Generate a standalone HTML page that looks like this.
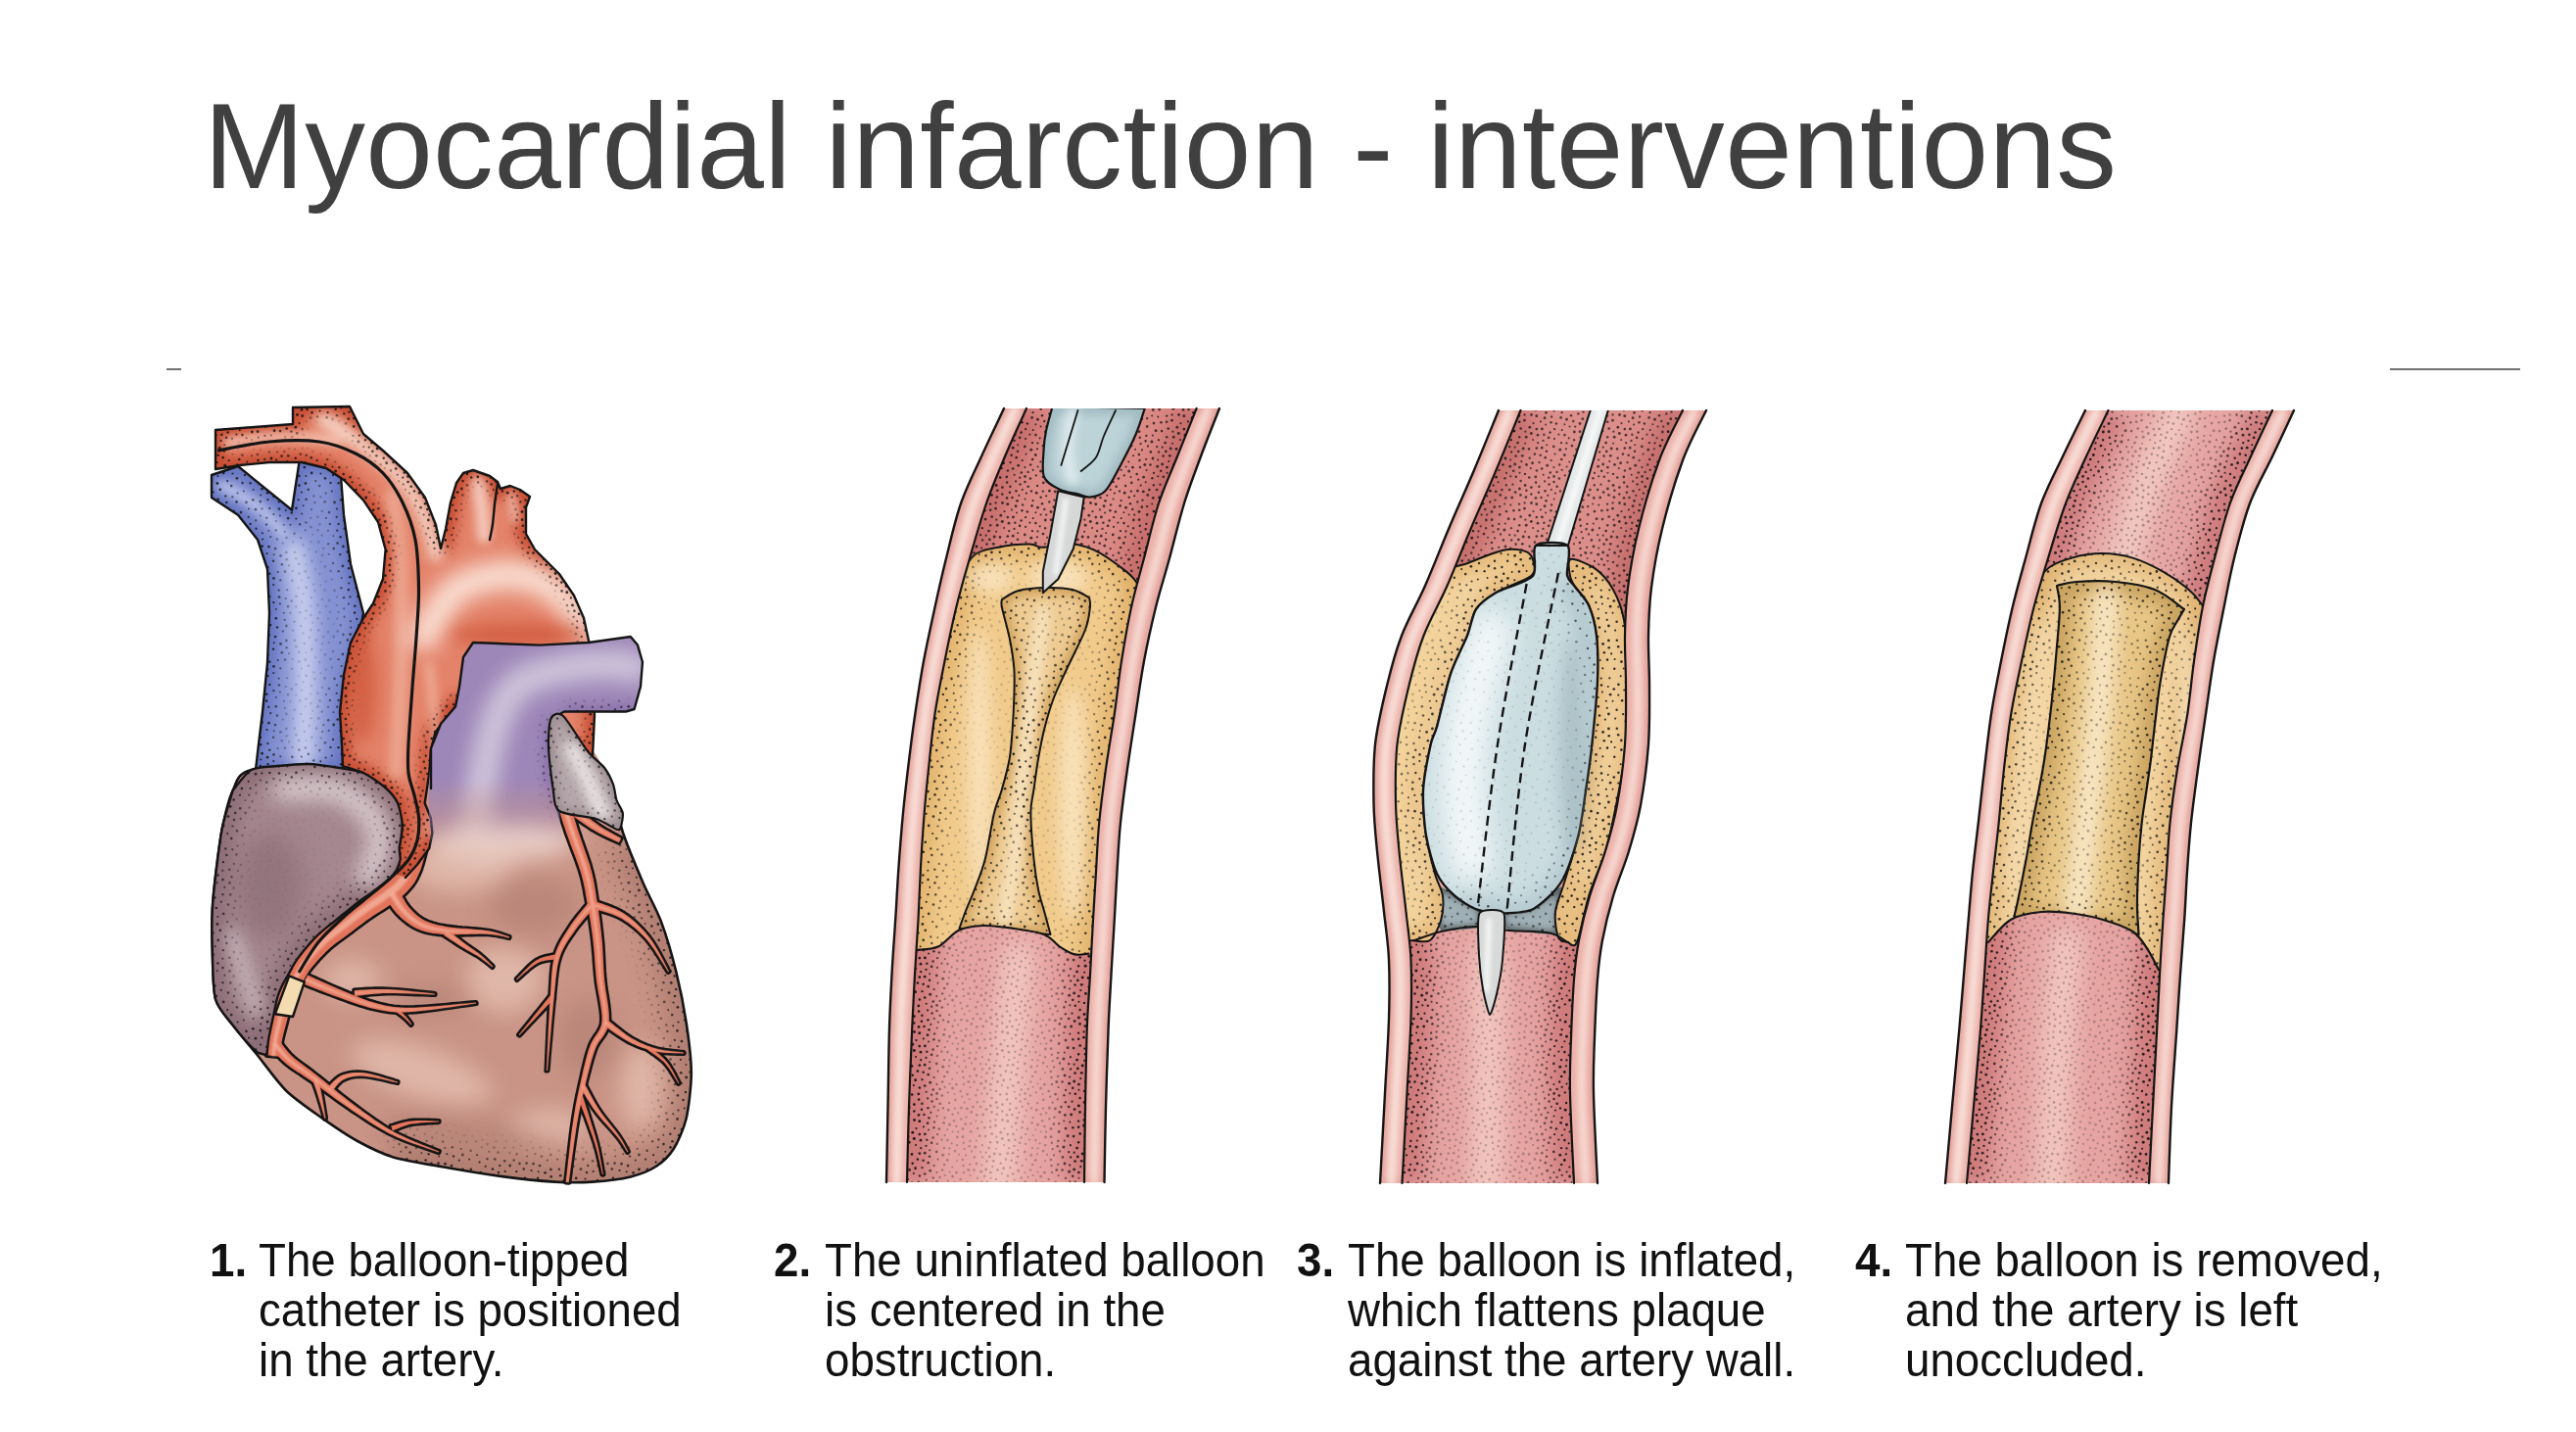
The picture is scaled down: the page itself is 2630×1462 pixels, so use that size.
<!DOCTYPE html>
<html><head><meta charset="utf-8">
<style>
html,body{margin:0;padding:0;background:#fff;}
body{width:2630px;height:1462px;position:relative;overflow:hidden;font-family:"Liberation Sans",sans-serif;}
#title{position:absolute;left:208px;top:88px;font-size:123.4px;letter-spacing:0.34px;color:#404040;white-space:nowrap;line-height:1;transform-origin:0 0;}
.ln{position:absolute;height:2px;background:#727272;}
.cap{position:absolute;font-size:45.7px;line-height:51px;color:#111;white-space:nowrap;}
.cap span{display:block;transform:scaleY(1.06);transform-origin:0 41px;}
svg{position:absolute;left:0;top:0;}
</style></head><body>
<svg width="2630" height="1462" viewBox="0 0 2630 1462"><defs><pattern id="st1" width="90" height="90" patternUnits="userSpaceOnUse"><g fill="#111" fill-opacity="0.9"><circle cx="21.4" cy="49.0" r="1.49"/><circle cx="33.3" cy="54.4" r="1.23"/><circle cx="56.3" cy="5.9" r="1.36"/><circle cx="1.2" cy="75.4" r="1.37"/><circle cx="91.2" cy="75.4" r="1.37"/><circle cx="23.3" cy="21.1" r="1.11"/><circle cx="-0.4" cy="42.3" r="1.04"/><circle cx="89.6" cy="42.3" r="1.04"/><circle cx="75.3" cy="42.9" r="1.30"/><circle cx="57.5" cy="13.6" r="1.06"/><circle cx="57.1" cy="78.1" r="1.19"/><circle cx="47.1" cy="66.7" r="1.44"/><circle cx="68.2" cy="53.2" r="1.44"/><circle cx="27.1" cy="2.8" r="1.06"/><circle cx="64.7" cy="79.1" r="1.04"/><circle cx="35.5" cy="72.1" r="1.11"/><circle cx="40.0" cy="84.2" r="1.41"/><circle cx="79.1" cy="8.8" r="1.01"/><circle cx="12.2" cy="19.5" r="1.11"/><circle cx="56.4" cy="27.1" r="1.05"/><circle cx="45.7" cy="34.7" r="1.06"/><circle cx="52.6" cy="81.4" r="1.26"/><circle cx="61.4" cy="83.6" r="1.09"/><circle cx="77.1" cy="-0.8" r="1.20"/><circle cx="77.1" cy="89.2" r="1.20"/><circle cx="81.4" cy="51.2" r="1.37"/><circle cx="64.2" cy="19.0" r="1.36"/><circle cx="74.8" cy="51.6" r="1.21"/><circle cx="8.0" cy="72.1" r="1.39"/><circle cx="36.9" cy="13.6" r="1.29"/><circle cx="26.5" cy="69.2" r="1.41"/><circle cx="64.7" cy="29.8" r="1.12"/><circle cx="45.5" cy="-0.1" r="1.18"/><circle cx="45.5" cy="89.9" r="1.18"/><circle cx="17.8" cy="36.7" r="1.29"/><circle cx="28.2" cy="86.3" r="1.47"/><circle cx="80.7" cy="34.0" r="1.31"/><circle cx="41.4" cy="46.8" r="1.24"/><circle cx="57.9" cy="53.6" r="1.13"/><circle cx="50.3" cy="55.8" r="1.14"/><circle cx="84.7" cy="45.6" r="1.11"/><circle cx="38.8" cy="64.8" r="1.49"/><circle cx="21.4" cy="27.1" r="1.44"/><circle cx="1.8" cy="55.4" r="1.45"/><circle cx="56.5" cy="42.0" r="1.26"/><circle cx="63.6" cy="66.4" r="1.35"/><circle cx="2.0" cy="5.5" r="1.15"/><circle cx="22.6" cy="41.1" r="1.24"/><circle cx="32.8" cy="28.1" r="1.07"/><circle cx="27.0" cy="33.9" r="1.21"/><circle cx="69.5" cy="2.4" r="1.13"/><circle cx="72.3" cy="21.5" r="1.05"/><circle cx="62.8" cy="9.2" r="1.46"/><circle cx="77.0" cy="15.2" r="1.05"/><circle cx="20.3" cy="10.9" r="1.41"/><circle cx="47.7" cy="17.2" r="1.35"/><circle cx="72.6" cy="75.5" r="1.05"/><circle cx="72.7" cy="57.8" r="1.24"/><circle cx="72.6" cy="31.1" r="1.50"/><circle cx="11.7" cy="26.3" r="1.49"/><circle cx="31.2" cy="37.5" r="1.28"/><circle cx="37.8" cy="36.9" r="1.39"/><circle cx="82.9" cy="14.0" r="1.35"/><circle cx="0.4" cy="84.9" r="1.15"/><circle cx="90.4" cy="84.9" r="1.15"/><circle cx="83.5" cy="20.0" r="1.27"/><circle cx="59.7" cy="46.7" r="1.30"/><circle cx="81.3" cy="62.4" r="1.20"/><circle cx="83.1" cy="80.7" r="1.41"/><circle cx="1.2" cy="67.1" r="1.22"/><circle cx="91.2" cy="67.1" r="1.22"/><circle cx="22.7" cy="77.5" r="1.37"/><circle cx="42.9" cy="70.4" r="1.03"/><circle cx="31.7" cy="17.8" r="1.22"/><circle cx="48.1" cy="73.5" r="1.02"/><circle cx="15.4" cy="71.3" r="1.32"/><circle cx="83.0" cy="72.5" r="1.44"/><circle cx="4.5" cy="24.4" r="1.27"/><circle cx="38.1" cy="42.6" r="1.28"/><circle cx="4.9" cy="11.4" r="1.31"/><circle cx="11.2" cy="6.2" r="1.11"/><circle cx="7.8" cy="45.2" r="1.19"/><circle cx="52.8" cy="32.5" r="1.29"/><circle cx="11.1" cy="50.0" r="1.32"/><circle cx="41.5" cy="22.1" r="1.19"/><circle cx="6.4" cy="38.2" r="1.24"/><circle cx="69.1" cy="46.0" r="1.17"/><circle cx="67.4" cy="84.1" r="1.28"/><circle cx="22.5" cy="55.4" r="1.34"/><circle cx="67.8" cy="35.4" r="1.16"/><circle cx="87.6" cy="37.2" r="1.34"/><circle cx="67.3" cy="14.5" r="1.42"/><circle cx="43.5" cy="57.9" r="1.27"/><circle cx="16.7" cy="24.1" r="1.49"/><circle cx="26.6" cy="63.5" r="1.15"/><circle cx="19.6" cy="2.1" r="1.46"/><circle cx="12.9" cy="-0.8" r="1.09"/><circle cx="12.9" cy="89.2" r="1.09"/><circle cx="21.1" cy="64.6" r="1.18"/><circle cx="77.3" cy="81.0" r="1.41"/><circle cx="0.6" cy="30.1" r="1.02"/><circle cx="90.6" cy="30.1" r="1.02"/><circle cx="49.0" cy="10.7" r="1.31"/><circle cx="10.1" cy="79.8" r="1.44"/><circle cx="69.5" cy="68.2" r="1.47"/><circle cx="58.9" cy="72.5" r="1.34"/><circle cx="86.5" cy="60.6" r="1.17"/><circle cx="64.6" cy="61.1" r="1.17"/><circle cx="16.1" cy="80.1" r="1.32"/><circle cx="53.8" cy="49.9" r="1.03"/><circle cx="6.2" cy="64.4" r="1.01"/><circle cx="31.8" cy="76.2" r="1.44"/><circle cx="47.5" cy="51.2" r="1.31"/><circle cx="57.0" cy="87.9" r="1.08"/><circle cx="54.1" cy="65.4" r="1.21"/><circle cx="47.1" cy="41.4" r="1.14"/><circle cx="7.0" cy="18.0" r="1.43"/><circle cx="14.5" cy="44.7" r="1.14"/><circle cx="38.0" cy="58.4" r="1.36"/><circle cx="33.4" cy="47.6" r="1.37"/><circle cx="53.7" cy="20.1" r="1.16"/><circle cx="0.2" cy="18.8" r="1.13"/><circle cx="90.2" cy="18.8" r="1.13"/><circle cx="42.7" cy="14.8" r="1.26"/><circle cx="84.0" cy="27.0" r="1.20"/><circle cx="31.0" cy="8.4" r="1.30"/><circle cx="84.6" cy="3.1" r="1.16"/><circle cx="24.3" cy="15.3" r="1.40"/><circle cx="64.0" cy="2.1" r="1.21"/><circle cx="86.0" cy="9.4" r="1.07"/><circle cx="7.3" cy="58.4" r="1.39"/><circle cx="13.7" cy="58.0" r="1.45"/><circle cx="38.8" cy="7.6" r="1.34"/><circle cx="38.9" cy="30.4" r="1.27"/><circle cx="49.7" cy="25.2" r="1.44"/><circle cx="28.5" cy="24.4" r="1.47"/><circle cx="49.2" cy="4.2" r="1.00"/><circle cx="21.2" cy="86.2" r="1.24"/><circle cx="35.1" cy="88.9" r="1.01"/><circle cx="13.1" cy="11.4" r="1.17"/><circle cx="68.9" cy="8.3" r="1.12"/><circle cx="76.3" cy="70.0" r="1.23"/><circle cx="38.8" cy="78.1" r="1.34"/><circle cx="27.1" cy="45.5" r="1.43"/><circle cx="82.2" cy="39.7" r="1.13"/><circle cx="56.6" cy="59.4" r="1.01"/><circle cx="5.9" cy="0.9" r="1.50"/><circle cx="5.9" cy="90.9" r="1.50"/><circle cx="75.0" cy="5.1" r="1.39"/><circle cx="61.9" cy="38.5" r="1.28"/><circle cx="12.3" cy="65.6" r="1.06"/><circle cx="67.4" cy="73.3" r="1.03"/><circle cx="87.3" cy="51.9" r="1.47"/><circle cx="74.0" cy="64.3" r="1.26"/><circle cx="34.6" cy="22.7" r="1.43"/><circle cx="33.5" cy="63.5" r="1.39"/><circle cx="27.9" cy="57.6" r="1.38"/><circle cx="76.4" cy="27.2" r="1.40"/><circle cx="12.3" cy="36.3" r="1.13"/><circle cx="27.4" cy="80.7" r="1.12"/><circle cx="83.8" cy="86.7" r="1.22"/><circle cx="56.6" cy="36.4" r="1.38"/><circle cx="17.1" cy="52.6" r="1.40"/><circle cx="85.8" cy="67.7" r="1.38"/><circle cx="40.9" cy="52.8" r="1.29"/><circle cx="62.2" cy="24.4" r="1.24"/><circle cx="71.7" cy="87.3" r="1.10"/><circle cx="3.4" cy="50.1" r="1.33"/><circle cx="15.2" cy="30.8" r="1.33"/><circle cx="28.4" cy="50.8" r="1.26"/><circle cx="44.2" cy="28.5" r="1.36"/><circle cx="33.3" cy="82.5" r="1.49"/><circle cx="44.4" cy="77.9" r="1.47"/><circle cx="6.8" cy="84.6" r="1.05"/><circle cx="78.2" cy="56.3" r="1.14"/><circle cx="17.6" cy="15.6" r="1.31"/><circle cx="51.1" cy="86.8" r="1.34"/><circle cx="8.0" cy="32.9" r="1.14"/><circle cx="-1.2" cy="24.5" r="1.47"/><circle cx="88.8" cy="24.5" r="1.47"/><circle cx="46.4" cy="83.7" r="1.23"/><circle cx="44.2" cy="7.2" r="1.38"/><circle cx="69.6" cy="26.5" r="1.03"/><circle cx="40.2" cy="2.2" r="1.14"/><circle cx="74.5" cy="37.0" r="1.01"/><circle cx="48.5" cy="61.3" r="1.40"/><circle cx="-0.4" cy="0.3" r="1.26"/><circle cx="-0.4" cy="90.3" r="1.26"/><circle cx="89.6" cy="0.3" r="1.26"/><circle cx="89.6" cy="90.3" r="1.26"/><circle cx="25.2" cy="8.0" r="1.48"/><circle cx="53.4" cy="71.3" r="1.30"/><circle cx="51.2" cy="37.7" r="1.16"/><circle cx="63.0" cy="51.4" r="1.18"/><circle cx="59.6" cy="31.9" r="1.19"/><circle cx="16.7" cy="6.7" r="1.10"/><circle cx="21.5" cy="32.8" r="1.05"/><circle cx="21.2" cy="70.8" r="1.32"/><circle cx="78.2" cy="75.6" r="1.16"/><circle cx="51.6" cy="44.5" r="1.23"/></g></pattern>
<pattern id="st2" width="90" height="90" patternUnits="userSpaceOnUse"><g fill="#111" fill-opacity="0.85"><circle cx="29.1" cy="13.6" r="1.06"/><circle cx="58.6" cy="6.5" r="1.21"/><circle cx="48.2" cy="32.9" r="1.39"/><circle cx="5.2" cy="45.7" r="1.25"/><circle cx="3.4" cy="39.0" r="1.17"/><circle cx="6.3" cy="8.2" r="1.09"/><circle cx="38.2" cy="74.4" r="1.01"/><circle cx="11.1" cy="20.1" r="1.40"/><circle cx="56.5" cy="85.3" r="1.29"/><circle cx="87.9" cy="4.2" r="1.06"/><circle cx="77.3" cy="26.1" r="1.22"/><circle cx="13.0" cy="10.6" r="1.27"/><circle cx="27.8" cy="73.5" r="1.36"/><circle cx="16.3" cy="52.3" r="1.08"/><circle cx="57.5" cy="33.5" r="1.09"/><circle cx="49.3" cy="5.7" r="1.03"/><circle cx="28.3" cy="52.7" r="1.22"/><circle cx="40.8" cy="27.0" r="1.36"/><circle cx="71.5" cy="62.9" r="1.28"/><circle cx="47.3" cy="78.8" r="1.01"/><circle cx="65.7" cy="25.9" r="1.12"/><circle cx="88.2" cy="10.6" r="0.98"/><circle cx="13.7" cy="44.0" r="1.02"/><circle cx="3.5" cy="60.1" r="1.17"/><circle cx="68.8" cy="51.6" r="1.02"/><circle cx="62.6" cy="53.5" r="1.07"/><circle cx="52.2" cy="41.1" r="1.06"/><circle cx="75.6" cy="85.0" r="1.14"/><circle cx="42.7" cy="59.8" r="1.34"/><circle cx="34.7" cy="60.2" r="1.06"/><circle cx="5.3" cy="69.1" r="1.23"/><circle cx="73.7" cy="77.8" r="1.13"/><circle cx="25.1" cy="37.4" r="1.08"/><circle cx="32.3" cy="79.6" r="1.08"/><circle cx="21.0" cy="43.6" r="1.30"/><circle cx="53.0" cy="23.6" r="1.33"/><circle cx="85.8" cy="62.1" r="1.28"/><circle cx="81.0" cy="70.2" r="1.35"/><circle cx="35.3" cy="35.9" r="1.28"/><circle cx="9.3" cy="57.1" r="1.08"/><circle cx="18.8" cy="14.6" r="1.06"/><circle cx="30.6" cy="4.7" r="1.21"/><circle cx="9.1" cy="32.7" r="1.22"/><circle cx="2.3" cy="78.7" r="1.30"/><circle cx="55.3" cy="13.4" r="1.36"/><circle cx="22.7" cy="31.3" r="1.31"/><circle cx="41.9" cy="43.5" r="1.39"/><circle cx="30.8" cy="23.8" r="1.25"/><circle cx="74.6" cy="14.5" r="1.26"/><circle cx="2.1" cy="85.6" r="1.31"/><circle cx="47.5" cy="13.2" r="1.17"/><circle cx="47.5" cy="88.1" r="1.31"/><circle cx="15.0" cy="69.5" r="1.34"/><circle cx="47.9" cy="70.1" r="1.18"/><circle cx="2.5" cy="25.1" r="1.10"/><circle cx="23.3" cy="62.3" r="1.12"/><circle cx="86.1" cy="40.3" r="1.23"/><circle cx="86.0" cy="32.8" r="1.20"/><circle cx="75.6" cy="43.2" r="1.17"/><circle cx="58.8" cy="72.0" r="1.13"/><circle cx="67.5" cy="43.0" r="1.28"/><circle cx="36.1" cy="85.2" r="1.26"/><circle cx="65.2" cy="15.3" r="1.37"/><circle cx="11.8" cy="1.3" r="1.38"/><circle cx="11.8" cy="91.3" r="1.38"/><circle cx="11.8" cy="81.9" r="0.96"/><circle cx="39.6" cy="16.5" r="1.13"/><circle cx="9.5" cy="50.4" r="1.28"/><circle cx="62.9" cy="78.9" r="1.19"/><circle cx="84.8" cy="23.4" r="1.23"/><circle cx="19.8" cy="85.7" r="1.07"/><circle cx="65.0" cy="1.8" r="1.12"/><circle cx="56.2" cy="46.1" r="1.34"/><circle cx="51.4" cy="63.0" r="1.25"/><circle cx="61.9" cy="38.3" r="1.35"/><circle cx="4.5" cy="18.2" r="1.36"/><circle cx="35.4" cy="45.6" r="1.36"/><circle cx="78.3" cy="60.3" r="1.34"/><circle cx="87.5" cy="49.2" r="1.36"/><circle cx="66.0" cy="73.1" r="1.35"/><circle cx="61.5" cy="62.4" r="1.37"/><circle cx="20.7" cy="2.8" r="1.14"/><circle cx="9.4" cy="75.2" r="1.13"/><circle cx="50.3" cy="56.5" r="1.15"/><circle cx="80.4" cy="17.9" r="1.30"/><circle cx="22.4" cy="23.9" r="1.39"/><circle cx="59.0" cy="27.1" r="1.25"/><circle cx="81.6" cy="-0.3" r="1.14"/><circle cx="81.6" cy="89.7" r="1.14"/><circle cx="85.9" cy="76.4" r="0.99"/><circle cx="26.5" cy="85.7" r="1.01"/><circle cx="86.2" cy="55.5" r="0.98"/><circle cx="74.0" cy="69.6" r="1.02"/><circle cx="70.4" cy="7.1" r="0.95"/><circle cx="45.7" cy="20.8" r="1.13"/><circle cx="14.7" cy="62.6" r="1.09"/><circle cx="70.7" cy="20.0" r="1.38"/><circle cx="37.8" cy="52.4" r="1.02"/><circle cx="78.6" cy="50.0" r="0.99"/><circle cx="32.4" cy="68.8" r="1.35"/><circle cx="66.9" cy="85.0" r="1.36"/><circle cx="77.6" cy="8.2" r="1.18"/><circle cx="70.0" cy="35.0" r="1.19"/><circle cx="57.3" cy="57.3" r="1.10"/><circle cx="37.1" cy="9.2" r="1.13"/><circle cx="81.2" cy="81.4" r="1.08"/><circle cx="39.6" cy="66.2" r="1.00"/><circle cx="16.6" cy="27.4" r="1.39"/><circle cx="79.9" cy="37.9" r="1.34"/><circle cx="44.8" cy="49.8" r="1.34"/><circle cx="15.9" cy="76.6" r="1.02"/><circle cx="54.3" cy="77.8" r="1.24"/><circle cx="41.7" cy="1.2" r="0.98"/><circle cx="17.8" cy="36.3" r="1.27"/><circle cx="42.4" cy="36.0" r="0.98"/><circle cx="60.2" cy="20.0" r="1.22"/><circle cx="28.6" cy="42.9" r="1.02"/><circle cx="22.4" cy="9.0" r="1.39"/><circle cx="3.1" cy="53.2" r="1.36"/><circle cx="87.4" cy="69.4" r="1.14"/><circle cx="24.1" cy="79.2" r="1.36"/><circle cx="32.2" cy="30.2" r="1.30"/><circle cx="21.8" cy="71.0" r="1.03"/><circle cx="54.5" cy="1.4" r="1.34"/><circle cx="87.6" cy="17.6" r="1.35"/><circle cx="4.3" cy="1.9" r="1.06"/><circle cx="42.4" cy="83.6" r="1.25"/><circle cx="74.2" cy="1.7" r="1.09"/><circle cx="9.7" cy="26.3" r="0.96"/></g></pattern>
<pattern id="st3" width="90" height="90" patternUnits="userSpaceOnUse"><g fill="#111" fill-opacity="0.8"><circle cx="40.7" cy="50.4" r="1.23"/><circle cx="83.2" cy="41.9" r="0.99"/><circle cx="16.6" cy="46.1" r="1.28"/><circle cx="56.7" cy="71.4" r="1.10"/><circle cx="8.5" cy="27.3" r="1.06"/><circle cx="8.2" cy="72.9" r="1.15"/><circle cx="62.4" cy="3.8" r="0.97"/><circle cx="88.4" cy="86.8" r="0.98"/><circle cx="58.9" cy="55.4" r="1.07"/><circle cx="14.2" cy="1.4" r="0.99"/><circle cx="47.6" cy="5.4" r="1.17"/><circle cx="17.1" cy="21.8" r="1.07"/><circle cx="2.7" cy="41.8" r="1.05"/><circle cx="39.6" cy="75.8" r="1.01"/><circle cx="46.7" cy="57.6" r="0.99"/><circle cx="41.2" cy="25.0" r="1.19"/><circle cx="75.6" cy="63.7" r="1.26"/><circle cx="28.4" cy="20.7" r="1.04"/><circle cx="26.0" cy="6.3" r="1.22"/><circle cx="69.0" cy="36.0" r="1.03"/><circle cx="86.2" cy="76.3" r="1.20"/><circle cx="0.0" cy="18.9" r="1.00"/><circle cx="90.0" cy="18.9" r="1.00"/><circle cx="6.6" cy="56.7" r="1.13"/><circle cx="70.1" cy="24.3" r="1.06"/><circle cx="71.7" cy="16.0" r="1.25"/><circle cx="50.3" cy="40.3" r="1.20"/><circle cx="17.2" cy="65.9" r="0.94"/><circle cx="10.5" cy="37.9" r="0.94"/><circle cx="27.4" cy="79.6" r="1.08"/><circle cx="19.0" cy="35.5" r="0.99"/><circle cx="21.9" cy="54.1" r="1.00"/><circle cx="33.5" cy="40.8" r="1.28"/><circle cx="51.7" cy="78.0" r="1.28"/><circle cx="66.5" cy="84.6" r="0.91"/><circle cx="79.4" cy="54.3" r="0.91"/><circle cx="37.9" cy="9.3" r="1.15"/><circle cx="53.7" cy="26.4" r="1.28"/><circle cx="88.2" cy="59.1" r="1.26"/><circle cx="43.4" cy="65.7" r="1.18"/><circle cx="66.3" cy="63.3" r="1.20"/><circle cx="31.7" cy="61.7" r="1.09"/><circle cx="56.2" cy="34.4" r="1.10"/><circle cx="62.9" cy="44.8" r="1.24"/><circle cx="79.2" cy="34.6" r="0.94"/><circle cx="75.3" cy="76.4" r="1.17"/><circle cx="78.6" cy="3.7" r="1.19"/><circle cx="27.8" cy="71.2" r="0.96"/><circle cx="61.6" cy="17.9" r="1.21"/><circle cx="42.8" cy="16.1" r="0.97"/><circle cx="65.0" cy="73.7" r="1.29"/><circle cx="19.2" cy="81.0" r="1.21"/><circle cx="12.6" cy="13.4" r="1.08"/><circle cx="28.1" cy="34.3" r="1.13"/><circle cx="51.6" cy="18.1" r="1.29"/><circle cx="24.2" cy="42.6" r="1.05"/><circle cx="83.3" cy="11.7" r="0.98"/><circle cx="1.0" cy="32.0" r="1.18"/><circle cx="91.0" cy="32.0" r="1.18"/><circle cx="6.6" cy="81.5" r="1.26"/><circle cx="54.3" cy="10.4" r="0.96"/><circle cx="70.6" cy="56.2" r="1.21"/><circle cx="3.6" cy="5.5" r="1.06"/><circle cx="29.3" cy="49.4" r="1.17"/><circle cx="38.5" cy="33.2" r="1.09"/><circle cx="79.3" cy="25.3" r="1.28"/><circle cx="73.5" cy="43.2" r="1.13"/><circle cx="49.3" cy="86.1" r="1.29"/><circle cx="34.6" cy="83.6" r="1.29"/><circle cx="51.2" cy="48.9" r="0.95"/><circle cx="54.3" cy="62.5" r="1.28"/><circle cx="84.1" cy="67.7" r="1.20"/><circle cx="80.9" cy="83.2" r="0.96"/><circle cx="47.4" cy="31.9" r="1.13"/><circle cx="87.5" cy="50.5" r="1.01"/><circle cx="57.7" cy="84.5" r="0.92"/><circle cx="71.2" cy="7.5" r="0.92"/><circle cx="27.0" cy="88.1" r="1.05"/><circle cx="38.6" cy="1.1" r="1.25"/><circle cx="38.6" cy="91.1" r="1.25"/><circle cx="4.3" cy="65.3" r="0.93"/><circle cx="62.0" cy="28.3" r="1.13"/><circle cx="7.7" cy="48.5" r="1.25"/><circle cx="23.0" cy="14.2" r="1.05"/></g></pattern>
<filter id="b10" filterUnits="userSpaceOnUse" x="0" y="0" width="2630" height="1462"><feGaussianBlur stdDeviation="10"/></filter>
<filter id="b1_5" filterUnits="userSpaceOnUse" x="0" y="0" width="2630" height="1462"><feGaussianBlur stdDeviation="1.5"/></filter>
<mask id="m2" maskUnits="userSpaceOnUse" x="0" y="0" width="2630" height="1462"><rect width="2630" height="1462" fill="#d0d0d0"/><path d="M1048 417C1044.3 425.2 1032.8 449.8 1026 466C1019.2 482.2 1013 496.7 1007 514C1001 531.3 995.1 552.3 990 570C984.9 587.7 980.5 602.5 976.3 620C972 637.5 968.1 656.8 964.5 675C960.9 693.2 957.2 710.7 954.5 729C951.8 747.3 949.8 768.2 948 785C946.2 801.8 945 813.3 943.7 830C942.4 846.7 941 866.8 940 885C939 903.2 938.5 920.7 937.5 939C936.5 957.3 935 976.5 934 995C933 1013.5 932.2 1027.5 931.2 1050C930.2 1072.5 928.9 1103.8 928 1130C927.1 1156.2 926.3 1194.2 926 1207" fill="none" stroke="#fff" stroke-width="10" filter="url(#b1_5)"/><path d="M1221.6 417C1218.3 425.2 1208.4 449.8 1202 466C1195.6 482.2 1188.7 496.7 1183 514C1177.3 531.3 1172.7 552.3 1168 570C1163.3 587.7 1158.8 602.5 1155 620C1151.2 637.5 1147.9 656.8 1145 675C1142.1 693.2 1140.5 710.7 1137.8 729C1135.1 747.3 1131.6 766.5 1129 785C1126.4 803.5 1123.9 822.5 1122.2 840C1120.5 857.5 1120 873.5 1119 890C1118 906.5 1117 921.5 1116 939C1115 956.5 1114 976.5 1113 995C1112 1013.5 1110.6 1027.5 1109.8 1050C1109 1072.5 1108.5 1103.8 1108 1130C1107.5 1156.2 1107.2 1194.2 1107 1207" fill="none" stroke="#fff" stroke-width="10" filter="url(#b1_5)"/></mask>
<filter id="b8" filterUnits="userSpaceOnUse" x="0" y="0" width="2630" height="1462"><feGaussianBlur stdDeviation="8"/></filter>
<mask id="m4" maskUnits="userSpaceOnUse" x="0" y="0" width="2630" height="1462"><rect width="2630" height="1462" fill="#333"/><path d="M1048 417C1044.3 425.2 1032.8 449.8 1026 466C1019.2 482.2 1013 496.7 1007 514C1001 531.3 995.1 552.3 990 570C984.9 587.7 980.5 602.5 976.3 620C972 637.5 968.1 656.8 964.5 675C960.9 693.2 957.2 710.7 954.5 729C951.8 747.3 949.8 768.2 948 785C946.2 801.8 945 813.3 943.7 830C942.4 846.7 941 866.8 940 885C939 903.2 938.5 920.7 937.5 939C936.5 957.3 935 976.5 934 995C933 1013.5 932.2 1027.5 931.2 1050C930.2 1072.5 928.9 1103.8 928 1130C927.1 1156.2 926.3 1194.2 926 1207" fill="none" stroke="#fff" stroke-width="40" filter="url(#b10)"/><path d="M1221.6 417C1218.3 425.2 1208.4 449.8 1202 466C1195.6 482.2 1188.7 496.7 1183 514C1177.3 531.3 1172.7 552.3 1168 570C1163.3 587.7 1158.8 602.5 1155 620C1151.2 637.5 1147.9 656.8 1145 675C1142.1 693.2 1140.5 710.7 1137.8 729C1135.1 747.3 1131.6 766.5 1129 785C1126.4 803.5 1123.9 822.5 1122.2 840C1120.5 857.5 1120 873.5 1119 890C1118 906.5 1117 921.5 1116 939C1115 956.5 1114 976.5 1113 995C1112 1013.5 1110.6 1027.5 1109.8 1050C1109 1072.5 1108.5 1103.8 1108 1130C1107.5 1156.2 1107.2 1194.2 1107 1207" fill="none" stroke="#fff" stroke-width="40" filter="url(#b10)"/><path d="M975 600C978.1 594.7 985.9 574.9 993.4 568C1000.9 561.1 1010.2 560.8 1019.8 558.7C1029.4 556.6 1043.6 555.6 1050.8 555.6C1058 555.6 1058.1 558.5 1063 558.7C1067.9 558.9 1074.3 557.5 1080 557C1085.7 556.5 1090.6 554.5 1097.4 555.6C1104.2 556.7 1112.9 559.5 1120.7 563.4C1128.5 567.3 1137.8 574.4 1144 579C1150.2 583.6 1153.7 586.1 1158 591.3C1162.3 596.5 1168 606.9 1170 610" fill="none" stroke="#fff" stroke-width="40" filter="url(#b10)"/></mask>
<filter id="b5" filterUnits="userSpaceOnUse" x="0" y="0" width="2630" height="1462"><feGaussianBlur stdDeviation="5"/></filter>
<filter id="b6" filterUnits="userSpaceOnUse" x="0" y="0" width="2630" height="1462"><feGaussianBlur stdDeviation="6"/></filter>
<mask id="m6" maskUnits="userSpaceOnUse" x="0" y="0" width="2630" height="1462"><rect width="2630" height="1462" fill="#555"/><path d="M1023 612C1023 613.3 1021.6 613.5 1022.9 620C1024.2 626.5 1028.5 640.7 1030.6 651C1032.7 661.3 1034.5 671.7 1035.3 682C1036.1 692.3 1035.6 702.7 1035.3 713C1035 723.3 1034.5 733.7 1033.7 744C1032.9 754.3 1032.4 764.7 1030.6 775C1028.8 785.3 1025.5 796.8 1022.9 806C1020.3 815.2 1017.9 818.2 1015 830C1012.1 841.8 1009.1 864 1005.8 877C1002.5 890 998.4 899 995 908C991.6 917 988.2 924.3 985.6 931C983 937.7 980.4 945.2 979.4 948L1072.5 954C1071.5 950.2 1068.4 938.7 1066.3 931C1064.2 923.3 1061.8 917 1060 908C1058.2 899 1056.8 890 1055.5 877C1054.2 864 1052.4 841.8 1052.4 830C1052.4 818.2 1054.2 815.2 1055.5 806C1056.8 796.8 1058.2 785.3 1060 775C1061.8 764.7 1063.7 754.3 1066.3 744C1068.9 733.7 1071.8 723.3 1075.7 713C1079.6 702.7 1084.2 693.7 1089.6 682C1095 670.3 1104.1 653.3 1108 643C1111.9 632.7 1112.2 625.5 1112.9 620C1113.6 614.5 1112.2 611.7 1112 610C1109.2 608.7 1102.3 603.7 1095 602C1087.7 600.3 1077.2 599.8 1068 600C1058.8 600.2 1047.5 601 1040 603C1032.5 605 1025.8 610.5 1023 612Z" fill="none" stroke="#fff" stroke-width="30" filter="url(#b6)"/></mask>
<filter id="b12" filterUnits="userSpaceOnUse" x="0" y="0" width="2630" height="1462"><feGaussianBlur stdDeviation="12"/></filter>
<mask id="m8" maskUnits="userSpaceOnUse" x="0" y="0" width="2630" height="1462"><rect width="2630" height="1462" fill="#444"/><path d="M1048 417C1044.3 425.2 1032.8 449.8 1026 466C1019.2 482.2 1013 496.7 1007 514C1001 531.3 995.1 552.3 990 570C984.9 587.7 980.5 602.5 976.3 620C972 637.5 968.1 656.8 964.5 675C960.9 693.2 957.2 710.7 954.5 729C951.8 747.3 949.8 768.2 948 785C946.2 801.8 945 813.3 943.7 830C942.4 846.7 941 866.8 940 885C939 903.2 938.5 920.7 937.5 939C936.5 957.3 935 976.5 934 995C933 1013.5 932.2 1027.5 931.2 1050C930.2 1072.5 928.9 1103.8 928 1130C927.1 1156.2 926.3 1194.2 926 1207" fill="none" stroke="#fff" stroke-width="50" filter="url(#b10)"/><path d="M1221.6 417C1218.3 425.2 1208.4 449.8 1202 466C1195.6 482.2 1188.7 496.7 1183 514C1177.3 531.3 1172.7 552.3 1168 570C1163.3 587.7 1158.8 602.5 1155 620C1151.2 637.5 1147.9 656.8 1145 675C1142.1 693.2 1140.5 710.7 1137.8 729C1135.1 747.3 1131.6 766.5 1129 785C1126.4 803.5 1123.9 822.5 1122.2 840C1120.5 857.5 1120 873.5 1119 890C1118 906.5 1117 921.5 1116 939C1115 956.5 1114 976.5 1113 995C1112 1013.5 1110.6 1027.5 1109.8 1050C1109 1072.5 1108.5 1103.8 1108 1130C1107.5 1156.2 1107.2 1194.2 1107 1207" fill="none" stroke="#fff" stroke-width="50" filter="url(#b10)"/></mask>
<filter id="b2" filterUnits="userSpaceOnUse" x="0" y="0" width="2630" height="1462"><feGaussianBlur stdDeviation="2"/></filter>
<filter id="b3" filterUnits="userSpaceOnUse" x="0" y="0" width="2630" height="1462"><feGaussianBlur stdDeviation="3"/></filter>
<mask id="m14" maskUnits="userSpaceOnUse" x="0" y="0" width="2630" height="1462"><rect width="2630" height="1462" fill="#c0c0c0"/><path d="M1552.5 419C1548.3 429.2 1536 459.8 1527.5 480C1519 500.2 1509.8 520.3 1501.5 540C1493.2 559.7 1485.5 579.8 1477.5 598C1469.5 616.2 1460 632 1453.5 649C1447 666 1443 681.5 1438.5 700C1434 718.5 1428.8 740 1426.5 760C1424.2 780 1424.7 801.8 1425 820C1425.3 838.2 1426.8 850.5 1428.5 869C1430.2 887.5 1433.5 912.5 1435.5 931C1437.5 949.5 1439.7 961.8 1440.5 980C1441.3 998.2 1441.2 1017.3 1440.5 1040C1439.8 1062.7 1438 1088 1436.5 1116C1435 1144 1432.3 1192.7 1431.5 1208" fill="none" stroke="#fff" stroke-width="10" filter="url(#b1_5)"/><path d="M1718 419C1714 427.5 1701.5 449.8 1694 470C1686.5 490.2 1678.3 518.3 1673 540C1667.7 561.7 1664.3 581.8 1662 600C1659.7 618.2 1659.3 632.3 1659 649C1658.7 665.7 1660 681.5 1660 700C1660 718.5 1660.5 739.7 1659 760C1657.5 780.3 1654.3 803.8 1651 822C1647.7 840.2 1643.7 853.5 1639 869C1634.3 884.5 1627.5 899.8 1623 915C1618.5 930.2 1614.7 945.8 1612 960C1609.3 974.2 1608.3 983.3 1607 1000C1605.7 1016.7 1604.7 1040.7 1604 1060C1603.3 1079.3 1602.5 1091.3 1603 1116C1603.5 1140.7 1606.3 1192.7 1607 1208" fill="none" stroke="#fff" stroke-width="10" filter="url(#b1_5)"/></mask>
<mask id="m16" maskUnits="userSpaceOnUse" x="0" y="0" width="2630" height="1462"><rect width="2630" height="1462" fill="#444"/><path d="M1552.5 419C1548.3 429.2 1536 459.8 1527.5 480C1519 500.2 1509.8 520.3 1501.5 540C1493.2 559.7 1485.5 579.8 1477.5 598C1469.5 616.2 1460 632 1453.5 649C1447 666 1443 681.5 1438.5 700C1434 718.5 1428.8 740 1426.5 760C1424.2 780 1424.7 801.8 1425 820C1425.3 838.2 1426.8 850.5 1428.5 869C1430.2 887.5 1433.5 912.5 1435.5 931C1437.5 949.5 1439.7 961.8 1440.5 980C1441.3 998.2 1441.2 1017.3 1440.5 1040C1439.8 1062.7 1438 1088 1436.5 1116C1435 1144 1432.3 1192.7 1431.5 1208" fill="none" stroke="#fff" stroke-width="50" filter="url(#b10)"/><path d="M1718 419C1714 427.5 1701.5 449.8 1694 470C1686.5 490.2 1678.3 518.3 1673 540C1667.7 561.7 1664.3 581.8 1662 600C1659.7 618.2 1659.3 632.3 1659 649C1658.7 665.7 1660 681.5 1660 700C1660 718.5 1660.5 739.7 1659 760C1657.5 780.3 1654.3 803.8 1651 822C1647.7 840.2 1643.7 853.5 1639 869C1634.3 884.5 1627.5 899.8 1623 915C1618.5 930.2 1614.7 945.8 1612 960C1609.3 974.2 1608.3 983.3 1607 1000C1605.7 1016.7 1604.7 1040.7 1604 1060C1603.3 1079.3 1602.5 1091.3 1603 1116C1603.5 1140.7 1606.3 1192.7 1607 1208" fill="none" stroke="#fff" stroke-width="50" filter="url(#b10)"/></mask>
<mask id="m18" maskUnits="userSpaceOnUse" x="0" y="0" width="2630" height="1462"><rect width="2630" height="1462" fill="#888"/><path d="M1470 905 L1512 926 L1514 947 L1471.6 951 L1462 930Z" fill="none" stroke="#fff" stroke-width="10" filter="url(#b2)"/></mask>
<mask id="m20" maskUnits="userSpaceOnUse" x="0" y="0" width="2630" height="1462"><rect width="2630" height="1462" fill="#888"/><path d="M1545 928 L1560 926 L1594 905 L1592 955 L1541.5 950 L1533 945 L1533 930Z" fill="none" stroke="#fff" stroke-width="10" filter="url(#b2)"/></mask>
<filter id="b9" filterUnits="userSpaceOnUse" x="0" y="0" width="2630" height="1462"><feGaussianBlur stdDeviation="9"/></filter>
<mask id="m22" maskUnits="userSpaceOnUse" x="0" y="0" width="2630" height="1462"><rect width="2630" height="1462" fill="#333"/><path d="M1496.5 575.7C1502.3 573.6 1525.7 563.6 1535 561.7C1544.3 559.8 1553.9 561.3 1558.6 563.3C1563.2 565.3 1565.3 571.3 1566 575C1566.7 578.7 1568.8 583.5 1563 588C1557.2 592.5 1535.9 599.9 1527.5 605C1519.1 610.1 1511.4 615.4 1507 622C1502.6 628.6 1501.9 639.1 1498 649C1494.1 658.9 1485.7 674 1481 688C1476.3 702 1470 731.2 1467 742C1464 752.8 1462.8 750.2 1460.7 760C1458.6 769.8 1453.7 793 1453 807C1452.3 821 1454.2 840.2 1456 853C1457.8 865.8 1462.5 882.7 1465 892C1467.5 901.3 1472.1 907.8 1473 915C1473.9 922.2 1473 933.2 1471 940C1469 946.8 1464.1 957 1460 960C1455.9 963 1446.1 960.3 1443.7 960.3L1400 960 L1400 600Z" fill="none" stroke="#fff" stroke-width="40" filter="url(#b10)"/></mask>
<mask id="m24" maskUnits="userSpaceOnUse" x="0" y="0" width="2630" height="1462"><rect width="2630" height="1462" fill="#333"/><path d="M1603.6 571C1607.4 569.9 1621.9 575.8 1628.4 580.4C1634.9 585 1642.6 594.1 1647 602C1651.4 609.9 1655.9 621.3 1658 633C1660.1 644.7 1660.7 661 1661 680C1661.3 699 1661.7 738.7 1660 760C1658.3 781.3 1653.2 805.6 1650 822C1646.8 838.4 1643.2 855 1639 869C1634.8 883 1626.3 901 1622 915C1617.7 929 1613.2 955 1610 962C1606.8 969 1603.3 962.8 1600.5 962C1597.7 961.2 1592.9 961.6 1591 957C1589.1 952.4 1587 939.5 1588 931C1589 922.5 1593.9 911.7 1597.4 900C1600.9 888.3 1608.2 867 1611.4 853C1614.6 839 1616.9 821 1619 807C1621.1 793 1623.6 776.8 1625.3 760C1627 743.2 1629.3 711.6 1630 695C1630.7 678.4 1631.2 660.5 1630 649C1628.8 637.5 1625.3 625.5 1622 618C1618.7 610.5 1610.8 603.5 1608 599C1605.2 594.5 1603.7 592.2 1603 588C1602.3 583.8 1599.8 572.1 1603.6 571Z" fill="none" stroke="#fff" stroke-width="40" filter="url(#b10)"/></mask>
<filter id="b14" filterUnits="userSpaceOnUse" x="0" y="0" width="2630" height="1462"><feGaussianBlur stdDeviation="14"/></filter>
<mask id="m27" maskUnits="userSpaceOnUse" x="0" y="0" width="2630" height="1462"><rect width="2630" height="1462" fill="#222"/><path d="M1600 590C1605.3 608.3 1630 655 1632 700C1634 745 1624 821.7 1612 860C1600 898.3 1580.3 920 1560 930C1539.7 940 1501.7 921.7 1490 920" fill="none" stroke="#fff" stroke-width="30" filter="url(#b10)"/></mask>
<mask id="m32" maskUnits="userSpaceOnUse" x="0" y="0" width="2630" height="1462"><rect width="2630" height="1462" fill="#555"/><path d="M2152.5 419C2148.8 426.8 2137.2 450.2 2130 466C2122.8 481.8 2115.5 496.7 2109 514C2102.5 531.3 2096.4 552.3 2091 570C2085.6 587.7 2081 602.5 2076.5 620C2072 637.5 2067.9 656.8 2064 675C2060.1 693.2 2056.2 710.7 2053.2 729C2050.2 747.3 2048.1 766.5 2046 785C2043.9 803.5 2042.5 822.5 2040.7 840C2038.9 857.5 2036.8 873.5 2035 890C2033.2 906.5 2031.4 921.5 2029.9 939C2028.4 956.5 2027.3 976.5 2026 995C2024.7 1013.5 2023.9 1027.5 2022.1 1050C2020.3 1072.5 2017.3 1103.7 2015 1130C2012.7 1156.3 2009.2 1195 2008 1208" fill="none" stroke="#fff" stroke-width="50" filter="url(#b10)"/><path d="M2320 419C2316.3 426.8 2305.2 450.2 2298 466C2290.8 481.8 2283 496.7 2276.8 514C2270.6 531.3 2265.7 552.3 2261 570C2256.3 587.7 2252.3 602.5 2248.8 620C2245.3 637.5 2242.6 656.8 2240 675C2237.4 693.2 2236.1 710.7 2233.3 729C2230.5 747.3 2226 766.5 2223 785C2220 803.5 2217.3 822.5 2215.5 840C2213.7 857.5 2213.2 873.5 2212 890C2210.8 906.5 2209.6 921.5 2208.4 939C2207.2 956.5 2206 976.5 2205 995C2204 1013.5 2203.4 1027.5 2202.2 1050C2201 1072.5 2199.4 1103.7 2198 1130C2196.6 1156.3 2194.7 1195 2194 1208" fill="none" stroke="#fff" stroke-width="50" filter="url(#b10)"/></mask>
<mask id="m34" maskUnits="userSpaceOnUse" x="0" y="0" width="2630" height="1462"><rect width="2630" height="1462" fill="#333"/><path d="M2152.5 419C2148.8 426.8 2137.2 450.2 2130 466C2122.8 481.8 2115.5 496.7 2109 514C2102.5 531.3 2096.4 552.3 2091 570C2085.6 587.7 2081 602.5 2076.5 620C2072 637.5 2067.9 656.8 2064 675C2060.1 693.2 2056.2 710.7 2053.2 729C2050.2 747.3 2048.1 766.5 2046 785C2043.9 803.5 2042.5 822.5 2040.7 840C2038.9 857.5 2036.8 873.5 2035 890C2033.2 906.5 2031.4 921.5 2029.9 939C2028.4 956.5 2027.3 976.5 2026 995C2024.7 1013.5 2023.9 1027.5 2022.1 1050C2020.3 1072.5 2017.3 1103.7 2015 1130C2012.7 1156.3 2009.2 1195 2008 1208" fill="none" stroke="#fff" stroke-width="40" filter="url(#b10)"/><path d="M2320 419C2316.3 426.8 2305.2 450.2 2298 466C2290.8 481.8 2283 496.7 2276.8 514C2270.6 531.3 2265.7 552.3 2261 570C2256.3 587.7 2252.3 602.5 2248.8 620C2245.3 637.5 2242.6 656.8 2240 675C2237.4 693.2 2236.1 710.7 2233.3 729C2230.5 747.3 2226 766.5 2223 785C2220 803.5 2217.3 822.5 2215.5 840C2213.7 857.5 2213.2 873.5 2212 890C2210.8 906.5 2209.6 921.5 2208.4 939C2207.2 956.5 2206 976.5 2205 995C2204 1013.5 2203.4 1027.5 2202.2 1050C2201 1072.5 2199.4 1103.7 2198 1130C2196.6 1156.3 2194.7 1195 2194 1208" fill="none" stroke="#fff" stroke-width="40" filter="url(#b10)"/><path d="M2070 620C2072.9 613.9 2079.8 592 2087.3 583.6C2094.9 575.2 2105.5 572.7 2115.3 569.6C2125.1 566.5 2136 565 2146.3 565C2156.7 565 2167.1 566.5 2177.4 569.6C2187.8 572.7 2199.1 578.4 2208.4 583.6C2217.7 588.8 2226.8 595.3 2233.3 600.7C2239.8 606.1 2242.9 609.7 2247.3 616.2C2251.8 622.8 2257.9 636 2260 640" fill="none" stroke="#fff" stroke-width="40" filter="url(#b10)"/></mask>
<mask id="m36" maskUnits="userSpaceOnUse" x="0" y="0" width="2630" height="1462"><rect width="2630" height="1462" fill="#666"/><path d="M2100 598C2100.5 601.7 2102.9 609.7 2102.9 620C2102.9 630.3 2101.1 647 2100 660C2098.9 673 2097.9 684.7 2096.6 698C2095.3 711.3 2093.6 727.2 2092 740C2090.4 752.8 2089.1 763.3 2087.3 775C2085.5 786.7 2083.1 799.2 2081 810C2078.9 820.8 2077.1 828.8 2075 840C2072.9 851.2 2071.3 863.2 2068.7 877C2066.1 890.8 2061.5 913.2 2059.4 923C2057.3 932.8 2056.8 933.5 2056.3 935.6L2183.6 954.2C2183.3 949 2182 935.9 2182 923C2182 910.1 2182.8 890.8 2183.6 877C2184.4 863.2 2185.5 851.2 2186.7 840C2187.9 828.8 2189.4 820.8 2191 810C2192.6 799.2 2194.5 786.7 2196 775C2197.5 763.3 2198.4 752.8 2200 740C2201.6 727.2 2202.9 712.8 2205.3 698C2207.8 683.2 2211.8 661.7 2214.7 651C2217.6 640.3 2220.4 638.8 2223 634C2225.6 629.2 2228.8 624 2230 622C2225 618.7 2211.7 606.7 2200 602C2188.3 597.3 2173.3 595.3 2160 594C2146.7 592.7 2130 593.3 2120 594C2110 594.7 2103.3 597.3 2100 598Z" fill="none" stroke="#fff" stroke-width="40" filter="url(#b8)"/></mask>
<mask id="m38" maskUnits="userSpaceOnUse" x="0" y="0" width="2630" height="1462"><rect width="2630" height="1462" fill="#444"/><path d="M2152.5 419C2148.8 426.8 2137.2 450.2 2130 466C2122.8 481.8 2115.5 496.7 2109 514C2102.5 531.3 2096.4 552.3 2091 570C2085.6 587.7 2081 602.5 2076.5 620C2072 637.5 2067.9 656.8 2064 675C2060.1 693.2 2056.2 710.7 2053.2 729C2050.2 747.3 2048.1 766.5 2046 785C2043.9 803.5 2042.5 822.5 2040.7 840C2038.9 857.5 2036.8 873.5 2035 890C2033.2 906.5 2031.4 921.5 2029.9 939C2028.4 956.5 2027.3 976.5 2026 995C2024.7 1013.5 2023.9 1027.5 2022.1 1050C2020.3 1072.5 2017.3 1103.7 2015 1130C2012.7 1156.3 2009.2 1195 2008 1208" fill="none" stroke="#fff" stroke-width="50" filter="url(#b10)"/><path d="M2320 419C2316.3 426.8 2305.2 450.2 2298 466C2290.8 481.8 2283 496.7 2276.8 514C2270.6 531.3 2265.7 552.3 2261 570C2256.3 587.7 2252.3 602.5 2248.8 620C2245.3 637.5 2242.6 656.8 2240 675C2237.4 693.2 2236.1 710.7 2233.3 729C2230.5 747.3 2226 766.5 2223 785C2220 803.5 2217.3 822.5 2215.5 840C2213.7 857.5 2213.2 873.5 2212 890C2210.8 906.5 2209.6 921.5 2208.4 939C2207.2 956.5 2206 976.5 2205 995C2204 1013.5 2203.4 1027.5 2202.2 1050C2201 1072.5 2199.4 1103.7 2198 1130C2196.6 1156.3 2194.7 1195 2194 1208" fill="none" stroke="#fff" stroke-width="50" filter="url(#b10)"/></mask>
<mask id="m42" maskUnits="userSpaceOnUse" x="0" y="0" width="2630" height="1462"><rect width="2630" height="1462" fill="#000"/><path d="M640 860C646.7 876.7 669.3 923.3 680 960C690.7 996.7 702.3 1045 704 1080C705.7 1115 704 1149.2 690 1170C676 1190.8 651.7 1200 620 1205C588.3 1210 536.7 1204.2 500 1200C463.3 1195.8 416.7 1183.3 400 1180" fill="none" stroke="#fff" stroke-width="46" filter="url(#b12)"/></mask>
<filter id="b1_2" filterUnits="userSpaceOnUse" x="0" y="0" width="2630" height="1462"><feGaussianBlur stdDeviation="1.2"/></filter>
<mask id="m44" maskUnits="userSpaceOnUse" x="0" y="0" width="2630" height="1462"><rect width="2630" height="1462" fill="#333"/><path d="M216 485 L243 476 L298 520.7 L305.6 471 L330 474 L348 486 L351 525.7 L358 576 L371 626 L365 660 L355 700 L350 740 L350 786 L261 786 L264 760 L268 727 L273 676.5 L275 626 L273 581 L263 551 L243 525.7 L216 508Z" fill="none" stroke="#fff" stroke-width="30" filter="url(#b8)"/></mask>
<filter id="b4" filterUnits="userSpaceOnUse" x="0" y="0" width="2630" height="1462"><feGaussianBlur stdDeviation="4"/></filter>
<filter id="b11" filterUnits="userSpaceOnUse" x="0" y="0" width="2630" height="1462"><feGaussianBlur stdDeviation="11"/></filter>
<mask id="m46" maskUnits="userSpaceOnUse" x="0" y="0" width="2630" height="1462"><rect width="2630" height="1462" fill="#000"/><path d="M400 890 L398.4 881 L407.6 866 L410.7 843 L406 820 L393.8 804.5 L370.7 789 L350 782 L349 760 L347 727 L351 689 L358 656 L371 631 L381 616 L391 591 L393.6 561 L386 533 L371 510.6 L351 490 L333 478 L308 472 L275 472 L245 475 L220 479 L220 439 L260 436 L299 433 L299 416 L357 415 L371 443 L391 460 L416 483 L434 508 L445 536 L450 560 L455 540 L460 513 L466 493 L473 483 L483 480 L500 486 L508 492 L511 499 L521 496 L531 500 L541 507 L537 518 L537 545 L546 561 L571 586 L586 608 L596 631 L601 654 L605 690 L607 730 L605 772 L575 772 L500 740 L466 720 L444.5 747.6 L439.8 766 L438.3 789 L433.7 820 L439.8 835 L441.4 850.6 L438.3 866 L426 882.8 L414 896Z" fill="none" stroke="#fff" stroke-width="20" filter="url(#b4)"/></mask>
<mask id="m48" maskUnits="userSpaceOnUse" x="0" y="0" width="2630" height="1462"><rect width="2630" height="1462" fill="#0c0c0c"/><path d="M237.7 807C240.2 804.2 250.5 789.3 256.6 786C262.7 782.7 276 782.8 283.8 782C291.6 781.2 306.6 779.7 315 780C323.4 780.3 339.3 782.8 346.7 784C354.1 785.2 364.4 786.3 370.7 789C377 791.7 389.1 800.4 393.8 804.5C398.5 808.6 403.7 814.9 406 820C408.3 825.1 410.5 836.9 410.7 843C410.9 849.1 408 862.9 407.6 866L408.8 877.0L408.1 879.8L407.3 882.0L406.7 883.9L406.0 885.6L405.3 887.0L404.7 888.3L404.0 889.4L403.3 890.5L402.6 891.6L401.7 892.7L400.8 893.9L399.7 895.2L398.7 896.3L397.6 897.4L396.3 898.6L395.0 899.7L393.5 900.9L391.9 902.2L390.2 903.4L388.4 904.7L386.6 906.1L384.8 907.5L383.1 908.7L381.5 909.9L379.7 911.1L378.0 912.4L376.1 913.6L374.2 915.0L372.3 916.3L370.2 917.7L368.2 919.2L366.0 920.8L363.9 922.5L361.7 924.2L359.5 925.9L357.3 927.7L355.0 929.6L352.8 931.4L350.5 933.2L348.3 935.0L346.2 936.8L344.1 938.5L342.1 940.1L340.1 941.7L338.1 943.2L336.1 944.8L334.1 946.4L332.0 948.1L330.0 949.8L327.9 951.6L325.8 953.5L323.8 955.4L321.8 957.5L319.7 959.6L317.7 961.7L315.8 963.9L313.8 966.2L311.9 968.4L310.1 970.6L308.4 972.7L306.8 974.8L305.3 976.8L303.8 978.7L302.6 980.6L301.4 982.4L300.3 984.1L299.3 985.8L298.4 987.5L297.6 989.1L296.7 990.7L295.8 992.3L294.9 993.9L294.0 995.6L293.0 997.3L292.0 999.1L290.9 1001.0L289.8 1002.9L288.8 1004.9L287.7 1007.0L286.7 1009.2L285.7 1011.5L284.8 1013.8L283.9 1016.3L283.2 1018.8L282.5 1021.3L281.9 1023.9L281.4 1026.4L280.9 1028.9L280.4 1031.3L279.9 1033.7L279.4 1036.1L278.9 1038.3L278.4 1040.6L277.9 1042.9L277.4 1045.2L276.9 1047.6L276.4 1049.9L275.9 1052.2L275.5 1054.4L275.0 1056.6L274.6 1058.7L274.3 1060.8L274.0 1062.8L273.7 1064.9L273.5 1066.9L273.3 1068.8L273.1 1070.7L272.9 1072.4L272.8 1073.9L272.7 1075.3L272.6 1076.4L272.5 1077.3L264 1075C258.6 1072.1 243.6 1054.5 238 1047C232.4 1039.5 222.8 1030.2 220 1020C217.2 1009.8 217.2 982.7 216.8 970.5C216.4 958.3 216.2 939.8 216.8 928.6C217.4 917.4 219.6 897.9 221 886.7C222.4 875.5 224.8 855.4 227 844.8C229.2 834.2 236.3 812 237.7 807Z" fill="none" stroke="#fff" stroke-width="34" filter="url(#b10)"/></mask>
<linearGradient id="gPTf" gradientUnits="userSpaceOnUse" x1="0" y1="795" x2="0" y2="872"><stop offset="0" stop-color="#fff"/><stop offset="1" stop-color="#000"/></linearGradient><mask id="mPTf" maskUnits="userSpaceOnUse" x="0" y="0" width="2630" height="1462"><rect width="2630" height="1462" fill="url(#gPTf)"/></mask>
<mask id="m50" maskUnits="userSpaceOnUse" x="0" y="0" width="2630" height="1462"><rect width="2630" height="1462" fill="#000"/><path d="M576 726.5C581.7 726.6 598.1 727.4 610 727C621.9 726.6 641.3 724.5 647.6 724" fill="none" stroke="#fff" stroke-width="16" filter="url(#b4)"/><path d="M563 734C562.7 737 561.5 746.9 561 751.7C560.5 756.5 559.4 754.1 560 763C560.6 771.9 562.8 794 564.6 804.8C566.4 815.6 569.9 824.1 571 828" fill="none" stroke="#fff" stroke-width="16" filter="url(#b4)"/></mask>
<mask id="m52" maskUnits="userSpaceOnUse" x="0" y="0" width="2630" height="1462"><rect width="2630" height="1462" fill="#1a1a1a"/><path d="M562.5 733.5C564.5 729.2 570 726.5 575 731C580 735.5 594.4 760 600 767C605.6 774 613.5 779.3 617 783.8C620.5 788.3 624.3 796.2 626 800.6C627.7 805 628.2 813.1 629.5 817C630.8 820.9 635.2 826.3 635.8 830C636.4 833.7 634.5 842.4 633.7 844.6C632.9 846.8 632.8 847.8 629.5 846.7C626.2 845.6 616.4 838.5 608.6 836C600.8 833.5 576.9 832.2 571 828C565.1 823.8 566.1 813.5 564.6 804.8C563.1 796.1 560.3 772.5 560 763C559.7 753.5 560.5 737.8 562.5 733.5Z" fill="none" stroke="#fff" stroke-width="14" filter="url(#b4)"/></mask></defs>
<clipPath id="c11"><path d="M1025 417C1021.2 425.2 1009.3 449.8 1002 466C994.7 482.2 987 496.7 981 514C975 531.3 970.4 552.3 966 570C961.6 587.7 958.3 602.5 954.5 620C950.7 637.5 946.4 656.8 943 675C939.6 693.2 937 710.7 934.3 729C931.6 747.3 929 768.2 927 785C925 801.8 923.6 813.3 922 830C920.4 846.7 918.8 866.8 917.5 885C916.2 903.2 915.4 920.7 914.2 939C913 957.3 911.5 976.5 910.5 995C909.5 1013.5 908.7 1027.5 908 1050C907.3 1072.5 907 1103.8 906.5 1130C906 1156.2 905.2 1194.2 905 1207L1127.5 1207C1127.8 1194.2 1128.3 1156.2 1129 1130C1129.7 1103.8 1130.7 1072.5 1131.6 1050C1132.5 1027.5 1133.5 1013.5 1134.5 995C1135.5 976.5 1136.8 956.5 1137.8 939C1138.8 921.5 1139.5 906.5 1140.5 890C1141.5 873.5 1142.2 857.5 1144 840C1145.8 822.5 1148.4 803.5 1151 785C1153.6 766.5 1156.7 747.3 1159.5 729C1162.3 710.7 1164.6 693.2 1168 675C1171.4 656.8 1175.7 637.5 1180 620C1184.3 602.5 1189.2 587.7 1194 570C1198.8 552.3 1203.7 531.3 1209 514C1214.3 496.7 1220 482.2 1226 466C1232 449.8 1241.8 425.2 1245 417Z"/></clipPath><path d="M1025 417C1021.2 425.2 1009.3 449.8 1002 466C994.7 482.2 987 496.7 981 514C975 531.3 970.4 552.3 966 570C961.6 587.7 958.3 602.5 954.5 620C950.7 637.5 946.4 656.8 943 675C939.6 693.2 937 710.7 934.3 729C931.6 747.3 929 768.2 927 785C925 801.8 923.6 813.3 922 830C920.4 846.7 918.8 866.8 917.5 885C916.2 903.2 915.4 920.7 914.2 939C913 957.3 911.5 976.5 910.5 995C909.5 1013.5 908.7 1027.5 908 1050C907.3 1072.5 907 1103.8 906.5 1130C906 1156.2 905.2 1194.2 905 1207L1127.5 1207C1127.8 1194.2 1128.3 1156.2 1129 1130C1129.7 1103.8 1130.7 1072.5 1131.6 1050C1132.5 1027.5 1133.5 1013.5 1134.5 995C1135.5 976.5 1136.8 956.5 1137.8 939C1138.8 921.5 1139.5 906.5 1140.5 890C1141.5 873.5 1142.2 857.5 1144 840C1145.8 822.5 1148.4 803.5 1151 785C1153.6 766.5 1156.7 747.3 1159.5 729C1162.3 710.7 1164.6 693.2 1168 675C1171.4 656.8 1175.7 637.5 1180 620C1184.3 602.5 1189.2 587.7 1194 570C1198.8 552.3 1203.7 531.3 1209 514C1214.3 496.7 1220 482.2 1226 466C1232 449.8 1241.8 425.2 1245 417Z" fill="#ebb0a8"/><g clip-path="url(#c11)"><path d="M1025 417C1021.2 425.2 1009.3 449.8 1002 466C994.7 482.2 987 496.7 981 514C975 531.3 970.4 552.3 966 570C961.6 587.7 958.3 602.5 954.5 620C950.7 637.5 946.4 656.8 943 675C939.6 693.2 937 710.7 934.3 729C931.6 747.3 929 768.2 927 785C925 801.8 923.6 813.3 922 830C920.4 846.7 918.8 866.8 917.5 885C916.2 903.2 915.4 920.7 914.2 939C913 957.3 911.5 976.5 910.5 995C909.5 1013.5 908.7 1027.5 908 1050C907.3 1072.5 907 1103.8 906.5 1130C906 1156.2 905.2 1194.2 905 1207L1127.5 1207C1127.8 1194.2 1128.3 1156.2 1129 1130C1129.7 1103.8 1130.7 1072.5 1131.6 1050C1132.5 1027.5 1133.5 1013.5 1134.5 995C1135.5 976.5 1136.8 956.5 1137.8 939C1138.8 921.5 1139.5 906.5 1140.5 890C1141.5 873.5 1142.2 857.5 1144 840C1145.8 822.5 1148.4 803.5 1151 785C1153.6 766.5 1156.7 747.3 1159.5 729C1162.3 710.7 1164.6 693.2 1168 675C1171.4 656.8 1175.7 637.5 1180 620C1184.3 602.5 1189.2 587.7 1194 570C1198.8 552.3 1203.7 531.3 1209 514C1214.3 496.7 1220 482.2 1226 466C1232 449.8 1241.8 425.2 1245 417Z" fill="none" stroke="#d88e88" stroke-width="6" filter="url(#b3)" opacity="0.6"/><path d="M1036.5 417C1032.8 425.2 1021.1 449.8 1014 466C1006.9 482.2 1000 496.7 994 514C988 531.3 982.8 552.3 978 570C973.2 587.7 969.4 602.5 965.4 620C961.4 637.5 957.2 656.8 953.8 675C950.2 693.2 947.1 710.7 944.4 729C941.7 747.3 939.4 768.2 937.5 785C935.6 801.8 934.3 813.3 932.9 830C931.4 846.7 929.9 866.8 928.8 885C927.6 903.2 926.9 920.7 925.9 939C924.8 957.3 923.3 976.5 922.2 995C921.2 1013.5 920.4 1027.5 919.6 1050C918.8 1072.5 917.9 1103.8 917.2 1130C916.6 1156.2 915.8 1194.2 915.5 1207" fill="none" stroke="#fae4de" stroke-width="9" stroke-linecap="round" filter="url(#b3)" opacity="0.95"/><path d="M1233.3 417C1230.1 425.2 1220.2 449.8 1214 466C1207.8 482.2 1201.5 496.7 1196 514C1190.5 531.3 1185.8 552.3 1181 570C1176.2 587.7 1171.6 602.5 1167.5 620C1163.4 637.5 1159.6 656.8 1156.5 675C1153.4 693.2 1151.4 710.7 1148.7 729C1145.9 747.3 1142.6 766.5 1140 785C1137.4 803.5 1134.8 822.5 1133.1 840C1131.4 857.5 1130.8 873.5 1129.8 890C1128.7 906.5 1127.9 921.5 1126.9 939C1125.9 956.5 1124.8 976.5 1123.8 995C1122.7 1013.5 1121.6 1027.5 1120.7 1050C1119.8 1072.5 1119.1 1103.8 1118.5 1130C1117.9 1156.2 1117.5 1194.2 1117.2 1207" fill="none" stroke="#fae4de" stroke-width="8" stroke-linecap="round" filter="url(#b3)" opacity="0.85"/></g><clipPath id="lc12"><path d="M1048 417C1044.3 425.2 1032.8 449.8 1026 466C1019.2 482.2 1013 496.7 1007 514C1001 531.3 995.1 552.3 990 570C984.9 587.7 980.5 602.5 976.3 620C972 637.5 968.1 656.8 964.5 675C960.9 693.2 957.2 710.7 954.5 729C951.8 747.3 949.8 768.2 948 785C946.2 801.8 945 813.3 943.7 830C942.4 846.7 941 866.8 940 885C939 903.2 938.5 920.7 937.5 939C936.5 957.3 935 976.5 934 995C933 1013.5 932.2 1027.5 931.2 1050C930.2 1072.5 928.9 1103.8 928 1130C927.1 1156.2 926.3 1194.2 926 1207L1107 1207C1107.2 1194.2 1107.5 1156.2 1108 1130C1108.5 1103.8 1109 1072.5 1109.8 1050C1110.6 1027.5 1112 1013.5 1113 995C1114 976.5 1115 956.5 1116 939C1117 921.5 1118 906.5 1119 890C1120 873.5 1120.5 857.5 1122.2 840C1123.9 822.5 1126.4 803.5 1129 785C1131.6 766.5 1135.1 747.3 1137.8 729C1140.5 710.7 1142.1 693.2 1145 675C1147.9 656.8 1151.2 637.5 1155 620C1158.8 602.5 1163.3 587.7 1168 570C1172.7 552.3 1177.3 531.3 1183 514C1188.7 496.7 1195.6 482.2 1202 466C1208.4 449.8 1218.3 425.2 1221.6 417Z"/></clipPath><g clip-path="url(#lc12)"><clipPath id="c1"><path d="M880 400 L1260 400 L1260 700 L880 700Z"/></clipPath><path d="M880 400 L1260 400 L1260 700 L880 700Z" fill="#dc8a86"/><g clip-path="url(#c1)"><path d="M1048 417C1044.3 425.2 1032.8 449.8 1026 466C1019.2 482.2 1013 496.7 1007 514C1001 531.3 995.1 552.3 990 570C984.9 587.7 980.5 602.5 976.3 620C972 637.5 968.1 656.8 964.5 675C960.9 693.2 957.2 710.7 954.5 729C951.8 747.3 949.8 768.2 948 785C946.2 801.8 945 813.3 943.7 830C942.4 846.7 941 866.8 940 885C939 903.2 938.5 920.7 937.5 939C936.5 957.3 935 976.5 934 995C933 1013.5 932.2 1027.5 931.2 1050C930.2 1072.5 928.9 1103.8 928 1130C927.1 1156.2 926.3 1194.2 926 1207" fill="none" stroke="#b85c5c" stroke-width="40" filter="url(#b10)" opacity="0.6"/><path d="M1221.6 417C1218.3 425.2 1208.4 449.8 1202 466C1195.6 482.2 1188.7 496.7 1183 514C1177.3 531.3 1172.7 552.3 1168 570C1163.3 587.7 1158.8 602.5 1155 620C1151.2 637.5 1147.9 656.8 1145 675C1142.1 693.2 1140.5 710.7 1137.8 729C1135.1 747.3 1131.6 766.5 1129 785C1126.4 803.5 1123.9 822.5 1122.2 840C1120.5 857.5 1120 873.5 1119 890C1118 906.5 1117 921.5 1116 939C1115 956.5 1114 976.5 1113 995C1112 1013.5 1110.6 1027.5 1109.8 1050C1109 1072.5 1108.5 1103.8 1108 1130C1107.5 1156.2 1107.2 1194.2 1107 1207" fill="none" stroke="#b85c5c" stroke-width="40" filter="url(#b10)" opacity="0.6"/><path d="M880 400 L1260 400 L1260 700 L880 700Z" fill="url(#st1)" mask="url(#m2)"/></g><clipPath id="c3"><path d="M975 600C978.1 594.7 985.9 574.9 993.4 568C1000.9 561.1 1010.2 560.8 1019.8 558.7C1029.4 556.6 1043.6 555.6 1050.8 555.6C1058 555.6 1058.1 558.5 1063 558.7C1067.9 558.9 1074.3 557.5 1080 557C1085.7 556.5 1090.6 554.5 1097.4 555.6C1104.2 556.7 1112.9 559.5 1120.7 563.4C1128.5 567.3 1137.8 574.4 1144 579C1150.2 583.6 1153.7 586.1 1158 591.3C1162.3 596.5 1168 606.9 1170 610L1180 1000 L880 1000 L960 610Z"/></clipPath><path d="M975 600C978.1 594.7 985.9 574.9 993.4 568C1000.9 561.1 1010.2 560.8 1019.8 558.7C1029.4 556.6 1043.6 555.6 1050.8 555.6C1058 555.6 1058.1 558.5 1063 558.7C1067.9 558.9 1074.3 557.5 1080 557C1085.7 556.5 1090.6 554.5 1097.4 555.6C1104.2 556.7 1112.9 559.5 1120.7 563.4C1128.5 567.3 1137.8 574.4 1144 579C1150.2 583.6 1153.7 586.1 1158 591.3C1162.3 596.5 1168 606.9 1170 610L1180 1000 L880 1000 L960 610Z" fill="#f1cb8c"/><g clip-path="url(#c3)"><path d="M1048 417C1044.3 425.2 1032.8 449.8 1026 466C1019.2 482.2 1013 496.7 1007 514C1001 531.3 995.1 552.3 990 570C984.9 587.7 980.5 602.5 976.3 620C972 637.5 968.1 656.8 964.5 675C960.9 693.2 957.2 710.7 954.5 729C951.8 747.3 949.8 768.2 948 785C946.2 801.8 945 813.3 943.7 830C942.4 846.7 941 866.8 940 885C939 903.2 938.5 920.7 937.5 939C936.5 957.3 935 976.5 934 995C933 1013.5 932.2 1027.5 931.2 1050C930.2 1072.5 928.9 1103.8 928 1130C927.1 1156.2 926.3 1194.2 926 1207" fill="none" stroke="#dcaa62" stroke-width="24" filter="url(#b8)" opacity="0.7"/><path d="M1221.6 417C1218.3 425.2 1208.4 449.8 1202 466C1195.6 482.2 1188.7 496.7 1183 514C1177.3 531.3 1172.7 552.3 1168 570C1163.3 587.7 1158.8 602.5 1155 620C1151.2 637.5 1147.9 656.8 1145 675C1142.1 693.2 1140.5 710.7 1137.8 729C1135.1 747.3 1131.6 766.5 1129 785C1126.4 803.5 1123.9 822.5 1122.2 840C1120.5 857.5 1120 873.5 1119 890C1118 906.5 1117 921.5 1116 939C1115 956.5 1114 976.5 1113 995C1112 1013.5 1110.6 1027.5 1109.8 1050C1109 1072.5 1108.5 1103.8 1108 1130C1107.5 1156.2 1107.2 1194.2 1107 1207" fill="none" stroke="#dcaa62" stroke-width="24" filter="url(#b8)" opacity="0.7"/><path d="M975 600C978.1 594.7 985.9 574.9 993.4 568C1000.9 561.1 1010.2 560.8 1019.8 558.7C1029.4 556.6 1043.6 555.6 1050.8 555.6C1058 555.6 1058.1 558.5 1063 558.7C1067.9 558.9 1074.3 557.5 1080 557C1085.7 556.5 1090.6 554.5 1097.4 555.6C1104.2 556.7 1112.9 559.5 1120.7 563.4C1128.5 567.3 1137.8 574.4 1144 579C1150.2 583.6 1153.7 586.1 1158 591.3C1162.3 596.5 1168 606.9 1170 610" fill="none" stroke="#dcaa62" stroke-width="24" filter="url(#b8)" opacity="0.7"/><path d="M975 600C978.1 594.7 985.9 574.9 993.4 568C1000.9 561.1 1010.2 560.8 1019.8 558.7C1029.4 556.6 1043.6 555.6 1050.8 555.6C1058 555.6 1058.1 558.5 1063 558.7C1067.9 558.9 1074.3 557.5 1080 557C1085.7 556.5 1090.6 554.5 1097.4 555.6C1104.2 556.7 1112.9 559.5 1120.7 563.4C1128.5 567.3 1137.8 574.4 1144 579C1150.2 583.6 1153.7 586.1 1158 591.3C1162.3 596.5 1168 606.9 1170 610L1180 1000 L880 1000 L960 610Z" fill="url(#st2)" mask="url(#m4)"/></g><path d="M975 600C978.1 594.7 985.9 574.9 993.4 568C1000.9 561.1 1010.2 560.8 1019.8 558.7C1029.4 556.6 1043.6 555.6 1050.8 555.6C1058 555.6 1058.1 558.5 1063 558.7C1067.9 558.9 1074.3 557.5 1080 557C1085.7 556.5 1090.6 554.5 1097.4 555.6C1104.2 556.7 1112.9 559.5 1120.7 563.4C1128.5 567.3 1137.8 574.4 1144 579C1150.2 583.6 1153.7 586.1 1158 591.3C1162.3 596.5 1168 606.9 1170 610L1180 1000 L880 1000 L960 610Z" fill="none" stroke="#151515" stroke-width="2.0" stroke-linejoin="round"/><g filter="url(#b8)" opacity="0.8" fill="#fae6c4"><ellipse cx="1000" cy="780" rx="12" ry="140"/><ellipse cx="1095" cy="820" rx="14" ry="120"/><ellipse cx="1080" cy="590" rx="30" ry="18"/><ellipse cx="1010" cy="590" rx="25" ry="15"/></g><clipPath id="c5"><path d="M1023 612C1023 613.3 1021.6 613.5 1022.9 620C1024.2 626.5 1028.5 640.7 1030.6 651C1032.7 661.3 1034.5 671.7 1035.3 682C1036.1 692.3 1035.6 702.7 1035.3 713C1035 723.3 1034.5 733.7 1033.7 744C1032.9 754.3 1032.4 764.7 1030.6 775C1028.8 785.3 1025.5 796.8 1022.9 806C1020.3 815.2 1017.9 818.2 1015 830C1012.1 841.8 1009.1 864 1005.8 877C1002.5 890 998.4 899 995 908C991.6 917 988.2 924.3 985.6 931C983 937.7 980.4 945.2 979.4 948L1072.5 954C1071.5 950.2 1068.4 938.7 1066.3 931C1064.2 923.3 1061.8 917 1060 908C1058.2 899 1056.8 890 1055.5 877C1054.2 864 1052.4 841.8 1052.4 830C1052.4 818.2 1054.2 815.2 1055.5 806C1056.8 796.8 1058.2 785.3 1060 775C1061.8 764.7 1063.7 754.3 1066.3 744C1068.9 733.7 1071.8 723.3 1075.7 713C1079.6 702.7 1084.2 693.7 1089.6 682C1095 670.3 1104.1 653.3 1108 643C1111.9 632.7 1112.2 625.5 1112.9 620C1113.6 614.5 1112.2 611.7 1112 610C1109.2 608.7 1102.3 603.7 1095 602C1087.7 600.3 1077.2 599.8 1068 600C1058.8 600.2 1047.5 601 1040 603C1032.5 605 1025.8 610.5 1023 612Z"/></clipPath><path d="M1023 612C1023 613.3 1021.6 613.5 1022.9 620C1024.2 626.5 1028.5 640.7 1030.6 651C1032.7 661.3 1034.5 671.7 1035.3 682C1036.1 692.3 1035.6 702.7 1035.3 713C1035 723.3 1034.5 733.7 1033.7 744C1032.9 754.3 1032.4 764.7 1030.6 775C1028.8 785.3 1025.5 796.8 1022.9 806C1020.3 815.2 1017.9 818.2 1015 830C1012.1 841.8 1009.1 864 1005.8 877C1002.5 890 998.4 899 995 908C991.6 917 988.2 924.3 985.6 931C983 937.7 980.4 945.2 979.4 948L1072.5 954C1071.5 950.2 1068.4 938.7 1066.3 931C1064.2 923.3 1061.8 917 1060 908C1058.2 899 1056.8 890 1055.5 877C1054.2 864 1052.4 841.8 1052.4 830C1052.4 818.2 1054.2 815.2 1055.5 806C1056.8 796.8 1058.2 785.3 1060 775C1061.8 764.7 1063.7 754.3 1066.3 744C1068.9 733.7 1071.8 723.3 1075.7 713C1079.6 702.7 1084.2 693.7 1089.6 682C1095 670.3 1104.1 653.3 1108 643C1111.9 632.7 1112.2 625.5 1112.9 620C1113.6 614.5 1112.2 611.7 1112 610C1109.2 608.7 1102.3 603.7 1095 602C1087.7 600.3 1077.2 599.8 1068 600C1058.8 600.2 1047.5 601 1040 603C1032.5 605 1025.8 610.5 1023 612Z" fill="#eecb92"/><g clip-path="url(#c5)"><path d="M1023 612C1023 613.3 1021.6 613.5 1022.9 620C1024.2 626.5 1028.5 640.7 1030.6 651C1032.7 661.3 1034.5 671.7 1035.3 682C1036.1 692.3 1035.6 702.7 1035.3 713C1035 723.3 1034.5 733.7 1033.7 744C1032.9 754.3 1032.4 764.7 1030.6 775C1028.8 785.3 1025.5 796.8 1022.9 806C1020.3 815.2 1017.9 818.2 1015 830C1012.1 841.8 1009.1 864 1005.8 877C1002.5 890 998.4 899 995 908C991.6 917 988.2 924.3 985.6 931C983 937.7 980.4 945.2 979.4 948L1072.5 954C1071.5 950.2 1068.4 938.7 1066.3 931C1064.2 923.3 1061.8 917 1060 908C1058.2 899 1056.8 890 1055.5 877C1054.2 864 1052.4 841.8 1052.4 830C1052.4 818.2 1054.2 815.2 1055.5 806C1056.8 796.8 1058.2 785.3 1060 775C1061.8 764.7 1063.7 754.3 1066.3 744C1068.9 733.7 1071.8 723.3 1075.7 713C1079.6 702.7 1084.2 693.7 1089.6 682C1095 670.3 1104.1 653.3 1108 643C1111.9 632.7 1112.2 625.5 1112.9 620C1113.6 614.5 1112.2 611.7 1112 610C1109.2 608.7 1102.3 603.7 1095 602C1087.7 600.3 1077.2 599.8 1068 600C1058.8 600.2 1047.5 601 1040 603C1032.5 605 1025.8 610.5 1023 612Z" fill="none" stroke="#c89850" stroke-width="14" filter="url(#b5)" opacity="0.75"/><path d="M1065 625C1062.8 640.8 1055.5 690.8 1052 720C1048.5 749.2 1046.8 773.3 1044 800C1041.2 826.7 1038.2 856.7 1035 880C1031.8 903.3 1026.7 930 1025 940" fill="none" stroke="#f8e6c6" stroke-width="14" stroke-linecap="round" filter="url(#b6)" opacity="0.9"/><path d="M1023 612C1023 613.3 1021.6 613.5 1022.9 620C1024.2 626.5 1028.5 640.7 1030.6 651C1032.7 661.3 1034.5 671.7 1035.3 682C1036.1 692.3 1035.6 702.7 1035.3 713C1035 723.3 1034.5 733.7 1033.7 744C1032.9 754.3 1032.4 764.7 1030.6 775C1028.8 785.3 1025.5 796.8 1022.9 806C1020.3 815.2 1017.9 818.2 1015 830C1012.1 841.8 1009.1 864 1005.8 877C1002.5 890 998.4 899 995 908C991.6 917 988.2 924.3 985.6 931C983 937.7 980.4 945.2 979.4 948L1072.5 954C1071.5 950.2 1068.4 938.7 1066.3 931C1064.2 923.3 1061.8 917 1060 908C1058.2 899 1056.8 890 1055.5 877C1054.2 864 1052.4 841.8 1052.4 830C1052.4 818.2 1054.2 815.2 1055.5 806C1056.8 796.8 1058.2 785.3 1060 775C1061.8 764.7 1063.7 754.3 1066.3 744C1068.9 733.7 1071.8 723.3 1075.7 713C1079.6 702.7 1084.2 693.7 1089.6 682C1095 670.3 1104.1 653.3 1108 643C1111.9 632.7 1112.2 625.5 1112.9 620C1113.6 614.5 1112.2 611.7 1112 610C1109.2 608.7 1102.3 603.7 1095 602C1087.7 600.3 1077.2 599.8 1068 600C1058.8 600.2 1047.5 601 1040 603C1032.5 605 1025.8 610.5 1023 612Z" fill="url(#st2)" mask="url(#m6)"/></g><path d="M1023 612C1023 613.3 1021.6 613.5 1022.9 620C1024.2 626.5 1028.5 640.7 1030.6 651C1032.7 661.3 1034.5 671.7 1035.3 682C1036.1 692.3 1035.6 702.7 1035.3 713C1035 723.3 1034.5 733.7 1033.7 744C1032.9 754.3 1032.4 764.7 1030.6 775C1028.8 785.3 1025.5 796.8 1022.9 806C1020.3 815.2 1017.9 818.2 1015 830C1012.1 841.8 1009.1 864 1005.8 877C1002.5 890 998.4 899 995 908C991.6 917 988.2 924.3 985.6 931C983 937.7 980.4 945.2 979.4 948L1072.5 954C1071.5 950.2 1068.4 938.7 1066.3 931C1064.2 923.3 1061.8 917 1060 908C1058.2 899 1056.8 890 1055.5 877C1054.2 864 1052.4 841.8 1052.4 830C1052.4 818.2 1054.2 815.2 1055.5 806C1056.8 796.8 1058.2 785.3 1060 775C1061.8 764.7 1063.7 754.3 1066.3 744C1068.9 733.7 1071.8 723.3 1075.7 713C1079.6 702.7 1084.2 693.7 1089.6 682C1095 670.3 1104.1 653.3 1108 643C1111.9 632.7 1112.2 625.5 1112.9 620C1113.6 614.5 1112.2 611.7 1112 610C1109.2 608.7 1102.3 603.7 1095 602C1087.7 600.3 1077.2 599.8 1068 600C1058.8 600.2 1047.5 601 1040 603C1032.5 605 1025.8 610.5 1023 612Z" fill="none" stroke="#151515" stroke-width="2.0" stroke-linejoin="round"/><clipPath id="c7"><path d="M920 972C922.7 971.6 929.7 970.7 936 969.8C942.3 968.9 950.4 970 957.6 966.6C964.8 963.2 971.6 953.2 979.4 949.6C987.2 946 994.9 945.3 1004.2 945C1013.5 944.7 1025 946.5 1035.3 948C1045.6 949.5 1058.5 951.1 1066.3 954.2C1074.1 957.3 1076.8 963.2 1082 966.6C1087.2 970 1092.5 973.2 1097.4 974.4C1102.3 975.6 1106.8 973.5 1111.4 973.6C1116 973.7 1122.7 974.8 1125 975L1140 1215 L900 1215Z"/></clipPath><path d="M920 972C922.7 971.6 929.7 970.7 936 969.8C942.3 968.9 950.4 970 957.6 966.6C964.8 963.2 971.6 953.2 979.4 949.6C987.2 946 994.9 945.3 1004.2 945C1013.5 944.7 1025 946.5 1035.3 948C1045.6 949.5 1058.5 951.1 1066.3 954.2C1074.1 957.3 1076.8 963.2 1082 966.6C1087.2 970 1092.5 973.2 1097.4 974.4C1102.3 975.6 1106.8 973.5 1111.4 973.6C1116 973.7 1122.7 974.8 1125 975L1140 1215 L900 1215Z" fill="#e6a4a2"/><g clip-path="url(#c7)"><path d="M1048 417C1044.3 425.2 1032.8 449.8 1026 466C1019.2 482.2 1013 496.7 1007 514C1001 531.3 995.1 552.3 990 570C984.9 587.7 980.5 602.5 976.3 620C972 637.5 968.1 656.8 964.5 675C960.9 693.2 957.2 710.7 954.5 729C951.8 747.3 949.8 768.2 948 785C946.2 801.8 945 813.3 943.7 830C942.4 846.7 941 866.8 940 885C939 903.2 938.5 920.7 937.5 939C936.5 957.3 935 976.5 934 995C933 1013.5 932.2 1027.5 931.2 1050C930.2 1072.5 928.9 1103.8 928 1130C927.1 1156.2 926.3 1194.2 926 1207" fill="none" stroke="#c86e70" stroke-width="44" filter="url(#b10)" opacity="0.8"/><path d="M1221.6 417C1218.3 425.2 1208.4 449.8 1202 466C1195.6 482.2 1188.7 496.7 1183 514C1177.3 531.3 1172.7 552.3 1168 570C1163.3 587.7 1158.8 602.5 1155 620C1151.2 637.5 1147.9 656.8 1145 675C1142.1 693.2 1140.5 710.7 1137.8 729C1135.1 747.3 1131.6 766.5 1129 785C1126.4 803.5 1123.9 822.5 1122.2 840C1120.5 857.5 1120 873.5 1119 890C1118 906.5 1117 921.5 1116 939C1115 956.5 1114 976.5 1113 995C1112 1013.5 1110.6 1027.5 1109.8 1050C1109 1072.5 1108.5 1103.8 1108 1130C1107.5 1156.2 1107.2 1194.2 1107 1207" fill="none" stroke="#c86e70" stroke-width="44" filter="url(#b10)" opacity="0.8"/><path d="M1040 975C1038.3 992.5 1033.3 1040 1030 1080C1026.7 1120 1021.7 1192.5 1020 1215" fill="none" stroke="#f6d2ca" stroke-width="30" stroke-linecap="round" filter="url(#b12)" opacity="0.85"/><path d="M920 972C922.7 971.6 929.7 970.7 936 969.8C942.3 968.9 950.4 970 957.6 966.6C964.8 963.2 971.6 953.2 979.4 949.6C987.2 946 994.9 945.3 1004.2 945C1013.5 944.7 1025 946.5 1035.3 948C1045.6 949.5 1058.5 951.1 1066.3 954.2C1074.1 957.3 1076.8 963.2 1082 966.6C1087.2 970 1092.5 973.2 1097.4 974.4C1102.3 975.6 1106.8 973.5 1111.4 973.6C1116 973.7 1122.7 974.8 1125 975L1140 1215 L900 1215Z" fill="url(#st1)" mask="url(#m8)"/></g><path d="M936 969.8C939.6 969.3 950.4 970 957.6 966.6C964.8 963.2 971.6 953.2 979.4 949.6C987.2 946 994.9 945.3 1004.2 945C1013.5 944.7 1025 946.5 1035.3 948C1045.6 949.5 1058.5 951.1 1066.3 954.2C1074.1 957.3 1076.8 963.2 1082 966.6C1087.2 970 1092.5 973.2 1097.4 974.4C1102.3 975.6 1109.1 973.7 1111.4 973.6" fill="none" stroke="#151515" stroke-width="2.2" stroke-linejoin="round" stroke-linecap="round" /><clipPath id="c9"><path d="M1074 417C1073 420.8 1069.4 433 1068 440C1066.6 447 1065.9 451.2 1065.6 459C1065.3 466.8 1063.3 480.2 1066 487C1068.7 493.8 1076.2 496.8 1082 499.7C1087.8 502.6 1095.3 503.1 1100.5 504.4C1105.7 505.7 1108.3 508 1113 507.5C1117.7 507 1123.2 506.7 1128.4 501.3C1133.6 495.9 1138.8 484.5 1144 474.9C1149.2 465.3 1155.4 453.4 1159.5 443.8C1163.6 434.2 1167.2 421.5 1168.8 417L1074 415Z"/></clipPath><path d="M1074 417C1073 420.8 1069.4 433 1068 440C1066.6 447 1065.9 451.2 1065.6 459C1065.3 466.8 1063.3 480.2 1066 487C1068.7 493.8 1076.2 496.8 1082 499.7C1087.8 502.6 1095.3 503.1 1100.5 504.4C1105.7 505.7 1108.3 508 1113 507.5C1117.7 507 1123.2 506.7 1128.4 501.3C1133.6 495.9 1138.8 484.5 1144 474.9C1149.2 465.3 1155.4 453.4 1159.5 443.8C1163.6 434.2 1167.2 421.5 1168.8 417L1074 415Z" fill="#bcd3d8"/><g clip-path="url(#c9)"><path d="M1074 417C1073 420.8 1069.4 433 1068 440C1066.6 447 1065.9 451.2 1065.6 459C1065.3 466.8 1063.3 480.2 1066 487C1068.7 493.8 1076.2 496.8 1082 499.7C1087.8 502.6 1095.3 503.1 1100.5 504.4C1105.7 505.7 1108.3 508 1113 507.5C1117.7 507 1123.2 506.7 1128.4 501.3C1133.6 495.9 1138.8 484.5 1144 474.9C1149.2 465.3 1155.4 453.4 1159.5 443.8C1163.6 434.2 1167.2 421.5 1168.8 417L1074 415Z" fill="none" stroke="#90aab2" stroke-width="14" filter="url(#b5)" opacity="0.6"/><path d="M1095 420C1094.2 426.7 1090 448.3 1090 460C1090 471.7 1094.2 485 1095 490" fill="none" stroke="#e6f0f2" stroke-width="12" stroke-linecap="round" filter="url(#b5)" opacity="0.8"/></g><path d="M1074 417C1073 420.8 1069.4 433 1068 440C1066.6 447 1065.9 451.2 1065.6 459C1065.3 466.8 1063.3 480.2 1066 487C1068.7 493.8 1076.2 496.8 1082 499.7C1087.8 502.6 1095.3 503.1 1100.5 504.4C1105.7 505.7 1108.3 508 1113 507.5C1117.7 507 1123.2 506.7 1128.4 501.3C1133.6 495.9 1138.8 484.5 1144 474.9C1149.2 465.3 1155.4 453.4 1159.5 443.8C1163.6 434.2 1167.2 421.5 1168.8 417L1074 415Z" fill="none" stroke="#151515" stroke-width="2.2" stroke-linejoin="round"/><path d="M1100.5 419 L1083.4 475" fill="none" stroke="#151515" stroke-width="1.8" stroke-linejoin="round" stroke-linecap="round" /><path d="M1139 419C1137 423.3 1130.3 437 1127 445C1123.7 453 1122.9 461 1119 467C1115.1 473 1106.2 478.7 1103.6 481" fill="none" stroke="#151515" stroke-width="1.8" stroke-linejoin="round" stroke-linecap="round" /><clipPath id="c10"><path d="M1080.3 501.3 L1106.7 507.5 L1103.6 529.2 L1095.8 560.3 L1080.3 591.3 L1064.8 605.3 L1064.8 583.6 L1072.5 544.8Z"/></clipPath><path d="M1080.3 501.3 L1106.7 507.5 L1103.6 529.2 L1095.8 560.3 L1080.3 591.3 L1064.8 605.3 L1064.8 583.6 L1072.5 544.8Z" fill="#d6d8d8"/><g clip-path="url(#c10)"><path d="M1088 512 L1078 585" fill="none" stroke="#f4f4f4" stroke-width="6" stroke-linecap="round" filter="url(#b2)" opacity="0.9"/></g><path d="M1080.3 501.3 L1106.7 507.5 L1103.6 529.2 L1095.8 560.3 L1080.3 591.3 L1064.8 605.3 L1064.8 583.6 L1072.5 544.8Z" fill="none" stroke="#151515" stroke-width="2.0" stroke-linejoin="round"/></g><path d="M1025 417C1021.2 425.2 1009.3 449.8 1002 466C994.7 482.2 987 496.7 981 514C975 531.3 970.4 552.3 966 570C961.6 587.7 958.3 602.5 954.5 620C950.7 637.5 946.4 656.8 943 675C939.6 693.2 937 710.7 934.3 729C931.6 747.3 929 768.2 927 785C925 801.8 923.6 813.3 922 830C920.4 846.7 918.8 866.8 917.5 885C916.2 903.2 915.4 920.7 914.2 939C913 957.3 911.5 976.5 910.5 995C909.5 1013.5 908.7 1027.5 908 1050C907.3 1072.5 907 1103.8 906.5 1130C906 1156.2 905.2 1194.2 905 1207" fill="none" stroke="#151515" stroke-width="2.4" stroke-linejoin="round" stroke-linecap="round" /><path d="M1245 417C1241.8 425.2 1232 449.8 1226 466C1220 482.2 1214.3 496.7 1209 514C1203.7 531.3 1198.8 552.3 1194 570C1189.2 587.7 1184.3 602.5 1180 620C1175.7 637.5 1171.4 656.8 1168 675C1164.6 693.2 1162.3 710.7 1159.5 729C1156.7 747.3 1153.6 766.5 1151 785C1148.4 803.5 1145.8 822.5 1144 840C1142.2 857.5 1141.5 873.5 1140.5 890C1139.5 906.5 1138.8 921.5 1137.8 939C1136.8 956.5 1135.5 976.5 1134.5 995C1133.5 1013.5 1132.5 1027.5 1131.6 1050C1130.7 1072.5 1129.7 1103.8 1129 1130C1128.3 1156.2 1127.8 1194.2 1127.5 1207" fill="none" stroke="#151515" stroke-width="2.4" stroke-linejoin="round" stroke-linecap="round" /><path d="M1048 417C1044.3 425.2 1032.8 449.8 1026 466C1019.2 482.2 1013 496.7 1007 514C1001 531.3 995.1 552.3 990 570C984.9 587.7 980.5 602.5 976.3 620C972 637.5 968.1 656.8 964.5 675C960.9 693.2 957.2 710.7 954.5 729C951.8 747.3 949.8 768.2 948 785C946.2 801.8 945 813.3 943.7 830C942.4 846.7 941 866.8 940 885C939 903.2 938.5 920.7 937.5 939C936.5 957.3 935 976.5 934 995C933 1013.5 932.2 1027.5 931.2 1050C930.2 1072.5 928.9 1103.8 928 1130C927.1 1156.2 926.3 1194.2 926 1207" fill="none" stroke="#151515" stroke-width="2.2" stroke-linejoin="round" stroke-linecap="round" /><path d="M1221.6 417C1218.3 425.2 1208.4 449.8 1202 466C1195.6 482.2 1188.7 496.7 1183 514C1177.3 531.3 1172.7 552.3 1168 570C1163.3 587.7 1158.8 602.5 1155 620C1151.2 637.5 1147.9 656.8 1145 675C1142.1 693.2 1140.5 710.7 1137.8 729C1135.1 747.3 1131.6 766.5 1129 785C1126.4 803.5 1123.9 822.5 1122.2 840C1120.5 857.5 1120 873.5 1119 890C1118 906.5 1117 921.5 1116 939C1115 956.5 1114 976.5 1113 995C1112 1013.5 1110.6 1027.5 1109.8 1050C1109 1072.5 1108.5 1103.8 1108 1130C1107.5 1156.2 1107.2 1194.2 1107 1207" fill="none" stroke="#151515" stroke-width="2.2" stroke-linejoin="round" stroke-linecap="round" /><clipPath id="c29"><path d="M1530 419C1525.8 429.2 1513.5 459.8 1505 480C1496.5 500.2 1487.3 520.3 1479 540C1470.7 559.7 1463 579.8 1455 598C1447 616.2 1437.5 632 1431 649C1424.5 666 1420.5 681.5 1416 700C1411.5 718.5 1406.2 740 1404 760C1401.8 780 1402.2 801.8 1402.5 820C1402.8 838.2 1404.2 850.5 1406 869C1407.8 887.5 1411 912.5 1413 931C1415 949.5 1417.2 961.8 1418 980C1418.8 998.2 1418.7 1017.3 1418 1040C1417.3 1062.7 1415.5 1088 1414 1116C1412.5 1144 1409.8 1192.7 1409 1208L1631 1208C1630.3 1192.7 1627.5 1140.7 1627 1116C1626.5 1091.3 1627.3 1079.3 1628 1060C1628.7 1040.7 1629.7 1016.7 1631 1000C1632.3 983.3 1633.3 974.2 1636 960C1638.7 945.8 1642.5 930.2 1647 915C1651.5 899.8 1658.3 884.5 1663 869C1667.7 853.5 1671.7 840.2 1675 822C1678.3 803.8 1681.5 780.3 1683 760C1684.5 739.7 1684 718.5 1684 700C1684 681.5 1682.7 665.7 1683 649C1683.3 632.3 1683.7 618.2 1686 600C1688.3 581.8 1691.7 561.7 1697 540C1702.3 518.3 1710.5 490.2 1718 470C1725.5 449.8 1738 427.5 1742 419Z"/></clipPath><path d="M1530 419C1525.8 429.2 1513.5 459.8 1505 480C1496.5 500.2 1487.3 520.3 1479 540C1470.7 559.7 1463 579.8 1455 598C1447 616.2 1437.5 632 1431 649C1424.5 666 1420.5 681.5 1416 700C1411.5 718.5 1406.2 740 1404 760C1401.8 780 1402.2 801.8 1402.5 820C1402.8 838.2 1404.2 850.5 1406 869C1407.8 887.5 1411 912.5 1413 931C1415 949.5 1417.2 961.8 1418 980C1418.8 998.2 1418.7 1017.3 1418 1040C1417.3 1062.7 1415.5 1088 1414 1116C1412.5 1144 1409.8 1192.7 1409 1208L1631 1208C1630.3 1192.7 1627.5 1140.7 1627 1116C1626.5 1091.3 1627.3 1079.3 1628 1060C1628.7 1040.7 1629.7 1016.7 1631 1000C1632.3 983.3 1633.3 974.2 1636 960C1638.7 945.8 1642.5 930.2 1647 915C1651.5 899.8 1658.3 884.5 1663 869C1667.7 853.5 1671.7 840.2 1675 822C1678.3 803.8 1681.5 780.3 1683 760C1684.5 739.7 1684 718.5 1684 700C1684 681.5 1682.7 665.7 1683 649C1683.3 632.3 1683.7 618.2 1686 600C1688.3 581.8 1691.7 561.7 1697 540C1702.3 518.3 1710.5 490.2 1718 470C1725.5 449.8 1738 427.5 1742 419Z" fill="#ebb0a8"/><g clip-path="url(#c29)"><path d="M1530 419C1525.8 429.2 1513.5 459.8 1505 480C1496.5 500.2 1487.3 520.3 1479 540C1470.7 559.7 1463 579.8 1455 598C1447 616.2 1437.5 632 1431 649C1424.5 666 1420.5 681.5 1416 700C1411.5 718.5 1406.2 740 1404 760C1401.8 780 1402.2 801.8 1402.5 820C1402.8 838.2 1404.2 850.5 1406 869C1407.8 887.5 1411 912.5 1413 931C1415 949.5 1417.2 961.8 1418 980C1418.8 998.2 1418.7 1017.3 1418 1040C1417.3 1062.7 1415.5 1088 1414 1116C1412.5 1144 1409.8 1192.7 1409 1208L1631 1208C1630.3 1192.7 1627.5 1140.7 1627 1116C1626.5 1091.3 1627.3 1079.3 1628 1060C1628.7 1040.7 1629.7 1016.7 1631 1000C1632.3 983.3 1633.3 974.2 1636 960C1638.7 945.8 1642.5 930.2 1647 915C1651.5 899.8 1658.3 884.5 1663 869C1667.7 853.5 1671.7 840.2 1675 822C1678.3 803.8 1681.5 780.3 1683 760C1684.5 739.7 1684 718.5 1684 700C1684 681.5 1682.7 665.7 1683 649C1683.3 632.3 1683.7 618.2 1686 600C1688.3 581.8 1691.7 561.7 1697 540C1702.3 518.3 1710.5 490.2 1718 470C1725.5 449.8 1738 427.5 1742 419Z" fill="none" stroke="#d88e88" stroke-width="6" filter="url(#b3)" opacity="0.6"/><path d="M1541.2 419C1537.1 429.2 1524.8 459.8 1516.2 480C1507.8 500.2 1498.6 520.3 1490.2 540C1481.9 559.7 1474.2 579.8 1466.2 598C1458.2 616.2 1448.8 632 1442.2 649C1435.8 666 1431.8 681.5 1427.2 700C1422.8 718.5 1417.5 740 1415.2 760C1413 780 1413.4 801.8 1413.8 820C1414.1 838.2 1415.5 850.5 1417.2 869C1419 887.5 1422.2 912.5 1424.2 931C1426.2 949.5 1428.4 961.8 1429.2 980C1430.1 998.2 1429.9 1017.3 1429.2 1040C1428.6 1062.7 1426.8 1088 1425.2 1116C1423.8 1144 1421.1 1192.7 1420.2 1208" fill="none" stroke="#fae4de" stroke-width="9" stroke-linecap="round" filter="url(#b3)" opacity="0.95"/><path d="M1730 419C1726 427.5 1713.5 449.8 1706 470C1698.5 490.2 1690.3 518.3 1685 540C1679.7 561.7 1676.3 581.8 1674 600C1671.7 618.2 1671.3 632.3 1671 649C1670.7 665.7 1672 681.5 1672 700C1672 718.5 1672.5 739.7 1671 760C1669.5 780.3 1666.3 803.8 1663 822C1659.7 840.2 1655.7 853.5 1651 869C1646.3 884.5 1639.5 899.8 1635 915C1630.5 930.2 1626.7 945.8 1624 960C1621.3 974.2 1620.3 983.3 1619 1000C1617.7 1016.7 1616.7 1040.7 1616 1060C1615.3 1079.3 1614.5 1091.3 1615 1116C1615.5 1140.7 1618.3 1192.7 1619 1208" fill="none" stroke="#fae4de" stroke-width="8" stroke-linecap="round" filter="url(#b3)" opacity="0.85"/></g><clipPath id="lc30"><path d="M1552.5 419C1548.3 429.2 1536 459.8 1527.5 480C1519 500.2 1509.8 520.3 1501.5 540C1493.2 559.7 1485.5 579.8 1477.5 598C1469.5 616.2 1460 632 1453.5 649C1447 666 1443 681.5 1438.5 700C1434 718.5 1428.8 740 1426.5 760C1424.2 780 1424.7 801.8 1425 820C1425.3 838.2 1426.8 850.5 1428.5 869C1430.2 887.5 1433.5 912.5 1435.5 931C1437.5 949.5 1439.7 961.8 1440.5 980C1441.3 998.2 1441.2 1017.3 1440.5 1040C1439.8 1062.7 1438 1088 1436.5 1116C1435 1144 1432.3 1192.7 1431.5 1208L1607 1208C1606.3 1192.7 1603.5 1140.7 1603 1116C1602.5 1091.3 1603.3 1079.3 1604 1060C1604.7 1040.7 1605.7 1016.7 1607 1000C1608.3 983.3 1609.3 974.2 1612 960C1614.7 945.8 1618.5 930.2 1623 915C1627.5 899.8 1634.3 884.5 1639 869C1643.7 853.5 1647.7 840.2 1651 822C1654.3 803.8 1657.5 780.3 1659 760C1660.5 739.7 1660 718.5 1660 700C1660 681.5 1658.7 665.7 1659 649C1659.3 632.3 1659.7 618.2 1662 600C1664.3 581.8 1667.7 561.7 1673 540C1678.3 518.3 1686.5 490.2 1694 470C1701.5 449.8 1714 427.5 1718 419Z"/></clipPath><g clip-path="url(#lc30)"><clipPath id="c13"><path d="M1380 400 L1780 400 L1780 700 L1380 700Z"/></clipPath><path d="M1380 400 L1780 400 L1780 700 L1380 700Z" fill="#dc8e8a"/><g clip-path="url(#c13)"><path d="M1552.5 419C1548.3 429.2 1536 459.8 1527.5 480C1519 500.2 1509.8 520.3 1501.5 540C1493.2 559.7 1485.5 579.8 1477.5 598C1469.5 616.2 1460 632 1453.5 649C1447 666 1443 681.5 1438.5 700C1434 718.5 1428.8 740 1426.5 760C1424.2 780 1424.7 801.8 1425 820C1425.3 838.2 1426.8 850.5 1428.5 869C1430.2 887.5 1433.5 912.5 1435.5 931C1437.5 949.5 1439.7 961.8 1440.5 980C1441.3 998.2 1441.2 1017.3 1440.5 1040C1439.8 1062.7 1438 1088 1436.5 1116C1435 1144 1432.3 1192.7 1431.5 1208" fill="none" stroke="#b85c5c" stroke-width="40" filter="url(#b10)" opacity="0.6"/><path d="M1718 419C1714 427.5 1701.5 449.8 1694 470C1686.5 490.2 1678.3 518.3 1673 540C1667.7 561.7 1664.3 581.8 1662 600C1659.7 618.2 1659.3 632.3 1659 649C1658.7 665.7 1660 681.5 1660 700C1660 718.5 1660.5 739.7 1659 760C1657.5 780.3 1654.3 803.8 1651 822C1647.7 840.2 1643.7 853.5 1639 869C1634.3 884.5 1627.5 899.8 1623 915C1618.5 930.2 1614.7 945.8 1612 960C1609.3 974.2 1608.3 983.3 1607 1000C1605.7 1016.7 1604.7 1040.7 1604 1060C1603.3 1079.3 1602.5 1091.3 1603 1116C1603.5 1140.7 1606.3 1192.7 1607 1208" fill="none" stroke="#b85c5c" stroke-width="40" filter="url(#b10)" opacity="0.6"/><path d="M1380 400 L1780 400 L1780 700 L1380 700Z" fill="url(#st1)" mask="url(#m14)"/></g><clipPath id="c15"><path d="M1430 966C1432.3 965 1436.8 962.8 1443.7 960.3C1450.6 957.8 1461 953.4 1471.6 951C1482.1 948.6 1495.3 946.2 1507 946C1518.7 945.8 1529 948.9 1541.5 950C1554 951.1 1572.2 950.5 1582 952.5C1591.8 954.5 1595 959.8 1600.5 962C1606 964.2 1612.6 965.3 1615 966L1640 1215 L1400 1215Z"/></clipPath><path d="M1430 966C1432.3 965 1436.8 962.8 1443.7 960.3C1450.6 957.8 1461 953.4 1471.6 951C1482.1 948.6 1495.3 946.2 1507 946C1518.7 945.8 1529 948.9 1541.5 950C1554 951.1 1572.2 950.5 1582 952.5C1591.8 954.5 1595 959.8 1600.5 962C1606 964.2 1612.6 965.3 1615 966L1640 1215 L1400 1215Z" fill="#e6a4a2"/><g clip-path="url(#c15)"><path d="M1552.5 419C1548.3 429.2 1536 459.8 1527.5 480C1519 500.2 1509.8 520.3 1501.5 540C1493.2 559.7 1485.5 579.8 1477.5 598C1469.5 616.2 1460 632 1453.5 649C1447 666 1443 681.5 1438.5 700C1434 718.5 1428.8 740 1426.5 760C1424.2 780 1424.7 801.8 1425 820C1425.3 838.2 1426.8 850.5 1428.5 869C1430.2 887.5 1433.5 912.5 1435.5 931C1437.5 949.5 1439.7 961.8 1440.5 980C1441.3 998.2 1441.2 1017.3 1440.5 1040C1439.8 1062.7 1438 1088 1436.5 1116C1435 1144 1432.3 1192.7 1431.5 1208" fill="none" stroke="#c86e70" stroke-width="44" filter="url(#b10)" opacity="0.8"/><path d="M1718 419C1714 427.5 1701.5 449.8 1694 470C1686.5 490.2 1678.3 518.3 1673 540C1667.7 561.7 1664.3 581.8 1662 600C1659.7 618.2 1659.3 632.3 1659 649C1658.7 665.7 1660 681.5 1660 700C1660 718.5 1660.5 739.7 1659 760C1657.5 780.3 1654.3 803.8 1651 822C1647.7 840.2 1643.7 853.5 1639 869C1634.3 884.5 1627.5 899.8 1623 915C1618.5 930.2 1614.7 945.8 1612 960C1609.3 974.2 1608.3 983.3 1607 1000C1605.7 1016.7 1604.7 1040.7 1604 1060C1603.3 1079.3 1602.5 1091.3 1603 1116C1603.5 1140.7 1606.3 1192.7 1607 1208" fill="none" stroke="#c86e70" stroke-width="44" filter="url(#b10)" opacity="0.8"/><path d="M1520 975C1520 992.5 1520.3 1040 1520 1080C1519.7 1120 1518.3 1192.5 1518 1215" fill="none" stroke="#f6d2ca" stroke-width="30" stroke-linecap="round" filter="url(#b12)" opacity="0.85"/><path d="M1430 966C1432.3 965 1436.8 962.8 1443.7 960.3C1450.6 957.8 1461 953.4 1471.6 951C1482.1 948.6 1495.3 946.2 1507 946C1518.7 945.8 1529 948.9 1541.5 950C1554 951.1 1572.2 950.5 1582 952.5C1591.8 954.5 1595 959.8 1600.5 962C1606 964.2 1612.6 965.3 1615 966L1640 1215 L1400 1215Z" fill="url(#st1)" mask="url(#m16)"/></g><clipPath id="c17"><path d="M1470 905 L1512 926 L1514 947 L1471.6 951 L1462 930Z"/></clipPath><path d="M1470 905 L1512 926 L1514 947 L1471.6 951 L1462 930Z" fill="#9fb0b6"/><g clip-path="url(#c17)"><path d="M1470 905 L1512 926 L1514 947 L1471.6 951 L1462 930Z" fill="none" stroke="#333" stroke-width="8" filter="url(#b3)" opacity="0.6"/><path d="M1470 905 L1512 926 L1514 947 L1471.6 951 L1462 930Z" fill="url(#st2)" mask="url(#m18)"/></g><clipPath id="c19"><path d="M1545 928 L1560 926 L1594 905 L1592 955 L1541.5 950 L1533 945 L1533 930Z"/></clipPath><path d="M1545 928 L1560 926 L1594 905 L1592 955 L1541.5 950 L1533 945 L1533 930Z" fill="#9fb0b6"/><g clip-path="url(#c19)"><path d="M1545 928 L1560 926 L1594 905 L1592 955 L1541.5 950 L1533 945 L1533 930Z" fill="none" stroke="#333" stroke-width="8" filter="url(#b3)" opacity="0.6"/><path d="M1545 928 L1560 926 L1594 905 L1592 955 L1541.5 950 L1533 945 L1533 930Z" fill="url(#st2)" mask="url(#m20)"/></g><clipPath id="c21"><path d="M1496.5 575.7C1502.3 573.6 1525.7 563.6 1535 561.7C1544.3 559.8 1553.9 561.3 1558.6 563.3C1563.2 565.3 1565.3 571.3 1566 575C1566.7 578.7 1568.8 583.5 1563 588C1557.2 592.5 1535.9 599.9 1527.5 605C1519.1 610.1 1511.4 615.4 1507 622C1502.6 628.6 1501.9 639.1 1498 649C1494.1 658.9 1485.7 674 1481 688C1476.3 702 1470 731.2 1467 742C1464 752.8 1462.8 750.2 1460.7 760C1458.6 769.8 1453.7 793 1453 807C1452.3 821 1454.2 840.2 1456 853C1457.8 865.8 1462.5 882.7 1465 892C1467.5 901.3 1472.1 907.8 1473 915C1473.9 922.2 1473 933.2 1471 940C1469 946.8 1464.1 957 1460 960C1455.9 963 1446.1 960.3 1443.7 960.3L1400 960 L1400 600Z"/></clipPath><path d="M1496.5 575.7C1502.3 573.6 1525.7 563.6 1535 561.7C1544.3 559.8 1553.9 561.3 1558.6 563.3C1563.2 565.3 1565.3 571.3 1566 575C1566.7 578.7 1568.8 583.5 1563 588C1557.2 592.5 1535.9 599.9 1527.5 605C1519.1 610.1 1511.4 615.4 1507 622C1502.6 628.6 1501.9 639.1 1498 649C1494.1 658.9 1485.7 674 1481 688C1476.3 702 1470 731.2 1467 742C1464 752.8 1462.8 750.2 1460.7 760C1458.6 769.8 1453.7 793 1453 807C1452.3 821 1454.2 840.2 1456 853C1457.8 865.8 1462.5 882.7 1465 892C1467.5 901.3 1472.1 907.8 1473 915C1473.9 922.2 1473 933.2 1471 940C1469 946.8 1464.1 957 1460 960C1455.9 963 1446.1 960.3 1443.7 960.3L1400 960 L1400 600Z" fill="#f3d39c"/><g clip-path="url(#c21)"><path d="M1496.5 575.7C1502.3 573.6 1525.7 563.6 1535 561.7C1544.3 559.8 1553.9 561.3 1558.6 563.3C1563.2 565.3 1565.3 571.3 1566 575C1566.7 578.7 1568.8 583.5 1563 588C1557.2 592.5 1535.9 599.9 1527.5 605C1519.1 610.1 1511.4 615.4 1507 622C1502.6 628.6 1501.9 639.1 1498 649C1494.1 658.9 1485.7 674 1481 688C1476.3 702 1470 731.2 1467 742C1464 752.8 1462.8 750.2 1460.7 760C1458.6 769.8 1453.7 793 1453 807C1452.3 821 1454.2 840.2 1456 853C1457.8 865.8 1462.5 882.7 1465 892C1467.5 901.3 1472.1 907.8 1473 915C1473.9 922.2 1473 933.2 1471 940C1469 946.8 1464.1 957 1460 960C1455.9 963 1446.1 960.3 1443.7 960.3L1400 960 L1400 600Z" fill="none" stroke="#e0b070" stroke-width="24" filter="url(#b8)" opacity="0.7"/><path d="M1505 600C1500 616.7 1483.3 666.7 1475 700C1466.7 733.3 1458.3 766.7 1455 800C1451.7 833.3 1455 883.3 1455 900" fill="none" stroke="#fbe9c8" stroke-width="12" stroke-linecap="round" filter="url(#b9)" opacity="0.5"/><path d="M1496.5 575.7C1502.3 573.6 1525.7 563.6 1535 561.7C1544.3 559.8 1553.9 561.3 1558.6 563.3C1563.2 565.3 1565.3 571.3 1566 575C1566.7 578.7 1568.8 583.5 1563 588C1557.2 592.5 1535.9 599.9 1527.5 605C1519.1 610.1 1511.4 615.4 1507 622C1502.6 628.6 1501.9 639.1 1498 649C1494.1 658.9 1485.7 674 1481 688C1476.3 702 1470 731.2 1467 742C1464 752.8 1462.8 750.2 1460.7 760C1458.6 769.8 1453.7 793 1453 807C1452.3 821 1454.2 840.2 1456 853C1457.8 865.8 1462.5 882.7 1465 892C1467.5 901.3 1472.1 907.8 1473 915C1473.9 922.2 1473 933.2 1471 940C1469 946.8 1464.1 957 1460 960C1455.9 963 1446.1 960.3 1443.7 960.3L1400 960 L1400 600Z" fill="url(#st2)" mask="url(#m22)"/></g><path d="M1496.5 575.7C1502.3 573.6 1525.7 563.6 1535 561.7C1544.3 559.8 1553.9 561.3 1558.6 563.3C1563.2 565.3 1565.3 571.3 1566 575C1566.7 578.7 1568.8 583.5 1563 588C1557.2 592.5 1535.9 599.9 1527.5 605C1519.1 610.1 1511.4 615.4 1507 622C1502.6 628.6 1501.9 639.1 1498 649C1494.1 658.9 1485.7 674 1481 688C1476.3 702 1470 731.2 1467 742C1464 752.8 1462.8 750.2 1460.7 760C1458.6 769.8 1453.7 793 1453 807C1452.3 821 1454.2 840.2 1456 853C1457.8 865.8 1462.5 882.7 1465 892C1467.5 901.3 1472.1 907.8 1473 915C1473.9 922.2 1473 933.2 1471 940C1469 946.8 1464.1 957 1460 960C1455.9 963 1446.1 960.3 1443.7 960.3L1400 960 L1400 600Z" fill="none" stroke="#151515" stroke-width="2.0" stroke-linejoin="round"/><clipPath id="c23"><path d="M1603.6 571C1607.4 569.9 1621.9 575.8 1628.4 580.4C1634.9 585 1642.6 594.1 1647 602C1651.4 609.9 1655.9 621.3 1658 633C1660.1 644.7 1660.7 661 1661 680C1661.3 699 1661.7 738.7 1660 760C1658.3 781.3 1653.2 805.6 1650 822C1646.8 838.4 1643.2 855 1639 869C1634.8 883 1626.3 901 1622 915C1617.7 929 1613.2 955 1610 962C1606.8 969 1603.3 962.8 1600.5 962C1597.7 961.2 1592.9 961.6 1591 957C1589.1 952.4 1587 939.5 1588 931C1589 922.5 1593.9 911.7 1597.4 900C1600.9 888.3 1608.2 867 1611.4 853C1614.6 839 1616.9 821 1619 807C1621.1 793 1623.6 776.8 1625.3 760C1627 743.2 1629.3 711.6 1630 695C1630.7 678.4 1631.2 660.5 1630 649C1628.8 637.5 1625.3 625.5 1622 618C1618.7 610.5 1610.8 603.5 1608 599C1605.2 594.5 1603.7 592.2 1603 588C1602.3 583.8 1599.8 572.1 1603.6 571Z"/></clipPath><path d="M1603.6 571C1607.4 569.9 1621.9 575.8 1628.4 580.4C1634.9 585 1642.6 594.1 1647 602C1651.4 609.9 1655.9 621.3 1658 633C1660.1 644.7 1660.7 661 1661 680C1661.3 699 1661.7 738.7 1660 760C1658.3 781.3 1653.2 805.6 1650 822C1646.8 838.4 1643.2 855 1639 869C1634.8 883 1626.3 901 1622 915C1617.7 929 1613.2 955 1610 962C1606.8 969 1603.3 962.8 1600.5 962C1597.7 961.2 1592.9 961.6 1591 957C1589.1 952.4 1587 939.5 1588 931C1589 922.5 1593.9 911.7 1597.4 900C1600.9 888.3 1608.2 867 1611.4 853C1614.6 839 1616.9 821 1619 807C1621.1 793 1623.6 776.8 1625.3 760C1627 743.2 1629.3 711.6 1630 695C1630.7 678.4 1631.2 660.5 1630 649C1628.8 637.5 1625.3 625.5 1622 618C1618.7 610.5 1610.8 603.5 1608 599C1605.2 594.5 1603.7 592.2 1603 588C1602.3 583.8 1599.8 572.1 1603.6 571Z" fill="#f3d39c"/><g clip-path="url(#c23)"><path d="M1603.6 571C1607.4 569.9 1621.9 575.8 1628.4 580.4C1634.9 585 1642.6 594.1 1647 602C1651.4 609.9 1655.9 621.3 1658 633C1660.1 644.7 1660.7 661 1661 680C1661.3 699 1661.7 738.7 1660 760C1658.3 781.3 1653.2 805.6 1650 822C1646.8 838.4 1643.2 855 1639 869C1634.8 883 1626.3 901 1622 915C1617.7 929 1613.2 955 1610 962C1606.8 969 1603.3 962.8 1600.5 962C1597.7 961.2 1592.9 961.6 1591 957C1589.1 952.4 1587 939.5 1588 931C1589 922.5 1593.9 911.7 1597.4 900C1600.9 888.3 1608.2 867 1611.4 853C1614.6 839 1616.9 821 1619 807C1621.1 793 1623.6 776.8 1625.3 760C1627 743.2 1629.3 711.6 1630 695C1630.7 678.4 1631.2 660.5 1630 649C1628.8 637.5 1625.3 625.5 1622 618C1618.7 610.5 1610.8 603.5 1608 599C1605.2 594.5 1603.7 592.2 1603 588C1602.3 583.8 1599.8 572.1 1603.6 571Z" fill="none" stroke="#e0b070" stroke-width="24" filter="url(#b8)" opacity="0.7"/><path d="M1630 600C1633 613.3 1646.3 646.7 1648 680C1649.7 713.3 1645.5 763.3 1640 800C1634.5 836.7 1619.2 883.3 1615 900" fill="none" stroke="#fbe9c8" stroke-width="10" stroke-linecap="round" filter="url(#b9)" opacity="0.5"/><path d="M1603.6 571C1607.4 569.9 1621.9 575.8 1628.4 580.4C1634.9 585 1642.6 594.1 1647 602C1651.4 609.9 1655.9 621.3 1658 633C1660.1 644.7 1660.7 661 1661 680C1661.3 699 1661.7 738.7 1660 760C1658.3 781.3 1653.2 805.6 1650 822C1646.8 838.4 1643.2 855 1639 869C1634.8 883 1626.3 901 1622 915C1617.7 929 1613.2 955 1610 962C1606.8 969 1603.3 962.8 1600.5 962C1597.7 961.2 1592.9 961.6 1591 957C1589.1 952.4 1587 939.5 1588 931C1589 922.5 1593.9 911.7 1597.4 900C1600.9 888.3 1608.2 867 1611.4 853C1614.6 839 1616.9 821 1619 807C1621.1 793 1623.6 776.8 1625.3 760C1627 743.2 1629.3 711.6 1630 695C1630.7 678.4 1631.2 660.5 1630 649C1628.8 637.5 1625.3 625.5 1622 618C1618.7 610.5 1610.8 603.5 1608 599C1605.2 594.5 1603.7 592.2 1603 588C1602.3 583.8 1599.8 572.1 1603.6 571Z" fill="url(#st2)" mask="url(#m24)"/></g><path d="M1603.6 571C1607.4 569.9 1621.9 575.8 1628.4 580.4C1634.9 585 1642.6 594.1 1647 602C1651.4 609.9 1655.9 621.3 1658 633C1660.1 644.7 1660.7 661 1661 680C1661.3 699 1661.7 738.7 1660 760C1658.3 781.3 1653.2 805.6 1650 822C1646.8 838.4 1643.2 855 1639 869C1634.8 883 1626.3 901 1622 915C1617.7 929 1613.2 955 1610 962C1606.8 969 1603.3 962.8 1600.5 962C1597.7 961.2 1592.9 961.6 1591 957C1589.1 952.4 1587 939.5 1588 931C1589 922.5 1593.9 911.7 1597.4 900C1600.9 888.3 1608.2 867 1611.4 853C1614.6 839 1616.9 821 1619 807C1621.1 793 1623.6 776.8 1625.3 760C1627 743.2 1629.3 711.6 1630 695C1630.7 678.4 1631.2 660.5 1630 649C1628.8 637.5 1625.3 625.5 1622 618C1618.7 610.5 1610.8 603.5 1608 599C1605.2 594.5 1603.7 592.2 1603 588C1602.3 583.8 1599.8 572.1 1603.6 571Z" fill="none" stroke="#151515" stroke-width="2.0" stroke-linejoin="round"/><clipPath id="c25"><path d="M1625 415 L1643 415 L1600 560 L1578 560Z"/></clipPath><path d="M1625 415 L1643 415 L1600 560 L1578 560Z" fill="#e4e8e8"/><g clip-path="url(#c25)"><path d="M1634 418 L1590 557" fill="none" stroke="#fafafa" stroke-width="6" stroke-linecap="round" filter="url(#b2)" opacity="0.9"/></g><path d="M1625 415 L1643 415 L1600 560 L1578 560Z" fill="none" stroke="#151515" stroke-width="2.0" stroke-linejoin="round"/><clipPath id="c26"><path d="M1568 557C1572.7 552.9 1596.2 553 1600.5 557C1604.8 561 1599 581.4 1600 587C1601 592.6 1605.1 594.9 1608 599C1610.9 603.1 1619.1 611.3 1622 618C1624.9 624.7 1628.8 638.7 1630 649C1631.2 659.3 1631.6 680.2 1631 695C1630.4 709.8 1626.9 745.1 1625.3 760C1623.7 774.9 1620.9 794.6 1619 807C1617.1 819.4 1614.7 840.6 1611.4 853C1608.1 865.4 1600.4 890 1594.3 900C1588.2 910 1573.9 923.4 1566 927.7C1558.1 932 1542.6 932.2 1535 932.4C1527.4 932.6 1515.6 931.3 1509 929C1502.4 926.7 1491.2 919.9 1485.6 915C1480 910.1 1470.9 900.3 1467 892C1463.1 883.7 1457.9 864.3 1456 853C1454.1 841.7 1452.4 819.4 1453 807C1453.6 794.6 1458.8 768.7 1460.7 760C1462.6 751.3 1464.3 751.6 1467 742C1469.7 732.4 1476.9 700.4 1481 688C1485.1 675.6 1494.5 657.8 1498 649C1501.5 640.2 1503.1 627.9 1507 622C1510.9 616.1 1519.8 609.5 1527.5 605C1535.2 600.5 1559.6 594.4 1565 588C1570.4 581.6 1563.3 561.1 1568 557Z"/></clipPath><path d="M1568 557C1572.7 552.9 1596.2 553 1600.5 557C1604.8 561 1599 581.4 1600 587C1601 592.6 1605.1 594.9 1608 599C1610.9 603.1 1619.1 611.3 1622 618C1624.9 624.7 1628.8 638.7 1630 649C1631.2 659.3 1631.6 680.2 1631 695C1630.4 709.8 1626.9 745.1 1625.3 760C1623.7 774.9 1620.9 794.6 1619 807C1617.1 819.4 1614.7 840.6 1611.4 853C1608.1 865.4 1600.4 890 1594.3 900C1588.2 910 1573.9 923.4 1566 927.7C1558.1 932 1542.6 932.2 1535 932.4C1527.4 932.6 1515.6 931.3 1509 929C1502.4 926.7 1491.2 919.9 1485.6 915C1480 910.1 1470.9 900.3 1467 892C1463.1 883.7 1457.9 864.3 1456 853C1454.1 841.7 1452.4 819.4 1453 807C1453.6 794.6 1458.8 768.7 1460.7 760C1462.6 751.3 1464.3 751.6 1467 742C1469.7 732.4 1476.9 700.4 1481 688C1485.1 675.6 1494.5 657.8 1498 649C1501.5 640.2 1503.1 627.9 1507 622C1510.9 616.1 1519.8 609.5 1527.5 605C1535.2 600.5 1559.6 594.4 1565 588C1570.4 581.6 1563.3 561.1 1568 557Z" fill="#cbdde1"/><g clip-path="url(#c26)"><path d="M1600 590C1605.3 608.3 1630 655 1632 700C1634 745 1624 821.7 1612 860C1600 898.3 1580.3 920 1560 930C1539.7 940 1501.7 921.7 1490 920" fill="none" stroke="#a0b8c0" stroke-width="22" filter="url(#b8)" opacity="0.55"/><path d="M1522 645C1518.3 659.2 1504.7 702.5 1500 730C1495.3 757.5 1493.7 785 1494 810C1494.3 835 1500.7 868.3 1502 880" fill="none" stroke="#f6fafa" stroke-width="44" stroke-linecap="round" filter="url(#b14)" opacity="0.95"/><path d="M1568 557C1572.7 552.9 1596.2 553 1600.5 557C1604.8 561 1599 581.4 1600 587C1601 592.6 1605.1 594.9 1608 599C1610.9 603.1 1619.1 611.3 1622 618C1624.9 624.7 1628.8 638.7 1630 649C1631.2 659.3 1631.6 680.2 1631 695C1630.4 709.8 1626.9 745.1 1625.3 760C1623.7 774.9 1620.9 794.6 1619 807C1617.1 819.4 1614.7 840.6 1611.4 853C1608.1 865.4 1600.4 890 1594.3 900C1588.2 910 1573.9 923.4 1566 927.7C1558.1 932 1542.6 932.2 1535 932.4C1527.4 932.6 1515.6 931.3 1509 929C1502.4 926.7 1491.2 919.9 1485.6 915C1480 910.1 1470.9 900.3 1467 892C1463.1 883.7 1457.9 864.3 1456 853C1454.1 841.7 1452.4 819.4 1453 807C1453.6 794.6 1458.8 768.7 1460.7 760C1462.6 751.3 1464.3 751.6 1467 742C1469.7 732.4 1476.9 700.4 1481 688C1485.1 675.6 1494.5 657.8 1498 649C1501.5 640.2 1503.1 627.9 1507 622C1510.9 616.1 1519.8 609.5 1527.5 605C1535.2 600.5 1559.6 594.4 1565 588C1570.4 581.6 1563.3 561.1 1568 557Z" fill="url(#st3)" mask="url(#m27)"/></g><path d="M1568 557C1572.7 552.9 1596.2 553 1600.5 557C1604.8 561 1599 581.4 1600 587C1601 592.6 1605.1 594.9 1608 599C1610.9 603.1 1619.1 611.3 1622 618C1624.9 624.7 1628.8 638.7 1630 649C1631.2 659.3 1631.6 680.2 1631 695C1630.4 709.8 1626.9 745.1 1625.3 760C1623.7 774.9 1620.9 794.6 1619 807C1617.1 819.4 1614.7 840.6 1611.4 853C1608.1 865.4 1600.4 890 1594.3 900C1588.2 910 1573.9 923.4 1566 927.7C1558.1 932 1542.6 932.2 1535 932.4C1527.4 932.6 1515.6 931.3 1509 929C1502.4 926.7 1491.2 919.9 1485.6 915C1480 910.1 1470.9 900.3 1467 892C1463.1 883.7 1457.9 864.3 1456 853C1454.1 841.7 1452.4 819.4 1453 807C1453.6 794.6 1458.8 768.7 1460.7 760C1462.6 751.3 1464.3 751.6 1467 742C1469.7 732.4 1476.9 700.4 1481 688C1485.1 675.6 1494.5 657.8 1498 649C1501.5 640.2 1503.1 627.9 1507 622C1510.9 616.1 1519.8 609.5 1527.5 605C1535.2 600.5 1559.6 594.4 1565 588C1570.4 581.6 1563.3 561.1 1568 557Z" fill="none" stroke="#151515" stroke-width="2.4" stroke-linejoin="round"/><g filter="url(#b8)" opacity="0.45"><ellipse cx="1605" cy="760" rx="14" ry="110" fill="#8aa4ac"/></g><path d="M1558.6 596C1553.7 623.3 1537.3 705.5 1529 760C1520.7 814.5 1512.3 895.8 1509 923" stroke="#151515" stroke-width="2.4" fill="none" stroke-dasharray="10 6"/><path d="M1591 585C1585.3 614.2 1565.8 702.3 1557 760C1548.2 817.7 1541.5 902.5 1538.4 931" stroke="#151515" stroke-width="2.4" fill="none" stroke-dasharray="10 6"/><path d="M1568 557 L1600.5 557" fill="none" stroke="#151515" stroke-width="2.0" stroke-linejoin="round" stroke-linecap="round" /><path d="M1443.7 960.3C1448.3 958.8 1461 953.4 1471.6 951C1482.1 948.6 1495.3 946.2 1507 946C1518.7 945.8 1529 948.9 1541.5 950C1554 951.1 1572.2 950.5 1582 952.5C1591.8 954.5 1597.4 960.4 1600.5 962" fill="none" stroke="#151515" stroke-width="2.0" stroke-linejoin="round" stroke-linecap="round" /><clipPath id="c28"><path d="M1510.4 932.4C1512.9 928.1 1532.9 927.6 1535.3 932.4C1537.7 937.2 1534.7 971.7 1534 980C1533.3 988.3 1529.3 1009.4 1528 1015C1526.7 1020.6 1522.4 1036.5 1521 1036C1519.6 1035.5 1515.1 1016.1 1514 1010C1512.9 1003.9 1510.4 982.8 1510 975C1509.6 967.2 1507.9 936.7 1510.4 932.4Z"/></clipPath><path d="M1510.4 932.4C1512.9 928.1 1532.9 927.6 1535.3 932.4C1537.7 937.2 1534.7 971.7 1534 980C1533.3 988.3 1529.3 1009.4 1528 1015C1526.7 1020.6 1522.4 1036.5 1521 1036C1519.6 1035.5 1515.1 1016.1 1514 1010C1512.9 1003.9 1510.4 982.8 1510 975C1509.6 967.2 1507.9 936.7 1510.4 932.4Z" fill="#d8dada"/><g clip-path="url(#c28)"><path d="M1520 940 L1518 1010" fill="none" stroke="#f6f6f6" stroke-width="6" stroke-linecap="round" filter="url(#b2)" opacity="0.9"/></g><path d="M1510.4 932.4C1512.9 928.1 1532.9 927.6 1535.3 932.4C1537.7 937.2 1534.7 971.7 1534 980C1533.3 988.3 1529.3 1009.4 1528 1015C1526.7 1020.6 1522.4 1036.5 1521 1036C1519.6 1035.5 1515.1 1016.1 1514 1010C1512.9 1003.9 1510.4 982.8 1510 975C1509.6 967.2 1507.9 936.7 1510.4 932.4Z" fill="none" stroke="#151515" stroke-width="2.0" stroke-linejoin="round"/></g><path d="M1530 419C1525.8 429.2 1513.5 459.8 1505 480C1496.5 500.2 1487.3 520.3 1479 540C1470.7 559.7 1463 579.8 1455 598C1447 616.2 1437.5 632 1431 649C1424.5 666 1420.5 681.5 1416 700C1411.5 718.5 1406.2 740 1404 760C1401.8 780 1402.2 801.8 1402.5 820C1402.8 838.2 1404.2 850.5 1406 869C1407.8 887.5 1411 912.5 1413 931C1415 949.5 1417.2 961.8 1418 980C1418.8 998.2 1418.7 1017.3 1418 1040C1417.3 1062.7 1415.5 1088 1414 1116C1412.5 1144 1409.8 1192.7 1409 1208" fill="none" stroke="#151515" stroke-width="2.4" stroke-linejoin="round" stroke-linecap="round" /><path d="M1742 419C1738 427.5 1725.5 449.8 1718 470C1710.5 490.2 1702.3 518.3 1697 540C1691.7 561.7 1688.3 581.8 1686 600C1683.7 618.2 1683.3 632.3 1683 649C1682.7 665.7 1684 681.5 1684 700C1684 718.5 1684.5 739.7 1683 760C1681.5 780.3 1678.3 803.8 1675 822C1671.7 840.2 1667.7 853.5 1663 869C1658.3 884.5 1651.5 899.8 1647 915C1642.5 930.2 1638.7 945.8 1636 960C1633.3 974.2 1632.3 983.3 1631 1000C1629.7 1016.7 1628.7 1040.7 1628 1060C1627.3 1079.3 1626.5 1091.3 1627 1116C1627.5 1140.7 1630.3 1192.7 1631 1208" fill="none" stroke="#151515" stroke-width="2.4" stroke-linejoin="round" stroke-linecap="round" /><path d="M1552.5 419C1548.3 429.2 1536 459.8 1527.5 480C1519 500.2 1509.8 520.3 1501.5 540C1493.2 559.7 1485.5 579.8 1477.5 598C1469.5 616.2 1460 632 1453.5 649C1447 666 1443 681.5 1438.5 700C1434 718.5 1428.8 740 1426.5 760C1424.2 780 1424.7 801.8 1425 820C1425.3 838.2 1426.8 850.5 1428.5 869C1430.2 887.5 1433.5 912.5 1435.5 931C1437.5 949.5 1439.7 961.8 1440.5 980C1441.3 998.2 1441.2 1017.3 1440.5 1040C1439.8 1062.7 1438 1088 1436.5 1116C1435 1144 1432.3 1192.7 1431.5 1208" fill="none" stroke="#151515" stroke-width="2.2" stroke-linejoin="round" stroke-linecap="round" /><path d="M1718 419C1714 427.5 1701.5 449.8 1694 470C1686.5 490.2 1678.3 518.3 1673 540C1667.7 561.7 1664.3 581.8 1662 600C1659.7 618.2 1659.3 632.3 1659 649C1658.7 665.7 1660 681.5 1660 700C1660 718.5 1660.5 739.7 1659 760C1657.5 780.3 1654.3 803.8 1651 822C1647.7 840.2 1643.7 853.5 1639 869C1634.3 884.5 1627.5 899.8 1623 915C1618.5 930.2 1614.7 945.8 1612 960C1609.3 974.2 1608.3 983.3 1607 1000C1605.7 1016.7 1604.7 1040.7 1604 1060C1603.3 1079.3 1602.5 1091.3 1603 1116C1603.5 1140.7 1606.3 1192.7 1607 1208" fill="none" stroke="#151515" stroke-width="2.2" stroke-linejoin="round" stroke-linecap="round" /><clipPath id="c39"><path d="M2129 419C2125.2 426.8 2113.5 450.2 2106 466C2098.5 481.8 2090.3 496.7 2084 514C2077.7 531.3 2072.9 552.3 2068 570C2063.1 587.7 2058.9 602.5 2054.7 620C2050.5 637.5 2046.6 656.8 2043 675C2039.4 693.2 2035.8 710.7 2033 729C2030.2 747.3 2028.2 766.5 2026 785C2023.8 803.5 2021.8 822.5 2019.8 840C2017.8 857.5 2015.7 873.5 2014 890C2012.3 906.5 2011.2 921.5 2009.7 939C2008.2 956.5 2006.5 976.5 2005 995C2003.5 1013.5 2002.4 1027.5 2000.4 1050C1998.4 1072.5 1995.4 1103.7 1993 1130C1990.6 1156.3 1987.2 1195 1986 1208L2214 1208C2214.5 1195 2215.6 1156.3 2217 1130C2218.4 1103.7 2220.9 1072.5 2222.4 1050C2223.9 1027.5 2224.7 1013.5 2226 995C2227.3 976.5 2229 956.5 2230.2 939C2231.4 921.5 2231.9 906.5 2233 890C2234.1 873.5 2235.2 857.5 2237 840C2238.8 822.5 2241.5 803.5 2244 785C2246.5 766.5 2249.3 747.3 2252 729C2254.7 710.7 2256.9 693.2 2260 675C2263.1 656.8 2267.1 637.5 2270.6 620C2274.1 602.5 2276.6 587.7 2281 570C2285.4 552.3 2290.5 531.3 2297 514C2303.5 496.7 2312.5 481.8 2320 466C2327.5 450.2 2338.3 426.8 2342 419Z"/></clipPath><path d="M2129 419C2125.2 426.8 2113.5 450.2 2106 466C2098.5 481.8 2090.3 496.7 2084 514C2077.7 531.3 2072.9 552.3 2068 570C2063.1 587.7 2058.9 602.5 2054.7 620C2050.5 637.5 2046.6 656.8 2043 675C2039.4 693.2 2035.8 710.7 2033 729C2030.2 747.3 2028.2 766.5 2026 785C2023.8 803.5 2021.8 822.5 2019.8 840C2017.8 857.5 2015.7 873.5 2014 890C2012.3 906.5 2011.2 921.5 2009.7 939C2008.2 956.5 2006.5 976.5 2005 995C2003.5 1013.5 2002.4 1027.5 2000.4 1050C1998.4 1072.5 1995.4 1103.7 1993 1130C1990.6 1156.3 1987.2 1195 1986 1208L2214 1208C2214.5 1195 2215.6 1156.3 2217 1130C2218.4 1103.7 2220.9 1072.5 2222.4 1050C2223.9 1027.5 2224.7 1013.5 2226 995C2227.3 976.5 2229 956.5 2230.2 939C2231.4 921.5 2231.9 906.5 2233 890C2234.1 873.5 2235.2 857.5 2237 840C2238.8 822.5 2241.5 803.5 2244 785C2246.5 766.5 2249.3 747.3 2252 729C2254.7 710.7 2256.9 693.2 2260 675C2263.1 656.8 2267.1 637.5 2270.6 620C2274.1 602.5 2276.6 587.7 2281 570C2285.4 552.3 2290.5 531.3 2297 514C2303.5 496.7 2312.5 481.8 2320 466C2327.5 450.2 2338.3 426.8 2342 419Z" fill="#ebb0a8"/><g clip-path="url(#c39)"><path d="M2129 419C2125.2 426.8 2113.5 450.2 2106 466C2098.5 481.8 2090.3 496.7 2084 514C2077.7 531.3 2072.9 552.3 2068 570C2063.1 587.7 2058.9 602.5 2054.7 620C2050.5 637.5 2046.6 656.8 2043 675C2039.4 693.2 2035.8 710.7 2033 729C2030.2 747.3 2028.2 766.5 2026 785C2023.8 803.5 2021.8 822.5 2019.8 840C2017.8 857.5 2015.7 873.5 2014 890C2012.3 906.5 2011.2 921.5 2009.7 939C2008.2 956.5 2006.5 976.5 2005 995C2003.5 1013.5 2002.4 1027.5 2000.4 1050C1998.4 1072.5 1995.4 1103.7 1993 1130C1990.6 1156.3 1987.2 1195 1986 1208L2214 1208C2214.5 1195 2215.6 1156.3 2217 1130C2218.4 1103.7 2220.9 1072.5 2222.4 1050C2223.9 1027.5 2224.7 1013.5 2226 995C2227.3 976.5 2229 956.5 2230.2 939C2231.4 921.5 2231.9 906.5 2233 890C2234.1 873.5 2235.2 857.5 2237 840C2238.8 822.5 2241.5 803.5 2244 785C2246.5 766.5 2249.3 747.3 2252 729C2254.7 710.7 2256.9 693.2 2260 675C2263.1 656.8 2267.1 637.5 2270.6 620C2274.1 602.5 2276.6 587.7 2281 570C2285.4 552.3 2290.5 531.3 2297 514C2303.5 496.7 2312.5 481.8 2320 466C2327.5 450.2 2338.3 426.8 2342 419Z" fill="none" stroke="#d88e88" stroke-width="6" filter="url(#b3)" opacity="0.6"/><path d="M2140.8 419C2137 426.8 2125.4 450.2 2118 466C2110.6 481.8 2102.9 496.7 2096.5 514C2090.1 531.3 2084.7 552.3 2079.5 570C2074.3 587.7 2069.9 602.5 2065.6 620C2061.3 637.5 2057.2 656.8 2053.5 675C2049.8 693.2 2046 710.7 2043.1 729C2040.2 747.3 2038.1 766.5 2036 785C2033.9 803.5 2032.2 822.5 2030.2 840C2028.3 857.5 2026.2 873.5 2024.5 890C2022.8 906.5 2021.3 921.5 2019.8 939C2018.3 956.5 2016.9 976.5 2015.5 995C2014.1 1013.5 2013.2 1027.5 2011.2 1050C2009.3 1072.5 2006.4 1103.7 2004 1130C2001.6 1156.3 1998.2 1195 1997 1208" fill="none" stroke="#fae4de" stroke-width="9" stroke-linecap="round" filter="url(#b3)" opacity="0.95"/><path d="M2331 419C2327.3 426.8 2316.3 450.2 2309 466C2301.7 481.8 2293.2 496.7 2286.9 514C2280.6 531.3 2275.5 552.3 2271 570C2266.5 587.7 2263.2 602.5 2259.7 620C2256.2 637.5 2252.8 656.8 2250 675C2247.2 693.2 2245.4 710.7 2242.7 729C2239.9 747.3 2236.2 766.5 2233.5 785C2230.8 803.5 2228.1 822.5 2226.2 840C2224.4 857.5 2223.7 873.5 2222.5 890C2221.3 906.5 2220.5 921.5 2219.3 939C2218.1 956.5 2216.7 976.5 2215.5 995C2214.3 1013.5 2213.6 1027.5 2212.3 1050C2211 1072.5 2208.9 1103.7 2207.5 1130C2206.1 1156.3 2204.6 1195 2204 1208" fill="none" stroke="#fae4de" stroke-width="8" stroke-linecap="round" filter="url(#b3)" opacity="0.85"/></g><clipPath id="lc40"><path d="M2152.5 419C2148.8 426.8 2137.2 450.2 2130 466C2122.8 481.8 2115.5 496.7 2109 514C2102.5 531.3 2096.4 552.3 2091 570C2085.6 587.7 2081 602.5 2076.5 620C2072 637.5 2067.9 656.8 2064 675C2060.1 693.2 2056.2 710.7 2053.2 729C2050.2 747.3 2048.1 766.5 2046 785C2043.9 803.5 2042.5 822.5 2040.7 840C2038.9 857.5 2036.8 873.5 2035 890C2033.2 906.5 2031.4 921.5 2029.9 939C2028.4 956.5 2027.3 976.5 2026 995C2024.7 1013.5 2023.9 1027.5 2022.1 1050C2020.3 1072.5 2017.3 1103.7 2015 1130C2012.7 1156.3 2009.2 1195 2008 1208L2194 1208C2194.7 1195 2196.6 1156.3 2198 1130C2199.4 1103.7 2201 1072.5 2202.2 1050C2203.4 1027.5 2204 1013.5 2205 995C2206 976.5 2207.2 956.5 2208.4 939C2209.6 921.5 2210.8 906.5 2212 890C2213.2 873.5 2213.7 857.5 2215.5 840C2217.3 822.5 2220 803.5 2223 785C2226 766.5 2230.5 747.3 2233.3 729C2236.1 710.7 2237.4 693.2 2240 675C2242.6 656.8 2245.3 637.5 2248.8 620C2252.3 602.5 2256.3 587.7 2261 570C2265.7 552.3 2270.6 531.3 2276.8 514C2283 496.7 2290.8 481.8 2298 466C2305.2 450.2 2316.3 426.8 2320 419Z"/></clipPath><g clip-path="url(#lc40)"><clipPath id="c31"><path d="M1960 400 L2360 400 L2360 700 L1960 700Z"/></clipPath><path d="M1960 400 L2360 400 L2360 700 L1960 700Z" fill="#e6a6a4"/><g clip-path="url(#c31)"><path d="M2152.5 419C2148.8 426.8 2137.2 450.2 2130 466C2122.8 481.8 2115.5 496.7 2109 514C2102.5 531.3 2096.4 552.3 2091 570C2085.6 587.7 2081 602.5 2076.5 620C2072 637.5 2067.9 656.8 2064 675C2060.1 693.2 2056.2 710.7 2053.2 729C2050.2 747.3 2048.1 766.5 2046 785C2043.9 803.5 2042.5 822.5 2040.7 840C2038.9 857.5 2036.8 873.5 2035 890C2033.2 906.5 2031.4 921.5 2029.9 939C2028.4 956.5 2027.3 976.5 2026 995C2024.7 1013.5 2023.9 1027.5 2022.1 1050C2020.3 1072.5 2017.3 1103.7 2015 1130C2012.7 1156.3 2009.2 1195 2008 1208" fill="none" stroke="#c87072" stroke-width="44" filter="url(#b10)" opacity="0.8"/><path d="M2320 419C2316.3 426.8 2305.2 450.2 2298 466C2290.8 481.8 2283 496.7 2276.8 514C2270.6 531.3 2265.7 552.3 2261 570C2256.3 587.7 2252.3 602.5 2248.8 620C2245.3 637.5 2242.6 656.8 2240 675C2237.4 693.2 2236.1 710.7 2233.3 729C2230.5 747.3 2226 766.5 2223 785C2220 803.5 2217.3 822.5 2215.5 840C2213.7 857.5 2213.2 873.5 2212 890C2210.8 906.5 2209.6 921.5 2208.4 939C2207.2 956.5 2206 976.5 2205 995C2204 1013.5 2203.4 1027.5 2202.2 1050C2201 1072.5 2199.4 1103.7 2198 1130C2196.6 1156.3 2194.7 1195 2194 1208" fill="none" stroke="#c87072" stroke-width="44" filter="url(#b10)" opacity="0.8"/><path d="M2225 420C2219.2 433.3 2200.8 470 2190 500C2179.2 530 2165 583.3 2160 600" fill="none" stroke="#f6d4cc" stroke-width="30" stroke-linecap="round" filter="url(#b12)" opacity="0.85"/><path d="M1960 400 L2360 400 L2360 700 L1960 700Z" fill="url(#st1)" mask="url(#m32)"/></g><clipPath id="c33"><path d="M2070 620C2072.9 613.9 2079.8 592 2087.3 583.6C2094.9 575.2 2105.5 572.7 2115.3 569.6C2125.1 566.5 2136 565 2146.3 565C2156.7 565 2167.1 566.5 2177.4 569.6C2187.8 572.7 2199.1 578.4 2208.4 583.6C2217.7 588.8 2226.8 595.3 2233.3 600.7C2239.8 606.1 2242.9 609.7 2247.3 616.2C2251.8 622.8 2257.9 636 2260 640L2260 1000 L1990 1000Z"/></clipPath><path d="M2070 620C2072.9 613.9 2079.8 592 2087.3 583.6C2094.9 575.2 2105.5 572.7 2115.3 569.6C2125.1 566.5 2136 565 2146.3 565C2156.7 565 2167.1 566.5 2177.4 569.6C2187.8 572.7 2199.1 578.4 2208.4 583.6C2217.7 588.8 2226.8 595.3 2233.3 600.7C2239.8 606.1 2242.9 609.7 2247.3 616.2C2251.8 622.8 2257.9 636 2260 640L2260 1000 L1990 1000Z" fill="#f3d4a0"/><g clip-path="url(#c33)"><path d="M2152.5 419C2148.8 426.8 2137.2 450.2 2130 466C2122.8 481.8 2115.5 496.7 2109 514C2102.5 531.3 2096.4 552.3 2091 570C2085.6 587.7 2081 602.5 2076.5 620C2072 637.5 2067.9 656.8 2064 675C2060.1 693.2 2056.2 710.7 2053.2 729C2050.2 747.3 2048.1 766.5 2046 785C2043.9 803.5 2042.5 822.5 2040.7 840C2038.9 857.5 2036.8 873.5 2035 890C2033.2 906.5 2031.4 921.5 2029.9 939C2028.4 956.5 2027.3 976.5 2026 995C2024.7 1013.5 2023.9 1027.5 2022.1 1050C2020.3 1072.5 2017.3 1103.7 2015 1130C2012.7 1156.3 2009.2 1195 2008 1208" fill="none" stroke="#dcae6c" stroke-width="24" filter="url(#b8)" opacity="0.7"/><path d="M2320 419C2316.3 426.8 2305.2 450.2 2298 466C2290.8 481.8 2283 496.7 2276.8 514C2270.6 531.3 2265.7 552.3 2261 570C2256.3 587.7 2252.3 602.5 2248.8 620C2245.3 637.5 2242.6 656.8 2240 675C2237.4 693.2 2236.1 710.7 2233.3 729C2230.5 747.3 2226 766.5 2223 785C2220 803.5 2217.3 822.5 2215.5 840C2213.7 857.5 2213.2 873.5 2212 890C2210.8 906.5 2209.6 921.5 2208.4 939C2207.2 956.5 2206 976.5 2205 995C2204 1013.5 2203.4 1027.5 2202.2 1050C2201 1072.5 2199.4 1103.7 2198 1130C2196.6 1156.3 2194.7 1195 2194 1208" fill="none" stroke="#dcae6c" stroke-width="24" filter="url(#b8)" opacity="0.7"/><path d="M2070 620C2072.9 613.9 2079.8 592 2087.3 583.6C2094.9 575.2 2105.5 572.7 2115.3 569.6C2125.1 566.5 2136 565 2146.3 565C2156.7 565 2167.1 566.5 2177.4 569.6C2187.8 572.7 2199.1 578.4 2208.4 583.6C2217.7 588.8 2226.8 595.3 2233.3 600.7C2239.8 606.1 2242.9 609.7 2247.3 616.2C2251.8 622.8 2257.9 636 2260 640" fill="none" stroke="#dcae6c" stroke-width="24" filter="url(#b8)" opacity="0.7"/><path d="M2082 640C2079.7 660 2072.7 716.7 2068 760C2063.3 803.3 2056.3 876.7 2054 900" fill="none" stroke="#fbe9c8" stroke-width="10" stroke-linecap="round" filter="url(#b9)" opacity="0.7"/><path d="M2070 620C2072.9 613.9 2079.8 592 2087.3 583.6C2094.9 575.2 2105.5 572.7 2115.3 569.6C2125.1 566.5 2136 565 2146.3 565C2156.7 565 2167.1 566.5 2177.4 569.6C2187.8 572.7 2199.1 578.4 2208.4 583.6C2217.7 588.8 2226.8 595.3 2233.3 600.7C2239.8 606.1 2242.9 609.7 2247.3 616.2C2251.8 622.8 2257.9 636 2260 640L2260 1000 L1990 1000Z" fill="url(#st2)" mask="url(#m34)"/></g><path d="M2070 620C2072.9 613.9 2079.8 592 2087.3 583.6C2094.9 575.2 2105.5 572.7 2115.3 569.6C2125.1 566.5 2136 565 2146.3 565C2156.7 565 2167.1 566.5 2177.4 569.6C2187.8 572.7 2199.1 578.4 2208.4 583.6C2217.7 588.8 2226.8 595.3 2233.3 600.7C2239.8 606.1 2242.9 609.7 2247.3 616.2C2251.8 622.8 2257.9 636 2260 640L2260 1000 L1990 1000Z" fill="none" stroke="#151515" stroke-width="2.0" stroke-linejoin="round"/><g filter="url(#b6)" opacity="0.85" fill="#fbe8c6"><ellipse cx="2232" cy="760" rx="6" ry="120"/></g><clipPath id="c35"><path d="M2100 598C2100.5 601.7 2102.9 609.7 2102.9 620C2102.9 630.3 2101.1 647 2100 660C2098.9 673 2097.9 684.7 2096.6 698C2095.3 711.3 2093.6 727.2 2092 740C2090.4 752.8 2089.1 763.3 2087.3 775C2085.5 786.7 2083.1 799.2 2081 810C2078.9 820.8 2077.1 828.8 2075 840C2072.9 851.2 2071.3 863.2 2068.7 877C2066.1 890.8 2061.5 913.2 2059.4 923C2057.3 932.8 2056.8 933.5 2056.3 935.6L2183.6 954.2C2183.3 949 2182 935.9 2182 923C2182 910.1 2182.8 890.8 2183.6 877C2184.4 863.2 2185.5 851.2 2186.7 840C2187.9 828.8 2189.4 820.8 2191 810C2192.6 799.2 2194.5 786.7 2196 775C2197.5 763.3 2198.4 752.8 2200 740C2201.6 727.2 2202.9 712.8 2205.3 698C2207.8 683.2 2211.8 661.7 2214.7 651C2217.6 640.3 2220.4 638.8 2223 634C2225.6 629.2 2228.8 624 2230 622C2225 618.7 2211.7 606.7 2200 602C2188.3 597.3 2173.3 595.3 2160 594C2146.7 592.7 2130 593.3 2120 594C2110 594.7 2103.3 597.3 2100 598Z"/></clipPath><path d="M2100 598C2100.5 601.7 2102.9 609.7 2102.9 620C2102.9 630.3 2101.1 647 2100 660C2098.9 673 2097.9 684.7 2096.6 698C2095.3 711.3 2093.6 727.2 2092 740C2090.4 752.8 2089.1 763.3 2087.3 775C2085.5 786.7 2083.1 799.2 2081 810C2078.9 820.8 2077.1 828.8 2075 840C2072.9 851.2 2071.3 863.2 2068.7 877C2066.1 890.8 2061.5 913.2 2059.4 923C2057.3 932.8 2056.8 933.5 2056.3 935.6L2183.6 954.2C2183.3 949 2182 935.9 2182 923C2182 910.1 2182.8 890.8 2183.6 877C2184.4 863.2 2185.5 851.2 2186.7 840C2187.9 828.8 2189.4 820.8 2191 810C2192.6 799.2 2194.5 786.7 2196 775C2197.5 763.3 2198.4 752.8 2200 740C2201.6 727.2 2202.9 712.8 2205.3 698C2207.8 683.2 2211.8 661.7 2214.7 651C2217.6 640.3 2220.4 638.8 2223 634C2225.6 629.2 2228.8 624 2230 622C2225 618.7 2211.7 606.7 2200 602C2188.3 597.3 2173.3 595.3 2160 594C2146.7 592.7 2130 593.3 2120 594C2110 594.7 2103.3 597.3 2100 598Z" fill="#e8c686"/><g clip-path="url(#c35)"><path d="M2100 598C2100.5 601.7 2102.9 609.7 2102.9 620C2102.9 630.3 2101.1 647 2100 660C2098.9 673 2097.9 684.7 2096.6 698C2095.3 711.3 2093.6 727.2 2092 740C2090.4 752.8 2089.1 763.3 2087.3 775C2085.5 786.7 2083.1 799.2 2081 810C2078.9 820.8 2077.1 828.8 2075 840C2072.9 851.2 2071.3 863.2 2068.7 877C2066.1 890.8 2061.5 913.2 2059.4 923C2057.3 932.8 2056.8 933.5 2056.3 935.6L2183.6 954.2C2183.3 949 2182 935.9 2182 923C2182 910.1 2182.8 890.8 2183.6 877C2184.4 863.2 2185.5 851.2 2186.7 840C2187.9 828.8 2189.4 820.8 2191 810C2192.6 799.2 2194.5 786.7 2196 775C2197.5 763.3 2198.4 752.8 2200 740C2201.6 727.2 2202.9 712.8 2205.3 698C2207.8 683.2 2211.8 661.7 2214.7 651C2217.6 640.3 2220.4 638.8 2223 634C2225.6 629.2 2228.8 624 2230 622C2225 618.7 2211.7 606.7 2200 602C2188.3 597.3 2173.3 595.3 2160 594C2146.7 592.7 2130 593.3 2120 594C2110 594.7 2103.3 597.3 2100 598Z" fill="none" stroke="#b8904c" stroke-width="26" filter="url(#b8)" opacity="0.65"/><path d="M2150 610C2149.2 625 2147.5 668.3 2145 700C2142.5 731.7 2139.2 761.7 2135 800C2130.8 838.3 2122.5 908.3 2120 930" fill="none" stroke="#faeacc" stroke-width="26" stroke-linecap="round" filter="url(#b9)" opacity="0.9"/><path d="M2100 598C2100.5 601.7 2102.9 609.7 2102.9 620C2102.9 630.3 2101.1 647 2100 660C2098.9 673 2097.9 684.7 2096.6 698C2095.3 711.3 2093.6 727.2 2092 740C2090.4 752.8 2089.1 763.3 2087.3 775C2085.5 786.7 2083.1 799.2 2081 810C2078.9 820.8 2077.1 828.8 2075 840C2072.9 851.2 2071.3 863.2 2068.7 877C2066.1 890.8 2061.5 913.2 2059.4 923C2057.3 932.8 2056.8 933.5 2056.3 935.6L2183.6 954.2C2183.3 949 2182 935.9 2182 923C2182 910.1 2182.8 890.8 2183.6 877C2184.4 863.2 2185.5 851.2 2186.7 840C2187.9 828.8 2189.4 820.8 2191 810C2192.6 799.2 2194.5 786.7 2196 775C2197.5 763.3 2198.4 752.8 2200 740C2201.6 727.2 2202.9 712.8 2205.3 698C2207.8 683.2 2211.8 661.7 2214.7 651C2217.6 640.3 2220.4 638.8 2223 634C2225.6 629.2 2228.8 624 2230 622C2225 618.7 2211.7 606.7 2200 602C2188.3 597.3 2173.3 595.3 2160 594C2146.7 592.7 2130 593.3 2120 594C2110 594.7 2103.3 597.3 2100 598Z" fill="url(#st2)" mask="url(#m36)"/></g><path d="M2100 598C2100.5 601.7 2102.9 609.7 2102.9 620C2102.9 630.3 2101.1 647 2100 660C2098.9 673 2097.9 684.7 2096.6 698C2095.3 711.3 2093.6 727.2 2092 740C2090.4 752.8 2089.1 763.3 2087.3 775C2085.5 786.7 2083.1 799.2 2081 810C2078.9 820.8 2077.1 828.8 2075 840C2072.9 851.2 2071.3 863.2 2068.7 877C2066.1 890.8 2061.5 913.2 2059.4 923C2057.3 932.8 2056.8 933.5 2056.3 935.6L2183.6 954.2C2183.3 949 2182 935.9 2182 923C2182 910.1 2182.8 890.8 2183.6 877C2184.4 863.2 2185.5 851.2 2186.7 840C2187.9 828.8 2189.4 820.8 2191 810C2192.6 799.2 2194.5 786.7 2196 775C2197.5 763.3 2198.4 752.8 2200 740C2201.6 727.2 2202.9 712.8 2205.3 698C2207.8 683.2 2211.8 661.7 2214.7 651C2217.6 640.3 2220.4 638.8 2223 634C2225.6 629.2 2228.8 624 2230 622C2225 618.7 2211.7 606.7 2200 602C2188.3 597.3 2173.3 595.3 2160 594C2146.7 592.7 2130 593.3 2120 594C2110 594.7 2103.3 597.3 2100 598Z" fill="none" stroke="#151515" stroke-width="2.2" stroke-linejoin="round"/><clipPath id="c37"><path d="M2015 975C2017.5 972.8 2023.5 968 2029.9 962C2036.3 956 2044.1 943.9 2053.2 938.7C2062.2 933.5 2073.8 932 2084.2 931C2094.5 930 2105 931.2 2115.3 932.5C2125.7 933.8 2136 935.6 2146.3 938.7C2156.7 941.8 2169.6 945.8 2177.4 951C2185.2 956.2 2188.6 963.3 2193 969.8C2197.4 976.3 2200.1 985 2203.8 990C2207.5 995 2213.1 998.3 2215 1000L2220 1215 L1980 1215Z"/></clipPath><path d="M2015 975C2017.5 972.8 2023.5 968 2029.9 962C2036.3 956 2044.1 943.9 2053.2 938.7C2062.2 933.5 2073.8 932 2084.2 931C2094.5 930 2105 931.2 2115.3 932.5C2125.7 933.8 2136 935.6 2146.3 938.7C2156.7 941.8 2169.6 945.8 2177.4 951C2185.2 956.2 2188.6 963.3 2193 969.8C2197.4 976.3 2200.1 985 2203.8 990C2207.5 995 2213.1 998.3 2215 1000L2220 1215 L1980 1215Z" fill="#e6a4a2"/><g clip-path="url(#c37)"><path d="M2152.5 419C2148.8 426.8 2137.2 450.2 2130 466C2122.8 481.8 2115.5 496.7 2109 514C2102.5 531.3 2096.4 552.3 2091 570C2085.6 587.7 2081 602.5 2076.5 620C2072 637.5 2067.9 656.8 2064 675C2060.1 693.2 2056.2 710.7 2053.2 729C2050.2 747.3 2048.1 766.5 2046 785C2043.9 803.5 2042.5 822.5 2040.7 840C2038.9 857.5 2036.8 873.5 2035 890C2033.2 906.5 2031.4 921.5 2029.9 939C2028.4 956.5 2027.3 976.5 2026 995C2024.7 1013.5 2023.9 1027.5 2022.1 1050C2020.3 1072.5 2017.3 1103.7 2015 1130C2012.7 1156.3 2009.2 1195 2008 1208" fill="none" stroke="#c86e70" stroke-width="44" filter="url(#b10)" opacity="0.8"/><path d="M2320 419C2316.3 426.8 2305.2 450.2 2298 466C2290.8 481.8 2283 496.7 2276.8 514C2270.6 531.3 2265.7 552.3 2261 570C2256.3 587.7 2252.3 602.5 2248.8 620C2245.3 637.5 2242.6 656.8 2240 675C2237.4 693.2 2236.1 710.7 2233.3 729C2230.5 747.3 2226 766.5 2223 785C2220 803.5 2217.3 822.5 2215.5 840C2213.7 857.5 2213.2 873.5 2212 890C2210.8 906.5 2209.6 921.5 2208.4 939C2207.2 956.5 2206 976.5 2205 995C2204 1013.5 2203.4 1027.5 2202.2 1050C2201 1072.5 2199.4 1103.7 2198 1130C2196.6 1156.3 2194.7 1195 2194 1208" fill="none" stroke="#c86e70" stroke-width="44" filter="url(#b10)" opacity="0.8"/><path d="M2110 960C2108.3 980 2102.5 1037.5 2100 1080C2097.5 1122.5 2095.8 1192.5 2095 1215" fill="none" stroke="#f6d2ca" stroke-width="30" stroke-linecap="round" filter="url(#b12)" opacity="0.85"/><path d="M2015 975C2017.5 972.8 2023.5 968 2029.9 962C2036.3 956 2044.1 943.9 2053.2 938.7C2062.2 933.5 2073.8 932 2084.2 931C2094.5 930 2105 931.2 2115.3 932.5C2125.7 933.8 2136 935.6 2146.3 938.7C2156.7 941.8 2169.6 945.8 2177.4 951C2185.2 956.2 2188.6 963.3 2193 969.8C2197.4 976.3 2200.1 985 2203.8 990C2207.5 995 2213.1 998.3 2215 1000L2220 1215 L1980 1215Z" fill="url(#st1)" mask="url(#m38)"/></g><path d="M2029.9 962C2033.8 958.1 2044.1 943.9 2053.2 938.7C2062.2 933.5 2073.8 932 2084.2 931C2094.5 930 2105 931.2 2115.3 932.5C2125.7 933.8 2136 935.6 2146.3 938.7C2156.7 941.8 2169.6 945.8 2177.4 951C2185.2 956.2 2188.6 963.3 2193 969.8C2197.4 976.3 2202 986.6 2203.8 990" fill="none" stroke="#151515" stroke-width="2.2" stroke-linejoin="round" stroke-linecap="round" /></g><path d="M2129 419C2125.2 426.8 2113.5 450.2 2106 466C2098.5 481.8 2090.3 496.7 2084 514C2077.7 531.3 2072.9 552.3 2068 570C2063.1 587.7 2058.9 602.5 2054.7 620C2050.5 637.5 2046.6 656.8 2043 675C2039.4 693.2 2035.8 710.7 2033 729C2030.2 747.3 2028.2 766.5 2026 785C2023.8 803.5 2021.8 822.5 2019.8 840C2017.8 857.5 2015.7 873.5 2014 890C2012.3 906.5 2011.2 921.5 2009.7 939C2008.2 956.5 2006.5 976.5 2005 995C2003.5 1013.5 2002.4 1027.5 2000.4 1050C1998.4 1072.5 1995.4 1103.7 1993 1130C1990.6 1156.3 1987.2 1195 1986 1208" fill="none" stroke="#151515" stroke-width="2.4" stroke-linejoin="round" stroke-linecap="round" /><path d="M2342 419C2338.3 426.8 2327.5 450.2 2320 466C2312.5 481.8 2303.5 496.7 2297 514C2290.5 531.3 2285.4 552.3 2281 570C2276.6 587.7 2274.1 602.5 2270.6 620C2267.1 637.5 2263.1 656.8 2260 675C2256.9 693.2 2254.7 710.7 2252 729C2249.3 747.3 2246.5 766.5 2244 785C2241.5 803.5 2238.8 822.5 2237 840C2235.2 857.5 2234.1 873.5 2233 890C2231.9 906.5 2231.4 921.5 2230.2 939C2229 956.5 2227.3 976.5 2226 995C2224.7 1013.5 2223.9 1027.5 2222.4 1050C2220.9 1072.5 2218.4 1103.7 2217 1130C2215.6 1156.3 2214.5 1195 2214 1208" fill="none" stroke="#151515" stroke-width="2.4" stroke-linejoin="round" stroke-linecap="round" /><path d="M2152.5 419C2148.8 426.8 2137.2 450.2 2130 466C2122.8 481.8 2115.5 496.7 2109 514C2102.5 531.3 2096.4 552.3 2091 570C2085.6 587.7 2081 602.5 2076.5 620C2072 637.5 2067.9 656.8 2064 675C2060.1 693.2 2056.2 710.7 2053.2 729C2050.2 747.3 2048.1 766.5 2046 785C2043.9 803.5 2042.5 822.5 2040.7 840C2038.9 857.5 2036.8 873.5 2035 890C2033.2 906.5 2031.4 921.5 2029.9 939C2028.4 956.5 2027.3 976.5 2026 995C2024.7 1013.5 2023.9 1027.5 2022.1 1050C2020.3 1072.5 2017.3 1103.7 2015 1130C2012.7 1156.3 2009.2 1195 2008 1208" fill="none" stroke="#151515" stroke-width="2.2" stroke-linejoin="round" stroke-linecap="round" /><path d="M2320 419C2316.3 426.8 2305.2 450.2 2298 466C2290.8 481.8 2283 496.7 2276.8 514C2270.6 531.3 2265.7 552.3 2261 570C2256.3 587.7 2252.3 602.5 2248.8 620C2245.3 637.5 2242.6 656.8 2240 675C2237.4 693.2 2236.1 710.7 2233.3 729C2230.5 747.3 2226 766.5 2223 785C2220 803.5 2217.3 822.5 2215.5 840C2213.7 857.5 2213.2 873.5 2212 890C2210.8 906.5 2209.6 921.5 2208.4 939C2207.2 956.5 2206 976.5 2205 995C2204 1013.5 2203.4 1027.5 2202.2 1050C2201 1072.5 2199.4 1103.7 2198 1130C2196.6 1156.3 2194.7 1195 2194 1208" fill="none" stroke="#151515" stroke-width="2.2" stroke-linejoin="round" stroke-linecap="round" /><clipPath id="c41"><path d="M420 790C436 788 454 770.1 470 765C486 759.9 522.7 752.4 540 752C557.3 751.6 588.7 754.9 600 762C611.3 769.1 620.2 793.3 625 805C629.8 816.7 631.8 837.1 636 850C640.2 862.9 651.5 889.6 656.7 901.7C661.9 913.8 670.3 928.4 674.8 940.4C679.3 952.4 686.9 978.2 690.3 992C693.7 1005.8 698.5 1030 700.6 1043.8C702.7 1057.6 705.8 1082.4 705.8 1095.5C705.8 1108.6 703 1131.7 700.6 1142C698.2 1152.3 691.8 1166.5 687.7 1173C683.6 1179.5 675.5 1187.2 669.6 1191C663.7 1194.8 652.4 1199.3 643.8 1201.4C635.2 1203.5 615.3 1205.9 605 1206.6C594.7 1207.3 578.4 1207.3 566.3 1206.6C554.2 1205.9 530.1 1203.5 514.6 1201.4C499.1 1199.3 465.1 1193.7 450 1191C434.9 1188.3 412.9 1185 401.6 1181.5C390.3 1178 374.7 1170.3 365 1165C355.3 1159.7 338.7 1148.4 329 1141.6C319.3 1134.8 301.6 1122.7 292.6 1114C283.6 1105.3 269.1 1084.9 261.8 1076C254.5 1067.1 243.6 1054.5 238 1047C232.4 1039.5 222.8 1030.3 220 1020C217.2 1009.7 217.2 982.3 216.8 970C216.4 957.7 216.2 939.2 216.8 928C217.4 916.8 219.6 897.1 221 886C222.4 874.9 224.8 855.5 227 845C229.2 834.5 233.8 814.9 237.7 807C241.6 799.1 241.6 789.6 256.6 786C271.6 782.4 328.2 779.5 350 780C371.8 780.5 404 792 420 790Z"/></clipPath><path d="M420 790C436 788 454 770.1 470 765C486 759.9 522.7 752.4 540 752C557.3 751.6 588.7 754.9 600 762C611.3 769.1 620.2 793.3 625 805C629.8 816.7 631.8 837.1 636 850C640.2 862.9 651.5 889.6 656.7 901.7C661.9 913.8 670.3 928.4 674.8 940.4C679.3 952.4 686.9 978.2 690.3 992C693.7 1005.8 698.5 1030 700.6 1043.8C702.7 1057.6 705.8 1082.4 705.8 1095.5C705.8 1108.6 703 1131.7 700.6 1142C698.2 1152.3 691.8 1166.5 687.7 1173C683.6 1179.5 675.5 1187.2 669.6 1191C663.7 1194.8 652.4 1199.3 643.8 1201.4C635.2 1203.5 615.3 1205.9 605 1206.6C594.7 1207.3 578.4 1207.3 566.3 1206.6C554.2 1205.9 530.1 1203.5 514.6 1201.4C499.1 1199.3 465.1 1193.7 450 1191C434.9 1188.3 412.9 1185 401.6 1181.5C390.3 1178 374.7 1170.3 365 1165C355.3 1159.7 338.7 1148.4 329 1141.6C319.3 1134.8 301.6 1122.7 292.6 1114C283.6 1105.3 269.1 1084.9 261.8 1076C254.5 1067.1 243.6 1054.5 238 1047C232.4 1039.5 222.8 1030.3 220 1020C217.2 1009.7 217.2 982.3 216.8 970C216.4 957.7 216.2 939.2 216.8 928C217.4 916.8 219.6 897.1 221 886C222.4 874.9 224.8 855.5 227 845C229.2 834.5 233.8 814.9 237.7 807C241.6 799.1 241.6 789.6 256.6 786C271.6 782.4 328.2 779.5 350 780C371.8 780.5 404 792 420 790Z" fill="#c99486"/><g clip-path="url(#c41)"><path d="M640 860C646.7 876.7 669.3 923.3 680 960C690.7 996.7 702.3 1045 704 1080C705.7 1115 704 1149.2 690 1170C676 1190.8 651.7 1200 620 1205C588.3 1210 536.7 1204.2 500 1200C463.3 1195.8 416.7 1183.3 400 1180" fill="none" stroke="#9c6a60" stroke-width="36" filter="url(#b12)" opacity="0.55"/><g filter="url(#b12)" opacity="0.75"><g fill="#e6c2b4"><ellipse cx="470" cy="885" rx="55" ry="26"/><ellipse cx="515" cy="858" rx="75" ry="22" fill="#f2dcd4"/><ellipse cx="430" cy="1095" rx="75" ry="26" transform="rotate(18 430 1095)"/><ellipse cx="515" cy="1000" rx="40" ry="34"/><ellipse cx="655" cy="1110" rx="22" ry="45"/><ellipse cx="560" cy="1150" rx="40" ry="18"/><ellipse cx="360" cy="1000" rx="30" ry="20"/></g></g><g filter="url(#b12)" opacity="0.45"><g fill="#a8776c"><ellipse cx="545" cy="925" rx="45" ry="28"/><ellipse cx="480" cy="1160" rx="90" ry="18" transform="rotate(8 480 1160)"/><ellipse cx="440" cy="1020" rx="40" ry="14"/><ellipse cx="600" cy="1060" rx="30" ry="40"/></g></g><path d="M420 790C436 788 454 770.1 470 765C486 759.9 522.7 752.4 540 752C557.3 751.6 588.7 754.9 600 762C611.3 769.1 620.2 793.3 625 805C629.8 816.7 631.8 837.1 636 850C640.2 862.9 651.5 889.6 656.7 901.7C661.9 913.8 670.3 928.4 674.8 940.4C679.3 952.4 686.9 978.2 690.3 992C693.7 1005.8 698.5 1030 700.6 1043.8C702.7 1057.6 705.8 1082.4 705.8 1095.5C705.8 1108.6 703 1131.7 700.6 1142C698.2 1152.3 691.8 1166.5 687.7 1173C683.6 1179.5 675.5 1187.2 669.6 1191C663.7 1194.8 652.4 1199.3 643.8 1201.4C635.2 1203.5 615.3 1205.9 605 1206.6C594.7 1207.3 578.4 1207.3 566.3 1206.6C554.2 1205.9 530.1 1203.5 514.6 1201.4C499.1 1199.3 465.1 1193.7 450 1191C434.9 1188.3 412.9 1185 401.6 1181.5C390.3 1178 374.7 1170.3 365 1165C355.3 1159.7 338.7 1148.4 329 1141.6C319.3 1134.8 301.6 1122.7 292.6 1114C283.6 1105.3 269.1 1084.9 261.8 1076C254.5 1067.1 243.6 1054.5 238 1047C232.4 1039.5 222.8 1030.3 220 1020C217.2 1009.7 217.2 982.3 216.8 970C216.4 957.7 216.2 939.2 216.8 928C217.4 916.8 219.6 897.1 221 886C222.4 874.9 224.8 855.5 227 845C229.2 834.5 233.8 814.9 237.7 807C241.6 799.1 241.6 789.6 256.6 786C271.6 782.4 328.2 779.5 350 780C371.8 780.5 404 792 420 790Z" fill="url(#st2)" mask="url(#m42)"/></g><path d="M625 805C626.5 811 631.8 837.1 636 850C640.2 862.9 651.5 889.6 656.7 901.7C661.9 913.8 670.3 928.4 674.8 940.4C679.3 952.4 686.9 978.2 690.3 992C693.7 1005.8 698.5 1030 700.6 1043.8C702.7 1057.6 705.8 1082.4 705.8 1095.5C705.8 1108.6 703 1131.7 700.6 1142C698.2 1152.3 691.8 1166.5 687.7 1173C683.6 1179.5 675.5 1187.2 669.6 1191C663.7 1194.8 652.4 1199.3 643.8 1201.4C635.2 1203.5 615.3 1205.9 605 1206.6C594.7 1207.3 578.4 1207.3 566.3 1206.6C554.2 1205.9 530.1 1203.5 514.6 1201.4C499.1 1199.3 465.1 1193.7 450 1191C434.9 1188.3 412.9 1185 401.6 1181.5C390.3 1178 374.7 1170.3 365 1165C355.3 1159.7 338.7 1148.4 329 1141.6C319.3 1134.8 301.6 1122.7 292.6 1114C283.6 1105.3 269.1 1084.9 261.8 1076C254.5 1067.1 243.6 1054.5 238 1047C232.4 1039.5 222.8 1030.3 220 1020C217.2 1009.7 217.2 982.3 216.8 970C216.4 957.7 216.2 939.2 216.8 928C217.4 916.8 219.6 897.1 221 886C222.4 874.9 224.8 855.5 227 845C229.2 834.5 233.8 814.9 237.7 807C241.6 799.1 241.6 789.6 256.6 786C271.6 782.4 337.5 780.8 350 780" fill="none" stroke="#151515" stroke-width="2.6" stroke-linejoin="round" stroke-linecap="round" /><path d="M414.3 852.2 L413.9 854.2 L413.3 856.8 L412.7 859.8 L412.0 863.2 L411.2 866.7 L410.5 870.3 L409.6 873.8 L408.8 877.0 L408.1 879.8 L407.3 882.0 L406.7 883.9 L406.0 885.6 L405.3 887.0 L404.7 888.3 L404.0 889.4 L403.3 890.5 L402.6 891.6 L401.7 892.7 L400.8 893.9 L399.7 895.2 L398.7 896.3 L397.6 897.4 L396.3 898.6 L395.0 899.7 L393.5 900.9 L391.9 902.2 L390.2 903.4 L388.4 904.7 L386.6 906.1 L384.8 907.5 L383.1 908.7 L381.5 909.9 L379.7 911.1 L378.0 912.4 L376.1 913.6 L374.2 915.0 L372.3 916.3 L370.2 917.7 L368.2 919.2 L366.0 920.8 L363.9 922.5 L361.7 924.2 L359.5 925.9 L357.3 927.7 L355.0 929.6 L352.8 931.4 L350.5 933.2 L348.3 935.0 L346.2 936.8 L344.1 938.5 L342.1 940.1 L340.1 941.7 L338.1 943.2 L336.1 944.8 L334.1 946.4 L332.0 948.1 L330.0 949.8 L327.9 951.6 L325.8 953.5 L323.8 955.4 L321.8 957.5 L319.7 959.6 L317.7 961.7 L315.8 963.9 L313.8 966.2 L311.9 968.4 L310.1 970.6 L308.4 972.7 L306.8 974.8 L305.3 976.8 L303.8 978.7 L302.6 980.6 L301.4 982.4 L300.3 984.1 L299.3 985.8 L298.4 987.5 L297.6 989.1 L296.7 990.7 L295.8 992.3 L294.9 993.9 L294.0 995.6 L293.0 997.3 L292.0 999.1 L290.9 1001.0 L289.8 1002.9 L288.8 1004.9 L287.7 1007.0 L286.7 1009.2 L285.7 1011.5 L284.8 1013.8 L283.9 1016.3 L283.2 1018.8 L282.5 1021.3 L281.9 1023.9 L281.4 1026.4 L280.9 1028.9 L280.4 1031.3 L279.9 1033.7 L279.4 1036.1 L278.9 1038.3 L278.4 1040.6 L277.9 1042.9 L277.4 1045.2 L276.9 1047.6 L276.4 1049.9 L275.9 1052.2 L275.5 1054.4 L275.0 1056.6 L274.6 1058.7 L274.3 1060.8 L274.0 1062.8 L273.7 1064.9 L273.5 1066.9 L273.3 1068.8 L273.1 1070.7 L272.9 1072.4 L272.8 1073.9 L272.7 1075.3 L272.6 1076.4 L272.5 1077.3 L285.5 1078.7 L285.6 1077.8 L285.7 1076.6 L285.9 1075.2 L286.1 1073.7 L286.3 1072.1 L286.5 1070.4 L286.8 1068.6 L287.0 1066.8 L287.4 1065.0 L287.7 1063.2 L288.1 1061.4 L288.5 1059.4 L289.0 1057.4 L289.5 1055.2 L290.1 1053.1 L290.7 1050.8 L291.3 1048.6 L291.9 1046.3 L292.5 1044.0 L293.1 1041.7 L293.7 1039.3 L294.3 1036.9 L294.8 1034.5 L295.4 1032.1 L296.0 1029.8 L296.6 1027.5 L297.2 1025.3 L297.9 1023.2 L298.5 1021.2 L299.2 1019.4 L300.0 1017.6 L300.8 1015.9 L301.7 1014.2 L302.7 1012.5 L303.7 1010.8 L304.7 1009.1 L305.8 1007.4 L306.9 1005.6 L308.0 1003.9 L309.1 1002.1 L310.1 1000.4 L311.0 998.7 L311.9 997.2 L312.8 995.7 L313.7 994.3 L314.5 993.0 L315.4 991.6 L316.4 990.2 L317.5 988.8 L318.7 987.2 L320.2 985.5 L321.7 983.7 L323.4 981.8 L325.1 979.8 L326.9 977.8 L328.8 975.9 L330.7 973.9 L332.5 972.1 L334.4 970.3 L336.2 968.6 L338.0 967.0 L339.8 965.5 L341.6 964.1 L343.5 962.6 L345.4 961.2 L347.4 959.7 L349.5 958.3 L351.6 956.7 L353.7 955.2 L355.9 953.5 L358.1 951.9 L360.3 950.2 L362.6 948.5 L364.8 946.8 L367.1 945.1 L369.4 943.4 L371.6 941.7 L373.8 940.1 L375.9 938.6 L378.0 937.2 L379.9 935.8 L381.8 934.6 L383.7 933.3 L385.6 932.1 L387.5 930.9 L389.4 929.7 L391.4 928.5 L393.3 927.2 L395.3 925.9 L397.2 924.5 L399.0 923.3 L400.8 922.1 L402.6 920.8 L404.5 919.5 L406.4 918.1 L408.4 916.7 L410.3 915.2 L412.2 913.6 L414.1 911.8 L415.9 910.0 L417.4 908.3 L418.8 906.7 L420.2 905.0 L421.6 903.3 L422.9 901.4 L424.1 899.4 L425.3 897.3 L426.4 895.0 L427.5 892.6 L428.7 890.0 L429.8 886.9 L430.9 883.4 L432.0 879.7 L433.0 876.0 L434.0 872.2 L435.0 868.5 L435.8 865.1 L436.6 862.1 L437.2 859.7 L437.7 857.8Z" fill="#151515" stroke="#151515" stroke-width="5.2" stroke-linejoin="round"/><path d="M393.2 916.3 L393.9 917.2 L394.8 918.5 L395.9 920.1 L397.1 922.0 L398.5 924.0 L400.0 926.2 L401.6 928.4 L403.3 930.6 L405.1 932.7 L407.0 934.6 L408.7 936.3 L410.5 937.9 L412.4 939.5 L414.3 941.0 L416.3 942.6 L418.4 944.0 L420.6 945.4 L422.8 946.7 L425.2 947.9 L427.6 949.0 L430.1 949.9 L432.4 950.7 L434.9 951.4 L437.3 952.0 L439.8 952.5 L442.4 952.9 L445.2 953.3 L448.1 953.6 L451.2 953.9 L454.6 954.1 L458.4 954.3 L462.6 954.3 L467.1 954.2 L471.8 954.1 L476.6 954.0 L481.4 953.8 L486.0 953.7 L490.4 953.6 L494.3 953.6 L497.8 953.7 L500.9 954.0 L503.8 954.3 L506.6 954.7 L509.1 955.1 L511.4 955.6 L513.6 956.0 L515.5 956.5 L517.2 956.9 L518.6 957.2 L519.9 957.5 L520.1 956.5 L518.9 956.1 L517.5 955.6 L515.9 955.1 L514.0 954.4 L511.9 953.7 L509.6 952.9 L507.1 952.2 L504.3 951.5 L501.4 950.8 L498.2 950.3 L494.6 949.8 L490.6 949.3 L486.2 948.9 L481.5 948.5 L476.8 948.1 L472.0 947.8 L467.4 947.4 L463.0 946.9 L459.0 946.4 L455.4 945.9 L452.3 945.3 L449.4 944.8 L446.7 944.2 L444.3 943.6 L442.1 943.0 L440.0 942.3 L438.0 941.6 L436.1 940.8 L434.2 939.9 L432.4 939.0 L430.6 937.9 L428.9 936.8 L427.2 935.6 L425.6 934.3 L424.1 932.9 L422.6 931.5 L421.1 930.0 L419.7 928.5 L418.3 926.9 L417.0 925.4 L415.9 923.9 L414.7 922.2 L413.5 920.3 L412.4 918.2 L411.2 916.2 L410.2 914.2 L409.2 912.3 L408.3 910.5 L407.5 909.0 L406.8 907.7Z" fill="#151515" stroke="#151515" stroke-width="5.2" stroke-linejoin="round"/><path d="M452.9 954.8 L454.1 955.6 L455.5 956.5 L457.2 957.6 L459.1 958.9 L461.2 960.2 L463.3 961.6 L465.5 963.1 L467.7 964.5 L469.7 965.8 L471.7 967.0 L473.5 968.1 L475.4 969.2 L477.2 970.2 L479.0 971.2 L480.8 972.2 L482.6 973.2 L484.3 974.2 L486.0 975.1 L487.6 976.1 L489.2 977.1 L490.7 978.1 L492.3 979.3 L493.9 980.5 L495.5 981.7 L497.0 982.8 L498.4 984.0 L499.7 985.0 L500.9 986.0 L501.9 986.8 L502.7 987.4 L503.3 986.6 L502.6 985.9 L501.7 985.0 L500.6 984.0 L499.4 982.8 L498.1 981.5 L496.7 980.2 L495.3 978.8 L493.8 977.5 L492.3 976.2 L490.8 974.9 L489.3 973.7 L487.7 972.5 L486.1 971.4 L484.5 970.2 L482.8 969.0 L481.1 967.9 L479.4 966.7 L477.7 965.5 L476.0 964.3 L474.3 963.0 L472.6 961.7 L470.7 960.2 L468.7 958.6 L466.7 957.0 L464.7 955.4 L462.8 953.8 L461.0 952.4 L459.4 951.1 L458.1 950.0 L457.1 949.2Z" fill="#151515" stroke="#151515" stroke-width="5.2" stroke-linejoin="round"/><path d="M310.1 1004.6 L312.2 1005.4 L314.8 1006.5 L318.0 1007.8 L321.6 1009.2 L325.5 1010.7 L329.5 1012.3 L333.7 1013.9 L337.8 1015.4 L341.8 1016.9 L345.5 1018.3 L349.1 1019.6 L352.8 1020.9 L356.4 1022.2 L360.1 1023.5 L363.8 1024.8 L367.5 1026.0 L371.2 1027.1 L374.9 1028.2 L378.6 1029.2 L382.3 1030.0 L385.7 1030.7 L388.9 1031.4 L392.0 1032.0 L395.0 1032.5 L398.1 1032.9 L401.4 1033.2 L405.0 1033.4 L408.8 1033.5 L413.2 1033.4 L418.1 1033.2 L423.9 1032.8 L430.7 1032.1 L438.3 1031.2 L446.2 1030.2 L454.3 1029.0 L462.2 1027.9 L469.7 1026.8 L476.3 1025.9 L481.9 1025.1 L486.1 1024.5 L485.9 1023.5 L481.7 1023.9 L476.1 1024.4 L469.4 1025.0 L462.0 1025.7 L454.0 1026.5 L445.9 1027.2 L437.9 1027.8 L430.4 1028.3 L423.6 1028.7 L417.9 1028.8 L413.2 1028.8 L409.0 1028.6 L405.3 1028.3 L401.9 1028.0 L398.9 1027.5 L396.0 1027.0 L393.1 1026.4 L390.2 1025.7 L387.1 1024.9 L383.7 1024.0 L380.3 1023.0 L376.8 1021.9 L373.3 1020.7 L369.8 1019.4 L366.2 1018.1 L362.7 1016.6 L359.1 1015.2 L355.6 1013.7 L352.0 1012.2 L348.5 1010.7 L344.8 1009.2 L341.0 1007.5 L337.0 1005.8 L333.0 1004.0 L329.0 1002.2 L325.3 1000.5 L321.8 998.9 L318.7 997.5 L316.0 996.3 L313.9 995.4Z" fill="#151515" stroke="#151515" stroke-width="5.2" stroke-linejoin="round"/><path d="M362.2 1017.0 L364.1 1016.8 L366.5 1016.5 L369.2 1016.2 L372.3 1015.8 L375.6 1015.4 L379.2 1015.0 L383.0 1014.7 L386.9 1014.4 L390.9 1014.1 L395.0 1014.0 L399.4 1014.0 L404.5 1014.0 L410.0 1014.2 L415.7 1014.3 L421.5 1014.6 L427.1 1014.8 L432.3 1015.0 L437.0 1015.2 L441.0 1015.4 L444.0 1015.5 L444.0 1014.5 L441.1 1014.2 L437.1 1013.8 L432.5 1013.3 L427.2 1012.8 L421.6 1012.2 L415.9 1011.6 L410.2 1011.1 L404.6 1010.6 L399.5 1010.3 L395.0 1010.0 L390.9 1009.9 L386.8 1009.9 L382.8 1009.9 L378.9 1010.1 L375.2 1010.2 L371.8 1010.4 L368.7 1010.6 L366.0 1010.8 L363.6 1010.9 L361.8 1011.0Z" fill="#151515" stroke="#151515" stroke-width="5.2" stroke-linejoin="round"/><path d="M403.7 1032.5 L404.3 1033.0 L405.0 1033.5 L406.0 1034.2 L407.0 1035.0 L408.1 1035.8 L409.2 1036.6 L410.3 1037.5 L411.4 1038.3 L412.3 1039.1 L413.2 1039.8 L414.0 1040.5 L414.7 1041.2 L415.5 1042.0 L416.3 1042.8 L417.0 1043.5 L417.6 1044.2 L418.2 1044.8 L418.8 1045.4 L419.2 1045.9 L419.6 1046.3 L420.4 1045.7 L420.1 1045.2 L419.7 1044.7 L419.2 1044.0 L418.7 1043.3 L418.2 1042.5 L417.6 1041.7 L416.9 1040.8 L416.2 1039.9 L415.5 1039.0 L414.8 1038.2 L414.0 1037.3 L413.1 1036.4 L412.2 1035.4 L411.2 1034.3 L410.2 1033.3 L409.2 1032.4 L408.3 1031.5 L407.5 1030.7 L406.8 1030.0 L406.3 1029.5Z" fill="#151515" stroke="#151515" stroke-width="5.2" stroke-linejoin="round"/><path d="M276.8 1069.5 L277.5 1070.4 L278.4 1071.5 L279.5 1072.8 L280.8 1074.4 L282.3 1076.1 L283.9 1078.0 L285.6 1079.9 L287.5 1081.9 L289.6 1083.8 L291.7 1085.7 L293.9 1087.5 L296.3 1089.3 L298.6 1091.0 L301.1 1092.7 L303.7 1094.4 L306.4 1096.1 L309.2 1098.0 L312.1 1100.0 L315.2 1102.1 L318.5 1104.3 L322.0 1106.8 L325.8 1109.6 L329.7 1112.5 L333.9 1115.6 L338.2 1118.7 L342.5 1121.9 L346.9 1125.0 L351.3 1128.1 L355.6 1131.1 L359.8 1134.0 L363.9 1136.7 L368.0 1139.4 L372.0 1142.1 L376.1 1144.7 L380.1 1147.2 L384.2 1149.8 L388.4 1152.2 L392.6 1154.6 L396.8 1156.9 L401.2 1159.0 L405.9 1161.2 L411.0 1163.3 L416.3 1165.4 L421.8 1167.4 L427.2 1169.3 L432.3 1171.1 L437.1 1172.8 L441.4 1174.2 L445.0 1175.5 L447.8 1176.5 L448.2 1175.5 L445.4 1174.4 L441.9 1173.0 L437.7 1171.3 L433.0 1169.4 L427.9 1167.4 L422.6 1165.2 L417.3 1163.0 L412.2 1160.6 L407.3 1158.3 L402.8 1156.0 L398.6 1153.6 L394.5 1151.2 L390.5 1148.6 L386.6 1146.0 L382.7 1143.4 L378.8 1140.6 L374.9 1137.8 L371.0 1135.0 L367.1 1132.1 L363.2 1129.2 L359.2 1126.2 L355.1 1123.0 L350.9 1119.8 L346.7 1116.4 L342.5 1113.0 L338.4 1109.7 L334.4 1106.4 L330.6 1103.3 L326.9 1100.4 L323.5 1097.7 L320.3 1095.2 L317.2 1092.8 L314.3 1090.7 L311.6 1088.7 L309.0 1086.8 L306.6 1085.0 L304.3 1083.3 L302.1 1081.6 L300.1 1079.9 L298.3 1078.3 L296.5 1076.6 L294.9 1074.8 L293.3 1073.0 L291.9 1071.2 L290.5 1069.5 L289.2 1067.8 L288.1 1066.2 L287.0 1064.8 L286.0 1063.5 L285.2 1062.5Z" fill="#151515" stroke="#151515" stroke-width="5.2" stroke-linejoin="round"/><path d="M319.1 1102.8 L319.5 1103.9 L319.9 1105.2 L320.5 1106.7 L321.1 1108.4 L321.8 1110.3 L322.5 1112.3 L323.2 1114.3 L323.9 1116.4 L324.5 1118.5 L325.2 1120.5 L325.8 1122.5 L326.5 1124.9 L327.3 1127.3 L328.0 1129.8 L328.7 1132.4 L329.4 1134.8 L330.1 1137.1 L330.6 1139.1 L331.1 1140.8 L331.5 1142.1 L332.5 1141.9 L332.3 1140.5 L332.0 1138.8 L331.7 1136.7 L331.3 1134.4 L330.9 1131.9 L330.5 1129.3 L330.1 1126.7 L329.6 1124.1 L329.2 1121.7 L328.8 1119.5 L328.4 1117.5 L328.0 1115.3 L327.5 1113.1 L327.1 1111.0 L326.6 1108.9 L326.2 1107.0 L325.8 1105.2 L325.4 1103.6 L325.1 1102.2 L324.9 1101.2Z" fill="#151515" stroke="#151515" stroke-width="5.2" stroke-linejoin="round"/><path d="M339.1 1114.1 L339.9 1113.3 L340.8 1112.1 L341.9 1110.9 L343.0 1109.5 L344.2 1108.1 L345.4 1106.6 L346.8 1105.3 L348.2 1104.0 L349.6 1103.0 L351.0 1102.2 L352.6 1101.5 L354.3 1100.8 L356.0 1100.2 L357.8 1099.7 L359.8 1099.3 L361.8 1099.0 L364.0 1098.7 L366.3 1098.6 L368.8 1098.6 L371.4 1098.7 L374.4 1098.9 L377.9 1099.4 L381.8 1100.1 L385.8 1100.9 L389.9 1101.8 L393.9 1102.7 L397.6 1103.6 L400.9 1104.4 L403.8 1105.0 L405.9 1105.5 L406.1 1104.5 L404.0 1103.9 L401.3 1103.1 L398.0 1102.1 L394.3 1101.0 L390.4 1099.8 L386.4 1098.6 L382.4 1097.6 L378.5 1096.6 L374.9 1095.8 L371.8 1095.3 L369.0 1095.1 L366.3 1094.9 L363.8 1094.9 L361.4 1095.0 L359.1 1095.2 L357.0 1095.5 L354.9 1096.0 L352.9 1096.5 L350.9 1097.1 L349.0 1097.8 L347.0 1098.8 L345.1 1100.0 L343.3 1101.4 L341.7 1102.8 L340.1 1104.3 L338.7 1105.8 L337.5 1107.1 L336.4 1108.3 L335.6 1109.2 L334.9 1109.9Z" fill="#151515" stroke="#151515" stroke-width="5.2" stroke-linejoin="round"/><path d="M400.8 1154.4 L402.0 1153.9 L403.4 1153.3 L405.1 1152.7 L406.9 1151.9 L408.9 1151.1 L411.1 1150.3 L413.3 1149.5 L415.6 1148.8 L417.9 1148.1 L420.2 1147.6 L422.8 1147.2 L425.6 1146.9 L428.7 1146.6 L432.0 1146.3 L435.3 1146.1 L438.4 1146.0 L441.4 1145.8 L444.1 1145.7 L446.3 1145.6 L448.0 1145.5 L448.0 1144.5 L446.3 1144.5 L444.1 1144.4 L441.4 1144.3 L438.4 1144.2 L435.2 1144.1 L431.9 1144.0 L428.6 1144.0 L425.4 1144.0 L422.5 1144.2 L419.8 1144.4 L417.2 1144.7 L414.7 1145.2 L412.2 1145.7 L409.8 1146.4 L407.6 1147.0 L405.4 1147.7 L403.5 1148.3 L401.8 1148.9 L400.4 1149.3 L399.2 1149.6Z" fill="#151515" stroke="#151515" stroke-width="5.2" stroke-linejoin="round"/><path d="M567.8 816.8 L568.3 818.6 L569.0 820.9 L569.8 823.6 L570.7 826.7 L571.7 830.0 L572.8 833.5 L573.9 837.2 L575.1 841.0 L576.4 844.8 L577.6 848.6 L579.0 852.5 L580.5 856.6 L582.1 860.9 L583.7 865.3 L585.4 869.7 L587.1 874.1 L588.7 878.4 L590.2 882.5 L591.5 886.5 L592.7 890.1 L593.7 893.5 L594.5 896.7 L595.3 899.7 L595.9 902.6 L596.5 905.4 L597.1 908.2 L597.6 911.2 L598.1 914.2 L598.7 917.4 L599.3 920.8 L600.0 924.5 L600.6 928.2 L601.3 932.1 L601.9 936.1 L602.6 940.1 L603.2 944.2 L603.8 948.3 L604.4 952.4 L604.9 956.5 L605.4 960.5 L605.8 964.4 L606.2 968.3 L606.5 972.2 L606.9 976.1 L607.1 980.0 L607.4 984.0 L607.7 988.0 L608.1 992.1 L608.4 996.2 L608.9 1000.4 L609.4 1004.8 L610.2 1009.4 L611.0 1014.1 L611.9 1018.8 L612.7 1023.4 L613.4 1027.9 L614.0 1032.3 L614.4 1036.3 L614.6 1040.1 L614.4 1043.4 L614.0 1046.2 L613.2 1048.6 L612.2 1050.8 L611.0 1052.9 L609.7 1055.1 L608.1 1057.2 L606.5 1059.6 L604.9 1062.2 L603.3 1065.2 L602.0 1068.5 L600.8 1072.0 L599.7 1075.6 L598.6 1079.4 L597.6 1083.4 L596.6 1087.5 L595.6 1091.6 L594.7 1095.7 L593.8 1099.8 L592.9 1103.8 L592.0 1107.8 L591.2 1111.6 L590.4 1115.2 L589.7 1118.8 L588.9 1122.3 L588.2 1125.9 L587.5 1129.6 L586.9 1133.4 L586.2 1137.5 L585.5 1141.9 L584.8 1146.7 L584.0 1152.1 L583.2 1158.3 L582.4 1165.1 L581.6 1172.1 L580.8 1179.2 L580.0 1186.1 L579.3 1192.5 L578.7 1198.3 L578.1 1203.1 L577.7 1206.8 L580.7 1207.2 L581.2 1203.5 L581.9 1198.7 L582.6 1192.9 L583.5 1186.5 L584.4 1179.6 L585.4 1172.6 L586.4 1165.6 L587.4 1158.9 L588.3 1152.7 L589.2 1147.3 L590.0 1142.7 L590.8 1138.3 L591.6 1134.3 L592.4 1130.5 L593.2 1126.9 L593.9 1123.4 L594.7 1119.9 L595.6 1116.4 L596.4 1112.8 L597.4 1109.0 L598.3 1105.1 L599.3 1101.1 L600.3 1097.0 L601.4 1093.0 L602.4 1088.9 L603.5 1085.0 L604.6 1081.1 L605.7 1077.4 L606.9 1073.9 L608.0 1070.7 L609.2 1068.0 L610.6 1065.6 L612.0 1063.3 L613.6 1061.2 L615.3 1059.0 L616.9 1056.6 L618.4 1054.1 L619.8 1051.2 L620.9 1047.9 L621.6 1044.2 L621.9 1040.2 L621.8 1035.9 L621.5 1031.5 L621.0 1026.9 L620.3 1022.2 L619.6 1017.5 L618.8 1012.8 L618.1 1008.2 L617.6 1003.8 L617.1 999.6 L616.8 995.5 L616.5 991.4 L616.3 987.4 L616.1 983.5 L615.9 979.5 L615.7 975.5 L615.5 971.6 L615.3 967.6 L615.0 963.6 L614.6 959.5 L614.2 955.4 L613.8 951.3 L613.3 947.1 L612.8 942.9 L612.3 938.8 L611.7 934.7 L611.2 930.6 L610.6 926.7 L610.0 922.8 L609.5 919.2 L608.9 915.7 L608.5 912.5 L608.0 909.4 L607.5 906.4 L607.0 903.4 L606.5 900.4 L605.8 897.3 L605.1 894.1 L604.3 890.7 L603.3 887.1 L602.2 883.1 L600.9 878.9 L599.4 874.6 L597.9 870.2 L596.3 865.7 L594.8 861.2 L593.2 856.8 L591.8 852.6 L590.4 848.6 L589.2 844.8 L588.1 841.1 L587.0 837.4 L585.9 833.7 L584.8 830.0 L583.9 826.5 L583.0 823.2 L582.1 820.1 L581.4 817.4 L580.8 815.0 L580.2 813.2Z" fill="#151515" stroke="#151515" stroke-width="5.2" stroke-linejoin="round"/><path d="M575.0 826.0 L576.8 827.3 L579.2 829.0 L582.1 831.1 L585.3 833.4 L588.8 835.9 L592.4 838.5 L596.0 841.0 L599.6 843.4 L602.9 845.7 L606.0 847.6 L609.0 849.3 L612.1 851.0 L615.1 852.5 L618.1 854.0 L621.0 855.3 L623.8 856.6 L626.3 857.7 L628.5 858.7 L630.4 859.5 L631.9 860.2 L634.1 855.8 L632.7 855.0 L630.8 854.0 L628.7 852.8 L626.3 851.5 L623.7 850.1 L621.0 848.5 L618.2 846.9 L615.4 845.2 L612.6 843.4 L610.0 841.6 L607.2 839.6 L604.1 837.2 L600.8 834.6 L597.5 831.8 L594.1 829.0 L590.9 826.3 L587.8 823.7 L585.1 821.4 L582.8 819.5 L581.0 818.0Z" fill="#151515" stroke="#151515" stroke-width="5.2" stroke-linejoin="round"/><path d="M599.9 922.4 L598.9 923.8 L597.5 925.5 L595.8 927.5 L593.9 929.8 L591.8 932.3 L589.7 934.9 L587.5 937.7 L585.4 940.5 L583.4 943.3 L581.6 946.1 L579.9 948.7 L578.2 951.3 L576.5 954.0 L574.8 956.7 L573.1 959.6 L571.5 962.5 L570.0 965.6 L568.6 968.8 L567.3 972.2 L566.2 975.8 L565.3 979.4 L564.6 983.0 L564.0 986.6 L563.6 990.3 L563.2 994.2 L562.9 998.2 L562.7 1002.5 L562.4 1007.2 L562.1 1012.3 L561.7 1017.8 L561.3 1024.3 L560.9 1031.9 L560.5 1040.3 L560.0 1049.1 L559.6 1058.0 L559.2 1066.7 L558.8 1074.9 L558.5 1082.2 L558.2 1088.3 L558.0 1093.0 L559.0 1093.0 L559.4 1088.4 L559.9 1082.3 L560.5 1075.0 L561.2 1066.9 L562.0 1058.2 L562.7 1049.3 L563.5 1040.5 L564.3 1032.2 L565.0 1024.6 L565.7 1018.2 L566.2 1012.6 L566.7 1007.5 L567.2 1002.9 L567.6 998.6 L568.1 994.6 L568.6 990.9 L569.1 987.4 L569.8 984.0 L570.6 980.7 L571.6 977.4 L572.7 974.2 L574.0 971.1 L575.4 968.2 L576.9 965.4 L578.5 962.7 L580.2 960.1 L581.9 957.5 L583.7 955.0 L585.5 952.4 L587.2 949.9 L589.0 947.4 L591.0 944.8 L593.2 942.2 L595.4 939.6 L597.5 937.1 L599.6 934.8 L601.6 932.6 L603.4 930.6 L604.9 928.9 L606.1 927.6Z" fill="#151515" stroke="#151515" stroke-width="5.2" stroke-linejoin="round"/><path d="M568.4 974.2 L567.2 974.4 L565.7 974.7 L563.9 975.1 L561.8 975.5 L559.5 976.0 L557.0 976.6 L554.6 977.3 L552.1 978.1 L549.7 979.2 L547.4 980.4 L545.2 981.9 L542.9 983.8 L540.5 985.9 L538.2 988.2 L535.9 990.5 L533.7 992.8 L531.7 994.9 L529.9 996.8 L528.3 998.4 L527.2 999.6 L527.8 1000.4 L529.1 999.3 L530.8 997.8 L532.7 996.0 L534.9 994.0 L537.3 992.0 L539.7 989.9 L542.2 987.8 L544.6 986.0 L546.9 984.4 L549.0 983.2 L551.1 982.3 L553.3 981.6 L555.6 981.0 L557.9 980.5 L560.2 980.2 L562.5 979.9 L564.5 979.7 L566.4 979.5 L568.1 979.3 L569.4 979.0Z" fill="#151515" stroke="#151515" stroke-width="5.2" stroke-linejoin="round"/><path d="M561.8 1016.4 L560.9 1017.5 L559.8 1018.8 L558.5 1020.5 L557.0 1022.3 L555.4 1024.3 L553.7 1026.4 L552.0 1028.6 L550.2 1030.8 L548.5 1032.9 L546.8 1035.0 L545.1 1037.1 L543.2 1039.4 L541.3 1041.9 L539.3 1044.4 L537.3 1046.8 L535.4 1049.2 L533.6 1051.4 L532.0 1053.4 L530.7 1055.1 L529.6 1056.4 L530.4 1057.0 L531.5 1055.8 L533.0 1054.3 L534.7 1052.4 L536.7 1050.3 L538.8 1048.1 L540.9 1045.8 L543.1 1043.5 L545.3 1041.2 L547.3 1039.0 L549.2 1037.0 L551.0 1035.1 L552.9 1033.1 L554.8 1031.1 L556.7 1029.1 L558.6 1027.1 L560.3 1025.2 L561.9 1023.5 L563.4 1022.0 L564.6 1020.7 L565.6 1019.6Z" fill="#151515" stroke="#151515" stroke-width="5.2" stroke-linejoin="round"/><path d="M605.7 927.8 L607.5 928.4 L609.8 929.0 L612.5 929.8 L615.5 930.6 L618.7 931.6 L622.0 932.6 L625.4 933.7 L628.6 935.0 L631.7 936.4 L634.5 937.8 L637.1 939.5 L639.8 941.2 L642.5 943.1 L645.2 945.2 L647.9 947.3 L650.5 949.6 L653.1 951.9 L655.6 954.4 L658.1 957.0 L660.5 959.6 L662.9 962.6 L665.4 965.9 L668.0 969.6 L670.5 973.4 L672.9 977.2 L675.2 981.0 L677.4 984.5 L679.3 987.6 L680.9 990.3 L682.2 992.3 L683.0 991.7 L681.9 989.7 L680.5 986.9 L678.8 983.7 L676.9 980.1 L674.8 976.2 L672.6 972.1 L670.3 968.1 L668.0 964.2 L665.6 960.6 L663.3 957.4 L661.0 954.4 L658.6 951.6 L656.2 948.9 L653.6 946.3 L651.1 943.7 L648.5 941.3 L645.8 939.0 L643.1 936.8 L640.3 934.7 L637.5 932.8 L634.5 930.9 L631.3 929.2 L627.9 927.6 L624.4 926.2 L621.0 924.8 L617.8 923.7 L614.8 922.6 L612.2 921.7 L610.0 920.9 L608.3 920.2Z" fill="#151515" stroke="#151515" stroke-width="5.2" stroke-linejoin="round"/><path d="M615.9 1046.6 L617.5 1047.7 L619.5 1049.1 L621.9 1050.8 L624.6 1052.7 L627.5 1054.7 L630.6 1056.8 L633.7 1058.8 L636.8 1060.8 L639.8 1062.6 L642.6 1064.1 L645.3 1065.4 L648.0 1066.6 L650.6 1067.8 L653.2 1068.8 L655.8 1069.8 L658.5 1070.6 L661.1 1071.4 L663.8 1072.2 L666.5 1072.8 L669.3 1073.4 L672.2 1073.9 L675.4 1074.4 L678.7 1074.7 L682.0 1074.9 L685.3 1075.1 L688.5 1075.2 L691.4 1075.3 L694.1 1075.3 L696.3 1075.4 L698.0 1075.5 L698.0 1074.5 L696.3 1074.3 L694.1 1074.1 L691.5 1073.8 L688.6 1073.5 L685.5 1073.2 L682.2 1072.8 L679.0 1072.4 L675.7 1071.8 L672.7 1071.2 L669.9 1070.6 L667.3 1069.8 L664.7 1069.0 L662.2 1068.1 L659.7 1067.2 L657.2 1066.1 L654.8 1065.0 L652.3 1063.9 L649.9 1062.6 L647.4 1061.3 L645.0 1059.9 L642.4 1058.3 L639.7 1056.4 L636.8 1054.3 L633.9 1052.1 L631.1 1049.8 L628.3 1047.7 L625.8 1045.6 L623.5 1043.7 L621.6 1042.2 L620.1 1041.0Z" fill="#151515" stroke="#151515" stroke-width="5.2" stroke-linejoin="round"/><path d="M660.8 1071.6 L661.9 1072.4 L663.4 1073.5 L665.1 1074.7 L667.1 1076.0 L669.2 1077.5 L671.3 1079.1 L673.4 1080.7 L675.5 1082.4 L677.4 1084.1 L679.0 1085.8 L680.6 1087.7 L682.2 1089.8 L683.8 1092.1 L685.4 1094.5 L686.9 1096.9 L688.3 1099.2 L689.6 1101.4 L690.8 1103.3 L691.8 1105.0 L692.6 1106.3 L693.4 1105.7 L692.7 1104.5 L691.8 1102.8 L690.8 1100.7 L689.6 1098.5 L688.4 1096.0 L687.0 1093.5 L685.5 1091.0 L684.0 1088.5 L682.5 1086.2 L681.0 1084.2 L679.3 1082.2 L677.4 1080.3 L675.4 1078.4 L673.3 1076.6 L671.2 1074.9 L669.2 1073.2 L667.3 1071.7 L665.7 1070.4 L664.3 1069.3 L663.2 1068.4Z" fill="#151515" stroke="#151515" stroke-width="5.2" stroke-linejoin="round"/><path d="M592.1 1109.9 L593.0 1111.4 L594.2 1113.3 L595.5 1115.6 L597.1 1118.1 L598.8 1120.9 L600.6 1123.8 L602.5 1126.7 L604.4 1129.7 L606.3 1132.5 L608.3 1135.2 L610.3 1137.8 L612.5 1140.5 L614.8 1143.2 L617.2 1145.9 L619.6 1148.6 L622.0 1151.2 L624.3 1153.8 L626.4 1156.2 L628.4 1158.5 L630.1 1160.6 L631.7 1162.6 L633.1 1164.6 L634.4 1166.5 L635.6 1168.3 L636.7 1170.0 L637.7 1171.6 L638.5 1173.0 L639.3 1174.3 L640.0 1175.4 L640.6 1176.3 L641.4 1175.7 L640.9 1174.8 L640.3 1173.7 L639.6 1172.4 L638.8 1170.9 L637.9 1169.3 L636.9 1167.5 L635.8 1165.6 L634.6 1163.6 L633.3 1161.5 L631.9 1159.4 L630.2 1157.1 L628.4 1154.6 L626.4 1152.1 L624.2 1149.4 L622.0 1146.6 L619.8 1143.8 L617.6 1141.0 L615.5 1138.2 L613.5 1135.4 L611.7 1132.8 L610.0 1130.1 L608.3 1127.2 L606.6 1124.2 L604.9 1121.2 L603.3 1118.3 L601.8 1115.4 L600.4 1112.8 L599.2 1110.5 L598.1 1108.5 L597.3 1106.9Z" fill="#151515" stroke="#151515" stroke-width="5.2" stroke-linejoin="round"/><path d="M589.6 1118.8 L590.4 1120.7 L591.3 1123.3 L592.4 1126.3 L593.7 1129.7 L595.0 1133.3 L596.4 1137.0 L597.8 1140.7 L599.1 1144.3 L600.3 1147.6 L601.4 1150.5 L602.3 1153.2 L603.2 1155.6 L604.0 1157.9 L604.8 1160.1 L605.5 1162.3 L606.2 1164.4 L606.9 1166.5 L607.6 1168.7 L608.2 1170.9 L608.9 1173.3 L609.6 1175.8 L610.3 1178.6 L611.0 1181.6 L611.7 1184.6 L612.4 1187.6 L613.0 1190.5 L613.6 1193.1 L614.1 1195.5 L614.6 1197.5 L614.9 1199.1 L615.9 1198.9 L615.6 1197.3 L615.3 1195.3 L614.9 1192.9 L614.4 1190.2 L613.9 1187.3 L613.4 1184.3 L612.8 1181.2 L612.2 1178.2 L611.7 1175.4 L611.1 1172.7 L610.5 1170.3 L610.0 1168.0 L609.4 1165.8 L608.8 1163.6 L608.2 1161.5 L607.6 1159.3 L606.9 1157.0 L606.2 1154.6 L605.4 1152.1 L604.6 1149.5 L603.7 1146.5 L602.6 1143.1 L601.5 1139.4 L600.3 1135.6 L599.1 1131.9 L597.9 1128.2 L596.8 1124.8 L595.8 1121.7 L595.0 1119.1 L594.4 1117.2Z" fill="#151515" stroke="#151515" stroke-width="5.2" stroke-linejoin="round"/><path d="M414.3 852.2 L413.9 854.2 L413.3 856.8 L412.7 859.8 L412.0 863.2 L411.2 866.7 L410.5 870.3 L409.6 873.8 L408.8 877.0 L408.1 879.8 L407.3 882.0 L406.7 883.9 L406.0 885.6 L405.3 887.0 L404.7 888.3 L404.0 889.4 L403.3 890.5 L402.6 891.6 L401.7 892.7 L400.8 893.9 L399.7 895.2 L398.7 896.3 L397.6 897.4 L396.3 898.6 L395.0 899.7 L393.5 900.9 L391.9 902.2 L390.2 903.4 L388.4 904.7 L386.6 906.1 L384.8 907.5 L383.1 908.7 L381.5 909.9 L379.7 911.1 L378.0 912.4 L376.1 913.6 L374.2 915.0 L372.3 916.3 L370.2 917.7 L368.2 919.2 L366.0 920.8 L363.9 922.5 L361.7 924.2 L359.5 925.9 L357.3 927.7 L355.0 929.6 L352.8 931.4 L350.5 933.2 L348.3 935.0 L346.2 936.8 L344.1 938.5 L342.1 940.1 L340.1 941.7 L338.1 943.2 L336.1 944.8 L334.1 946.4 L332.0 948.1 L330.0 949.8 L327.9 951.6 L325.8 953.5 L323.8 955.4 L321.8 957.5 L319.7 959.6 L317.7 961.7 L315.8 963.9 L313.8 966.2 L311.9 968.4 L310.1 970.6 L308.4 972.7 L306.8 974.8 L305.3 976.8 L303.8 978.7 L302.6 980.6 L301.4 982.4 L300.3 984.1 L299.3 985.8 L298.4 987.5 L297.6 989.1 L296.7 990.7 L295.8 992.3 L294.9 993.9 L294.0 995.6 L293.0 997.3 L292.0 999.1 L290.9 1001.0 L289.8 1002.9 L288.8 1004.9 L287.7 1007.0 L286.7 1009.2 L285.7 1011.5 L284.8 1013.8 L283.9 1016.3 L283.2 1018.8 L282.5 1021.3 L281.9 1023.9 L281.4 1026.4 L280.9 1028.9 L280.4 1031.3 L279.9 1033.7 L279.4 1036.1 L278.9 1038.3 L278.4 1040.6 L277.9 1042.9 L277.4 1045.2 L276.9 1047.6 L276.4 1049.9 L275.9 1052.2 L275.5 1054.4 L275.0 1056.6 L274.6 1058.7 L274.3 1060.8 L274.0 1062.8 L273.7 1064.9 L273.5 1066.9 L273.3 1068.8 L273.1 1070.7 L272.9 1072.4 L272.8 1073.9 L272.7 1075.3 L272.6 1076.4 L272.5 1077.3 L285.5 1078.7 L285.6 1077.8 L285.7 1076.6 L285.9 1075.2 L286.1 1073.7 L286.3 1072.1 L286.5 1070.4 L286.8 1068.6 L287.0 1066.8 L287.4 1065.0 L287.7 1063.2 L288.1 1061.4 L288.5 1059.4 L289.0 1057.4 L289.5 1055.2 L290.1 1053.1 L290.7 1050.8 L291.3 1048.6 L291.9 1046.3 L292.5 1044.0 L293.1 1041.7 L293.7 1039.3 L294.3 1036.9 L294.8 1034.5 L295.4 1032.1 L296.0 1029.8 L296.6 1027.5 L297.2 1025.3 L297.9 1023.2 L298.5 1021.2 L299.2 1019.4 L300.0 1017.6 L300.8 1015.9 L301.7 1014.2 L302.7 1012.5 L303.7 1010.8 L304.7 1009.1 L305.8 1007.4 L306.9 1005.6 L308.0 1003.9 L309.1 1002.1 L310.1 1000.4 L311.0 998.7 L311.9 997.2 L312.8 995.7 L313.7 994.3 L314.5 993.0 L315.4 991.6 L316.4 990.2 L317.5 988.8 L318.7 987.2 L320.2 985.5 L321.7 983.7 L323.4 981.8 L325.1 979.8 L326.9 977.8 L328.8 975.9 L330.7 973.9 L332.5 972.1 L334.4 970.3 L336.2 968.6 L338.0 967.0 L339.8 965.5 L341.6 964.1 L343.5 962.6 L345.4 961.2 L347.4 959.7 L349.5 958.3 L351.6 956.7 L353.7 955.2 L355.9 953.5 L358.1 951.9 L360.3 950.2 L362.6 948.5 L364.8 946.8 L367.1 945.1 L369.4 943.4 L371.6 941.7 L373.8 940.1 L375.9 938.6 L378.0 937.2 L379.9 935.8 L381.8 934.6 L383.7 933.3 L385.6 932.1 L387.5 930.9 L389.4 929.7 L391.4 928.5 L393.3 927.2 L395.3 925.9 L397.2 924.5 L399.0 923.3 L400.8 922.1 L402.6 920.8 L404.5 919.5 L406.4 918.1 L408.4 916.7 L410.3 915.2 L412.2 913.6 L414.1 911.8 L415.9 910.0 L417.4 908.3 L418.8 906.7 L420.2 905.0 L421.6 903.3 L422.9 901.4 L424.1 899.4 L425.3 897.3 L426.4 895.0 L427.5 892.6 L428.7 890.0 L429.8 886.9 L430.9 883.4 L432.0 879.7 L433.0 876.0 L434.0 872.2 L435.0 868.5 L435.8 865.1 L436.6 862.1 L437.2 859.7 L437.7 857.8Z" fill="#e2745c"/><path d="M393.2 916.3 L393.9 917.2 L394.8 918.5 L395.9 920.1 L397.1 922.0 L398.5 924.0 L400.0 926.2 L401.6 928.4 L403.3 930.6 L405.1 932.7 L407.0 934.6 L408.7 936.3 L410.5 937.9 L412.4 939.5 L414.3 941.0 L416.3 942.6 L418.4 944.0 L420.6 945.4 L422.8 946.7 L425.2 947.9 L427.6 949.0 L430.1 949.9 L432.4 950.7 L434.9 951.4 L437.3 952.0 L439.8 952.5 L442.4 952.9 L445.2 953.3 L448.1 953.6 L451.2 953.9 L454.6 954.1 L458.4 954.3 L462.6 954.3 L467.1 954.2 L471.8 954.1 L476.6 954.0 L481.4 953.8 L486.0 953.7 L490.4 953.6 L494.3 953.6 L497.8 953.7 L500.9 954.0 L503.8 954.3 L506.6 954.7 L509.1 955.1 L511.4 955.6 L513.6 956.0 L515.5 956.5 L517.2 956.9 L518.6 957.2 L519.9 957.5 L520.1 956.5 L518.9 956.1 L517.5 955.6 L515.9 955.1 L514.0 954.4 L511.9 953.7 L509.6 952.9 L507.1 952.2 L504.3 951.5 L501.4 950.8 L498.2 950.3 L494.6 949.8 L490.6 949.3 L486.2 948.9 L481.5 948.5 L476.8 948.1 L472.0 947.8 L467.4 947.4 L463.0 946.9 L459.0 946.4 L455.4 945.9 L452.3 945.3 L449.4 944.8 L446.7 944.2 L444.3 943.6 L442.1 943.0 L440.0 942.3 L438.0 941.6 L436.1 940.8 L434.2 939.9 L432.4 939.0 L430.6 937.9 L428.9 936.8 L427.2 935.6 L425.6 934.3 L424.1 932.9 L422.6 931.5 L421.1 930.0 L419.7 928.5 L418.3 926.9 L417.0 925.4 L415.9 923.9 L414.7 922.2 L413.5 920.3 L412.4 918.2 L411.2 916.2 L410.2 914.2 L409.2 912.3 L408.3 910.5 L407.5 909.0 L406.8 907.7Z" fill="#e2745c"/><path d="M452.9 954.8 L454.1 955.6 L455.5 956.5 L457.2 957.6 L459.1 958.9 L461.2 960.2 L463.3 961.6 L465.5 963.1 L467.7 964.5 L469.7 965.8 L471.7 967.0 L473.5 968.1 L475.4 969.2 L477.2 970.2 L479.0 971.2 L480.8 972.2 L482.6 973.2 L484.3 974.2 L486.0 975.1 L487.6 976.1 L489.2 977.1 L490.7 978.1 L492.3 979.3 L493.9 980.5 L495.5 981.7 L497.0 982.8 L498.4 984.0 L499.7 985.0 L500.9 986.0 L501.9 986.8 L502.7 987.4 L503.3 986.6 L502.6 985.9 L501.7 985.0 L500.6 984.0 L499.4 982.8 L498.1 981.5 L496.7 980.2 L495.3 978.8 L493.8 977.5 L492.3 976.2 L490.8 974.9 L489.3 973.7 L487.7 972.5 L486.1 971.4 L484.5 970.2 L482.8 969.0 L481.1 967.9 L479.4 966.7 L477.7 965.5 L476.0 964.3 L474.3 963.0 L472.6 961.7 L470.7 960.2 L468.7 958.6 L466.7 957.0 L464.7 955.4 L462.8 953.8 L461.0 952.4 L459.4 951.1 L458.1 950.0 L457.1 949.2Z" fill="#e2745c"/><path d="M310.1 1004.6 L312.2 1005.4 L314.8 1006.5 L318.0 1007.8 L321.6 1009.2 L325.5 1010.7 L329.5 1012.3 L333.7 1013.9 L337.8 1015.4 L341.8 1016.9 L345.5 1018.3 L349.1 1019.6 L352.8 1020.9 L356.4 1022.2 L360.1 1023.5 L363.8 1024.8 L367.5 1026.0 L371.2 1027.1 L374.9 1028.2 L378.6 1029.2 L382.3 1030.0 L385.7 1030.7 L388.9 1031.4 L392.0 1032.0 L395.0 1032.5 L398.1 1032.9 L401.4 1033.2 L405.0 1033.4 L408.8 1033.5 L413.2 1033.4 L418.1 1033.2 L423.9 1032.8 L430.7 1032.1 L438.3 1031.2 L446.2 1030.2 L454.3 1029.0 L462.2 1027.9 L469.7 1026.8 L476.3 1025.9 L481.9 1025.1 L486.1 1024.5 L485.9 1023.5 L481.7 1023.9 L476.1 1024.4 L469.4 1025.0 L462.0 1025.7 L454.0 1026.5 L445.9 1027.2 L437.9 1027.8 L430.4 1028.3 L423.6 1028.7 L417.9 1028.8 L413.2 1028.8 L409.0 1028.6 L405.3 1028.3 L401.9 1028.0 L398.9 1027.5 L396.0 1027.0 L393.1 1026.4 L390.2 1025.7 L387.1 1024.9 L383.7 1024.0 L380.3 1023.0 L376.8 1021.9 L373.3 1020.7 L369.8 1019.4 L366.2 1018.1 L362.7 1016.6 L359.1 1015.2 L355.6 1013.7 L352.0 1012.2 L348.5 1010.7 L344.8 1009.2 L341.0 1007.5 L337.0 1005.8 L333.0 1004.0 L329.0 1002.2 L325.3 1000.5 L321.8 998.9 L318.7 997.5 L316.0 996.3 L313.9 995.4Z" fill="#e2745c"/><path d="M362.2 1017.0 L364.1 1016.8 L366.5 1016.5 L369.2 1016.2 L372.3 1015.8 L375.6 1015.4 L379.2 1015.0 L383.0 1014.7 L386.9 1014.4 L390.9 1014.1 L395.0 1014.0 L399.4 1014.0 L404.5 1014.0 L410.0 1014.2 L415.7 1014.3 L421.5 1014.6 L427.1 1014.8 L432.3 1015.0 L437.0 1015.2 L441.0 1015.4 L444.0 1015.5 L444.0 1014.5 L441.1 1014.2 L437.1 1013.8 L432.5 1013.3 L427.2 1012.8 L421.6 1012.2 L415.9 1011.6 L410.2 1011.1 L404.6 1010.6 L399.5 1010.3 L395.0 1010.0 L390.9 1009.9 L386.8 1009.9 L382.8 1009.9 L378.9 1010.1 L375.2 1010.2 L371.8 1010.4 L368.7 1010.6 L366.0 1010.8 L363.6 1010.9 L361.8 1011.0Z" fill="#e2745c"/><path d="M403.7 1032.5 L404.3 1033.0 L405.0 1033.5 L406.0 1034.2 L407.0 1035.0 L408.1 1035.8 L409.2 1036.6 L410.3 1037.5 L411.4 1038.3 L412.3 1039.1 L413.2 1039.8 L414.0 1040.5 L414.7 1041.2 L415.5 1042.0 L416.3 1042.8 L417.0 1043.5 L417.6 1044.2 L418.2 1044.8 L418.8 1045.4 L419.2 1045.9 L419.6 1046.3 L420.4 1045.7 L420.1 1045.2 L419.7 1044.7 L419.2 1044.0 L418.7 1043.3 L418.2 1042.5 L417.6 1041.7 L416.9 1040.8 L416.2 1039.9 L415.5 1039.0 L414.8 1038.2 L414.0 1037.3 L413.1 1036.4 L412.2 1035.4 L411.2 1034.3 L410.2 1033.3 L409.2 1032.4 L408.3 1031.5 L407.5 1030.7 L406.8 1030.0 L406.3 1029.5Z" fill="#e2745c"/><path d="M276.8 1069.5 L277.5 1070.4 L278.4 1071.5 L279.5 1072.8 L280.8 1074.4 L282.3 1076.1 L283.9 1078.0 L285.6 1079.9 L287.5 1081.9 L289.6 1083.8 L291.7 1085.7 L293.9 1087.5 L296.3 1089.3 L298.6 1091.0 L301.1 1092.7 L303.7 1094.4 L306.4 1096.1 L309.2 1098.0 L312.1 1100.0 L315.2 1102.1 L318.5 1104.3 L322.0 1106.8 L325.8 1109.6 L329.7 1112.5 L333.9 1115.6 L338.2 1118.7 L342.5 1121.9 L346.9 1125.0 L351.3 1128.1 L355.6 1131.1 L359.8 1134.0 L363.9 1136.7 L368.0 1139.4 L372.0 1142.1 L376.1 1144.7 L380.1 1147.2 L384.2 1149.8 L388.4 1152.2 L392.6 1154.6 L396.8 1156.9 L401.2 1159.0 L405.9 1161.2 L411.0 1163.3 L416.3 1165.4 L421.8 1167.4 L427.2 1169.3 L432.3 1171.1 L437.1 1172.8 L441.4 1174.2 L445.0 1175.5 L447.8 1176.5 L448.2 1175.5 L445.4 1174.4 L441.9 1173.0 L437.7 1171.3 L433.0 1169.4 L427.9 1167.4 L422.6 1165.2 L417.3 1163.0 L412.2 1160.6 L407.3 1158.3 L402.8 1156.0 L398.6 1153.6 L394.5 1151.2 L390.5 1148.6 L386.6 1146.0 L382.7 1143.4 L378.8 1140.6 L374.9 1137.8 L371.0 1135.0 L367.1 1132.1 L363.2 1129.2 L359.2 1126.2 L355.1 1123.0 L350.9 1119.8 L346.7 1116.4 L342.5 1113.0 L338.4 1109.7 L334.4 1106.4 L330.6 1103.3 L326.9 1100.4 L323.5 1097.7 L320.3 1095.2 L317.2 1092.8 L314.3 1090.7 L311.6 1088.7 L309.0 1086.8 L306.6 1085.0 L304.3 1083.3 L302.1 1081.6 L300.1 1079.9 L298.3 1078.3 L296.5 1076.6 L294.9 1074.8 L293.3 1073.0 L291.9 1071.2 L290.5 1069.5 L289.2 1067.8 L288.1 1066.2 L287.0 1064.8 L286.0 1063.5 L285.2 1062.5Z" fill="#e2745c"/><path d="M319.1 1102.8 L319.5 1103.9 L319.9 1105.2 L320.5 1106.7 L321.1 1108.4 L321.8 1110.3 L322.5 1112.3 L323.2 1114.3 L323.9 1116.4 L324.5 1118.5 L325.2 1120.5 L325.8 1122.5 L326.5 1124.9 L327.3 1127.3 L328.0 1129.8 L328.7 1132.4 L329.4 1134.8 L330.1 1137.1 L330.6 1139.1 L331.1 1140.8 L331.5 1142.1 L332.5 1141.9 L332.3 1140.5 L332.0 1138.8 L331.7 1136.7 L331.3 1134.4 L330.9 1131.9 L330.5 1129.3 L330.1 1126.7 L329.6 1124.1 L329.2 1121.7 L328.8 1119.5 L328.4 1117.5 L328.0 1115.3 L327.5 1113.1 L327.1 1111.0 L326.6 1108.9 L326.2 1107.0 L325.8 1105.2 L325.4 1103.6 L325.1 1102.2 L324.9 1101.2Z" fill="#e2745c"/><path d="M339.1 1114.1 L339.9 1113.3 L340.8 1112.1 L341.9 1110.9 L343.0 1109.5 L344.2 1108.1 L345.4 1106.6 L346.8 1105.3 L348.2 1104.0 L349.6 1103.0 L351.0 1102.2 L352.6 1101.5 L354.3 1100.8 L356.0 1100.2 L357.8 1099.7 L359.8 1099.3 L361.8 1099.0 L364.0 1098.7 L366.3 1098.6 L368.8 1098.6 L371.4 1098.7 L374.4 1098.9 L377.9 1099.4 L381.8 1100.1 L385.8 1100.9 L389.9 1101.8 L393.9 1102.7 L397.6 1103.6 L400.9 1104.4 L403.8 1105.0 L405.9 1105.5 L406.1 1104.5 L404.0 1103.9 L401.3 1103.1 L398.0 1102.1 L394.3 1101.0 L390.4 1099.8 L386.4 1098.6 L382.4 1097.6 L378.5 1096.6 L374.9 1095.8 L371.8 1095.3 L369.0 1095.1 L366.3 1094.9 L363.8 1094.9 L361.4 1095.0 L359.1 1095.2 L357.0 1095.5 L354.9 1096.0 L352.9 1096.5 L350.9 1097.1 L349.0 1097.8 L347.0 1098.8 L345.1 1100.0 L343.3 1101.4 L341.7 1102.8 L340.1 1104.3 L338.7 1105.8 L337.5 1107.1 L336.4 1108.3 L335.6 1109.2 L334.9 1109.9Z" fill="#e2745c"/><path d="M400.8 1154.4 L402.0 1153.9 L403.4 1153.3 L405.1 1152.7 L406.9 1151.9 L408.9 1151.1 L411.1 1150.3 L413.3 1149.5 L415.6 1148.8 L417.9 1148.1 L420.2 1147.6 L422.8 1147.2 L425.6 1146.9 L428.7 1146.6 L432.0 1146.3 L435.3 1146.1 L438.4 1146.0 L441.4 1145.8 L444.1 1145.7 L446.3 1145.6 L448.0 1145.5 L448.0 1144.5 L446.3 1144.5 L444.1 1144.4 L441.4 1144.3 L438.4 1144.2 L435.2 1144.1 L431.9 1144.0 L428.6 1144.0 L425.4 1144.0 L422.5 1144.2 L419.8 1144.4 L417.2 1144.7 L414.7 1145.2 L412.2 1145.7 L409.8 1146.4 L407.6 1147.0 L405.4 1147.7 L403.5 1148.3 L401.8 1148.9 L400.4 1149.3 L399.2 1149.6Z" fill="#e2745c"/><path d="M567.8 816.8 L568.3 818.6 L569.0 820.9 L569.8 823.6 L570.7 826.7 L571.7 830.0 L572.8 833.5 L573.9 837.2 L575.1 841.0 L576.4 844.8 L577.6 848.6 L579.0 852.5 L580.5 856.6 L582.1 860.9 L583.7 865.3 L585.4 869.7 L587.1 874.1 L588.7 878.4 L590.2 882.5 L591.5 886.5 L592.7 890.1 L593.7 893.5 L594.5 896.7 L595.3 899.7 L595.9 902.6 L596.5 905.4 L597.1 908.2 L597.6 911.2 L598.1 914.2 L598.7 917.4 L599.3 920.8 L600.0 924.5 L600.6 928.2 L601.3 932.1 L601.9 936.1 L602.6 940.1 L603.2 944.2 L603.8 948.3 L604.4 952.4 L604.9 956.5 L605.4 960.5 L605.8 964.4 L606.2 968.3 L606.5 972.2 L606.9 976.1 L607.1 980.0 L607.4 984.0 L607.7 988.0 L608.1 992.1 L608.4 996.2 L608.9 1000.4 L609.4 1004.8 L610.2 1009.4 L611.0 1014.1 L611.9 1018.8 L612.7 1023.4 L613.4 1027.9 L614.0 1032.3 L614.4 1036.3 L614.6 1040.1 L614.4 1043.4 L614.0 1046.2 L613.2 1048.6 L612.2 1050.8 L611.0 1052.9 L609.7 1055.1 L608.1 1057.2 L606.5 1059.6 L604.9 1062.2 L603.3 1065.2 L602.0 1068.5 L600.8 1072.0 L599.7 1075.6 L598.6 1079.4 L597.6 1083.4 L596.6 1087.5 L595.6 1091.6 L594.7 1095.7 L593.8 1099.8 L592.9 1103.8 L592.0 1107.8 L591.2 1111.6 L590.4 1115.2 L589.7 1118.8 L588.9 1122.3 L588.2 1125.9 L587.5 1129.6 L586.9 1133.4 L586.2 1137.5 L585.5 1141.9 L584.8 1146.7 L584.0 1152.1 L583.2 1158.3 L582.4 1165.1 L581.6 1172.1 L580.8 1179.2 L580.0 1186.1 L579.3 1192.5 L578.7 1198.3 L578.1 1203.1 L577.7 1206.8 L580.7 1207.2 L581.2 1203.5 L581.9 1198.7 L582.6 1192.9 L583.5 1186.5 L584.4 1179.6 L585.4 1172.6 L586.4 1165.6 L587.4 1158.9 L588.3 1152.7 L589.2 1147.3 L590.0 1142.7 L590.8 1138.3 L591.6 1134.3 L592.4 1130.5 L593.2 1126.9 L593.9 1123.4 L594.7 1119.9 L595.6 1116.4 L596.4 1112.8 L597.4 1109.0 L598.3 1105.1 L599.3 1101.1 L600.3 1097.0 L601.4 1093.0 L602.4 1088.9 L603.5 1085.0 L604.6 1081.1 L605.7 1077.4 L606.9 1073.9 L608.0 1070.7 L609.2 1068.0 L610.6 1065.6 L612.0 1063.3 L613.6 1061.2 L615.3 1059.0 L616.9 1056.6 L618.4 1054.1 L619.8 1051.2 L620.9 1047.9 L621.6 1044.2 L621.9 1040.2 L621.8 1035.9 L621.5 1031.5 L621.0 1026.9 L620.3 1022.2 L619.6 1017.5 L618.8 1012.8 L618.1 1008.2 L617.6 1003.8 L617.1 999.6 L616.8 995.5 L616.5 991.4 L616.3 987.4 L616.1 983.5 L615.9 979.5 L615.7 975.5 L615.5 971.6 L615.3 967.6 L615.0 963.6 L614.6 959.5 L614.2 955.4 L613.8 951.3 L613.3 947.1 L612.8 942.9 L612.3 938.8 L611.7 934.7 L611.2 930.6 L610.6 926.7 L610.0 922.8 L609.5 919.2 L608.9 915.7 L608.5 912.5 L608.0 909.4 L607.5 906.4 L607.0 903.4 L606.5 900.4 L605.8 897.3 L605.1 894.1 L604.3 890.7 L603.3 887.1 L602.2 883.1 L600.9 878.9 L599.4 874.6 L597.9 870.2 L596.3 865.7 L594.8 861.2 L593.2 856.8 L591.8 852.6 L590.4 848.6 L589.2 844.8 L588.1 841.1 L587.0 837.4 L585.9 833.7 L584.8 830.0 L583.9 826.5 L583.0 823.2 L582.1 820.1 L581.4 817.4 L580.8 815.0 L580.2 813.2Z" fill="#e2745c"/><path d="M575.0 826.0 L576.8 827.3 L579.2 829.0 L582.1 831.1 L585.3 833.4 L588.8 835.9 L592.4 838.5 L596.0 841.0 L599.6 843.4 L602.9 845.7 L606.0 847.6 L609.0 849.3 L612.1 851.0 L615.1 852.5 L618.1 854.0 L621.0 855.3 L623.8 856.6 L626.3 857.7 L628.5 858.7 L630.4 859.5 L631.9 860.2 L634.1 855.8 L632.7 855.0 L630.8 854.0 L628.7 852.8 L626.3 851.5 L623.7 850.1 L621.0 848.5 L618.2 846.9 L615.4 845.2 L612.6 843.4 L610.0 841.6 L607.2 839.6 L604.1 837.2 L600.8 834.6 L597.5 831.8 L594.1 829.0 L590.9 826.3 L587.8 823.7 L585.1 821.4 L582.8 819.5 L581.0 818.0Z" fill="#e2745c"/><path d="M599.9 922.4 L598.9 923.8 L597.5 925.5 L595.8 927.5 L593.9 929.8 L591.8 932.3 L589.7 934.9 L587.5 937.7 L585.4 940.5 L583.4 943.3 L581.6 946.1 L579.9 948.7 L578.2 951.3 L576.5 954.0 L574.8 956.7 L573.1 959.6 L571.5 962.5 L570.0 965.6 L568.6 968.8 L567.3 972.2 L566.2 975.8 L565.3 979.4 L564.6 983.0 L564.0 986.6 L563.6 990.3 L563.2 994.2 L562.9 998.2 L562.7 1002.5 L562.4 1007.2 L562.1 1012.3 L561.7 1017.8 L561.3 1024.3 L560.9 1031.9 L560.5 1040.3 L560.0 1049.1 L559.6 1058.0 L559.2 1066.7 L558.8 1074.9 L558.5 1082.2 L558.2 1088.3 L558.0 1093.0 L559.0 1093.0 L559.4 1088.4 L559.9 1082.3 L560.5 1075.0 L561.2 1066.9 L562.0 1058.2 L562.7 1049.3 L563.5 1040.5 L564.3 1032.2 L565.0 1024.6 L565.7 1018.2 L566.2 1012.6 L566.7 1007.5 L567.2 1002.9 L567.6 998.6 L568.1 994.6 L568.6 990.9 L569.1 987.4 L569.8 984.0 L570.6 980.7 L571.6 977.4 L572.7 974.2 L574.0 971.1 L575.4 968.2 L576.9 965.4 L578.5 962.7 L580.2 960.1 L581.9 957.5 L583.7 955.0 L585.5 952.4 L587.2 949.9 L589.0 947.4 L591.0 944.8 L593.2 942.2 L595.4 939.6 L597.5 937.1 L599.6 934.8 L601.6 932.6 L603.4 930.6 L604.9 928.9 L606.1 927.6Z" fill="#e2745c"/><path d="M568.4 974.2 L567.2 974.4 L565.7 974.7 L563.9 975.1 L561.8 975.5 L559.5 976.0 L557.0 976.6 L554.6 977.3 L552.1 978.1 L549.7 979.2 L547.4 980.4 L545.2 981.9 L542.9 983.8 L540.5 985.9 L538.2 988.2 L535.9 990.5 L533.7 992.8 L531.7 994.9 L529.9 996.8 L528.3 998.4 L527.2 999.6 L527.8 1000.4 L529.1 999.3 L530.8 997.8 L532.7 996.0 L534.9 994.0 L537.3 992.0 L539.7 989.9 L542.2 987.8 L544.6 986.0 L546.9 984.4 L549.0 983.2 L551.1 982.3 L553.3 981.6 L555.6 981.0 L557.9 980.5 L560.2 980.2 L562.5 979.9 L564.5 979.7 L566.4 979.5 L568.1 979.3 L569.4 979.0Z" fill="#e2745c"/><path d="M561.8 1016.4 L560.9 1017.5 L559.8 1018.8 L558.5 1020.5 L557.0 1022.3 L555.4 1024.3 L553.7 1026.4 L552.0 1028.6 L550.2 1030.8 L548.5 1032.9 L546.8 1035.0 L545.1 1037.1 L543.2 1039.4 L541.3 1041.9 L539.3 1044.4 L537.3 1046.8 L535.4 1049.2 L533.6 1051.4 L532.0 1053.4 L530.7 1055.1 L529.6 1056.4 L530.4 1057.0 L531.5 1055.8 L533.0 1054.3 L534.7 1052.4 L536.7 1050.3 L538.8 1048.1 L540.9 1045.8 L543.1 1043.5 L545.3 1041.2 L547.3 1039.0 L549.2 1037.0 L551.0 1035.1 L552.9 1033.1 L554.8 1031.1 L556.7 1029.1 L558.6 1027.1 L560.3 1025.2 L561.9 1023.5 L563.4 1022.0 L564.6 1020.7 L565.6 1019.6Z" fill="#e2745c"/><path d="M605.7 927.8 L607.5 928.4 L609.8 929.0 L612.5 929.8 L615.5 930.6 L618.7 931.6 L622.0 932.6 L625.4 933.7 L628.6 935.0 L631.7 936.4 L634.5 937.8 L637.1 939.5 L639.8 941.2 L642.5 943.1 L645.2 945.2 L647.9 947.3 L650.5 949.6 L653.1 951.9 L655.6 954.4 L658.1 957.0 L660.5 959.6 L662.9 962.6 L665.4 965.9 L668.0 969.6 L670.5 973.4 L672.9 977.2 L675.2 981.0 L677.4 984.5 L679.3 987.6 L680.9 990.3 L682.2 992.3 L683.0 991.7 L681.9 989.7 L680.5 986.9 L678.8 983.7 L676.9 980.1 L674.8 976.2 L672.6 972.1 L670.3 968.1 L668.0 964.2 L665.6 960.6 L663.3 957.4 L661.0 954.4 L658.6 951.6 L656.2 948.9 L653.6 946.3 L651.1 943.7 L648.5 941.3 L645.8 939.0 L643.1 936.8 L640.3 934.7 L637.5 932.8 L634.5 930.9 L631.3 929.2 L627.9 927.6 L624.4 926.2 L621.0 924.8 L617.8 923.7 L614.8 922.6 L612.2 921.7 L610.0 920.9 L608.3 920.2Z" fill="#e2745c"/><path d="M615.9 1046.6 L617.5 1047.7 L619.5 1049.1 L621.9 1050.8 L624.6 1052.7 L627.5 1054.7 L630.6 1056.8 L633.7 1058.8 L636.8 1060.8 L639.8 1062.6 L642.6 1064.1 L645.3 1065.4 L648.0 1066.6 L650.6 1067.8 L653.2 1068.8 L655.8 1069.8 L658.5 1070.6 L661.1 1071.4 L663.8 1072.2 L666.5 1072.8 L669.3 1073.4 L672.2 1073.9 L675.4 1074.4 L678.7 1074.7 L682.0 1074.9 L685.3 1075.1 L688.5 1075.2 L691.4 1075.3 L694.1 1075.3 L696.3 1075.4 L698.0 1075.5 L698.0 1074.5 L696.3 1074.3 L694.1 1074.1 L691.5 1073.8 L688.6 1073.5 L685.5 1073.2 L682.2 1072.8 L679.0 1072.4 L675.7 1071.8 L672.7 1071.2 L669.9 1070.6 L667.3 1069.8 L664.7 1069.0 L662.2 1068.1 L659.7 1067.2 L657.2 1066.1 L654.8 1065.0 L652.3 1063.9 L649.9 1062.6 L647.4 1061.3 L645.0 1059.9 L642.4 1058.3 L639.7 1056.4 L636.8 1054.3 L633.9 1052.1 L631.1 1049.8 L628.3 1047.7 L625.8 1045.6 L623.5 1043.7 L621.6 1042.2 L620.1 1041.0Z" fill="#e2745c"/><path d="M660.8 1071.6 L661.9 1072.4 L663.4 1073.5 L665.1 1074.7 L667.1 1076.0 L669.2 1077.5 L671.3 1079.1 L673.4 1080.7 L675.5 1082.4 L677.4 1084.1 L679.0 1085.8 L680.6 1087.7 L682.2 1089.8 L683.8 1092.1 L685.4 1094.5 L686.9 1096.9 L688.3 1099.2 L689.6 1101.4 L690.8 1103.3 L691.8 1105.0 L692.6 1106.3 L693.4 1105.7 L692.7 1104.5 L691.8 1102.8 L690.8 1100.7 L689.6 1098.5 L688.4 1096.0 L687.0 1093.5 L685.5 1091.0 L684.0 1088.5 L682.5 1086.2 L681.0 1084.2 L679.3 1082.2 L677.4 1080.3 L675.4 1078.4 L673.3 1076.6 L671.2 1074.9 L669.2 1073.2 L667.3 1071.7 L665.7 1070.4 L664.3 1069.3 L663.2 1068.4Z" fill="#e2745c"/><path d="M592.1 1109.9 L593.0 1111.4 L594.2 1113.3 L595.5 1115.6 L597.1 1118.1 L598.8 1120.9 L600.6 1123.8 L602.5 1126.7 L604.4 1129.7 L606.3 1132.5 L608.3 1135.2 L610.3 1137.8 L612.5 1140.5 L614.8 1143.2 L617.2 1145.9 L619.6 1148.6 L622.0 1151.2 L624.3 1153.8 L626.4 1156.2 L628.4 1158.5 L630.1 1160.6 L631.7 1162.6 L633.1 1164.6 L634.4 1166.5 L635.6 1168.3 L636.7 1170.0 L637.7 1171.6 L638.5 1173.0 L639.3 1174.3 L640.0 1175.4 L640.6 1176.3 L641.4 1175.7 L640.9 1174.8 L640.3 1173.7 L639.6 1172.4 L638.8 1170.9 L637.9 1169.3 L636.9 1167.5 L635.8 1165.6 L634.6 1163.6 L633.3 1161.5 L631.9 1159.4 L630.2 1157.1 L628.4 1154.6 L626.4 1152.1 L624.2 1149.4 L622.0 1146.6 L619.8 1143.8 L617.6 1141.0 L615.5 1138.2 L613.5 1135.4 L611.7 1132.8 L610.0 1130.1 L608.3 1127.2 L606.6 1124.2 L604.9 1121.2 L603.3 1118.3 L601.8 1115.4 L600.4 1112.8 L599.2 1110.5 L598.1 1108.5 L597.3 1106.9Z" fill="#e2745c"/><path d="M589.6 1118.8 L590.4 1120.7 L591.3 1123.3 L592.4 1126.3 L593.7 1129.7 L595.0 1133.3 L596.4 1137.0 L597.8 1140.7 L599.1 1144.3 L600.3 1147.6 L601.4 1150.5 L602.3 1153.2 L603.2 1155.6 L604.0 1157.9 L604.8 1160.1 L605.5 1162.3 L606.2 1164.4 L606.9 1166.5 L607.6 1168.7 L608.2 1170.9 L608.9 1173.3 L609.6 1175.8 L610.3 1178.6 L611.0 1181.6 L611.7 1184.6 L612.4 1187.6 L613.0 1190.5 L613.6 1193.1 L614.1 1195.5 L614.6 1197.5 L614.9 1199.1 L615.9 1198.9 L615.6 1197.3 L615.3 1195.3 L614.9 1192.9 L614.4 1190.2 L613.9 1187.3 L613.4 1184.3 L612.8 1181.2 L612.2 1178.2 L611.7 1175.4 L611.1 1172.7 L610.5 1170.3 L610.0 1168.0 L609.4 1165.8 L608.8 1163.6 L608.2 1161.5 L607.6 1159.3 L606.9 1157.0 L606.2 1154.6 L605.4 1152.1 L604.6 1149.5 L603.7 1146.5 L602.6 1143.1 L601.5 1139.4 L600.3 1135.6 L599.1 1131.9 L597.9 1128.2 L596.8 1124.8 L595.8 1121.7 L595.0 1119.1 L594.4 1117.2Z" fill="#e2745c"/><path d="M421.9 854.0 L421.5 855.9 L420.9 858.5 L420.2 861.6 L419.5 864.9 L418.7 868.5 L417.8 872.2 L416.9 875.8 L416.0 879.1 L415.2 882.1 L414.3 884.6 L413.5 886.7 L412.7 888.7 L411.8 890.4 L411.0 891.9 L410.2 893.3 L409.3 894.7 L408.4 896.0 L407.3 897.3 L406.2 898.6 L405.0 900.0 L403.7 901.4 L402.4 902.7 L400.9 904.0 L399.4 905.3 L397.7 906.6 L396.0 907.8 L394.3 909.1 L392.5 910.4 L390.7 911.7 L388.9 913.1 L387.1 914.4 L385.4 915.6 L383.6 916.9 L381.7 918.1 L379.9 919.3 L378.0 920.6 L376.0 921.9 L374.1 923.3 L372.0 924.7 L370.0 926.2 L367.9 927.8 L365.7 929.5 L363.5 931.2 L361.3 932.9 L359.0 934.7 L356.8 936.5 L354.5 938.3 L352.3 940.0 L350.1 941.8 L348.0 943.5 L346.0 945.1 L343.9 946.7 L341.9 948.2 L339.9 949.8 L337.9 951.4 L335.9 952.9 L333.9 954.6 L331.9 956.2 L329.9 958.0 L327.9 959.8 L326.0 961.7 L324.0 963.7 L322.1 965.8 L320.1 967.9 L318.2 970.1 L316.4 972.2 L314.6 974.3 L312.9 976.4 L311.3 978.4 L309.8 980.3 L308.5 982.1 L307.2 983.8 L306.1 985.5 L305.1 987.1 L304.2 988.7 L303.3 990.3 L302.4 991.8 L301.6 993.4 L300.7 995.0 L299.7 996.7 L298.7 998.4 L297.7 1000.1 L296.7 1001.9 L295.6 1003.7 L294.5 1005.6 L293.5 1007.5 L292.5 1009.4 L291.5 1011.5 L290.6 1013.6 L289.7 1015.7 L288.9 1018.0 L288.2 1020.3 L287.6 1022.7 L287.0 1025.1 L286.4 1027.6 L285.9 1030.0 L285.3 1032.4 L284.8 1034.8 L284.3 1037.2 L283.8 1039.5 L283.3 1041.8 L282.7 1044.1 L282.2 1046.4 L281.7 1048.7 L281.1 1051.0 L280.6 1053.2 L280.2 1055.4 L279.7 1057.6 L279.3 1059.6 L279.0 1061.6 L278.6 1063.6 L278.3 1065.5 L278.1 1067.5 L277.9 1069.4 L277.7 1071.2 L277.5 1072.8 L277.4 1074.4 L277.3 1075.7 L277.2 1076.9 L277.1 1077.8 L280.9 1078.2 L281.1 1077.3 L281.2 1076.1 L281.3 1074.8 L281.5 1073.2 L281.7 1071.6 L281.9 1069.8 L282.1 1068.0 L282.4 1066.1 L282.7 1064.2 L283.0 1062.4 L283.4 1060.5 L283.9 1058.4 L284.3 1056.3 L284.8 1054.2 L285.4 1052.0 L285.9 1049.7 L286.5 1047.4 L287.0 1045.1 L287.6 1042.8 L288.2 1040.5 L288.8 1038.2 L289.3 1035.8 L289.9 1033.4 L290.4 1031.0 L291.0 1028.6 L291.6 1026.3 L292.2 1023.9 L292.8 1021.7 L293.5 1019.5 L294.3 1017.5 L295.1 1015.5 L296.0 1013.6 L296.9 1011.7 L297.9 1009.9 L299.0 1008.1 L300.0 1006.3 L301.1 1004.6 L302.2 1002.8 L303.2 1001.1 L304.3 999.3 L305.3 997.6 L306.2 996.0 L307.1 994.4 L307.9 992.9 L308.8 991.5 L309.7 990.0 L310.7 988.5 L311.7 987.0 L312.9 985.4 L314.2 983.7 L315.6 981.9 L317.2 980.0 L318.9 978.0 L320.7 976.0 L322.5 973.9 L324.4 971.9 L326.3 969.8 L328.3 967.9 L330.2 966.0 L332.1 964.2 L333.9 962.5 L335.8 960.9 L337.7 959.3 L339.7 957.8 L341.6 956.3 L343.6 954.8 L345.7 953.3 L347.7 951.7 L349.8 950.1 L352.0 948.5 L354.1 946.9 L356.3 945.2 L358.6 943.4 L360.8 941.7 L363.1 939.9 L365.4 938.2 L367.6 936.5 L369.8 934.9 L371.9 933.3 L374.0 931.8 L376.0 930.4 L378.0 929.0 L379.9 927.7 L381.9 926.5 L383.8 925.2 L385.7 924.0 L387.5 922.8 L389.4 921.5 L391.3 920.2 L393.1 918.9 L394.9 917.6 L396.7 916.4 L398.5 915.1 L400.4 913.8 L402.2 912.5 L404.0 911.1 L405.7 909.7 L407.4 908.3 L409.1 906.7 L410.6 905.2 L412.0 903.6 L413.2 902.1 L414.5 900.6 L415.6 899.1 L416.7 897.5 L417.8 895.7 L418.8 893.9 L419.8 891.9 L420.7 889.8 L421.7 887.4 L422.7 884.6 L423.7 881.3 L424.7 877.8 L425.7 874.1 L426.6 870.4 L427.5 866.8 L428.3 863.4 L429.0 860.4 L429.6 857.9 L430.1 856.0Z" fill="#f4b6a0" opacity="0.75" filter="url(#b1_2)"/><path d="M397.6 913.5 L398.3 914.5 L399.2 915.9 L400.2 917.6 L401.4 919.5 L402.6 921.5 L404.0 923.6 L405.5 925.7 L407.0 927.8 L408.6 929.8 L410.2 931.6 L411.9 933.2 L413.5 934.8 L415.2 936.4 L417.0 937.9 L418.8 939.4 L420.7 940.9 L422.7 942.2 L424.8 943.5 L427.0 944.7 L429.2 945.7 L431.4 946.7 L433.6 947.5 L435.9 948.2 L438.2 948.9 L440.6 949.4 L443.0 949.9 L445.7 950.3 L448.5 950.7 L451.5 951.1 L454.8 951.4 L458.6 951.7 L462.7 951.9 L467.2 952.0 L471.9 952.0 L476.7 952.1 L481.4 952.1 L486.0 952.1 L490.4 952.2 L494.4 952.4 L497.9 952.6 L501.1 952.9 L504.0 953.4 L506.7 953.8 L509.3 954.4 L511.6 954.9 L513.7 955.5 L515.6 956.0 L517.3 956.5 L518.7 956.9 L520.0 957.1 L520.0 956.9 L518.8 956.5 L517.4 956.1 L515.7 955.5 L513.9 955.0 L511.8 954.3 L509.5 953.7 L506.9 953.0 L504.2 952.4 L501.2 951.9 L498.1 951.4 L494.5 951.0 L490.5 950.7 L486.1 950.5 L481.5 950.3 L476.7 950.1 L471.9 949.8 L467.3 949.6 L462.9 949.3 L458.8 949.0 L455.2 948.6 L451.9 948.1 L449.0 947.6 L446.2 947.2 L443.7 946.6 L441.3 946.1 L439.1 945.5 L437.0 944.8 L434.9 944.0 L432.9 943.2 L430.8 942.3 L428.8 941.2 L426.9 940.0 L425.1 938.8 L423.3 937.5 L421.5 936.1 L419.9 934.6 L418.3 933.1 L416.7 931.5 L415.2 930.0 L413.8 928.4 L412.4 926.7 L411.0 924.9 L409.7 922.9 L408.4 920.8 L407.1 918.8 L405.9 916.7 L404.9 914.8 L403.9 913.1 L403.1 911.6 L402.4 910.5Z" fill="#f4b6a0" opacity="0.75" filter="url(#b1_2)"/><path d="M454.3 953.0 L455.4 953.8 L456.8 954.7 L458.4 955.9 L460.3 957.2 L462.3 958.7 L464.4 960.1 L466.5 961.6 L468.6 963.1 L470.7 964.4 L472.5 965.7 L474.3 966.8 L476.1 968.0 L477.9 969.0 L479.7 970.1 L481.5 971.2 L483.2 972.2 L484.9 973.2 L486.6 974.3 L488.2 975.3 L489.7 976.4 L491.3 977.5 L492.8 978.7 L494.4 979.9 L495.9 981.2 L497.4 982.4 L498.8 983.6 L500.0 984.7 L501.2 985.6 L502.1 986.5 L502.9 987.1 L503.1 986.9 L502.4 986.2 L501.4 985.4 L500.3 984.3 L499.1 983.2 L497.7 982.0 L496.3 980.7 L494.8 979.4 L493.3 978.1 L491.8 976.8 L490.3 975.6 L488.7 974.5 L487.2 973.4 L485.5 972.3 L483.9 971.2 L482.1 970.1 L480.4 969.0 L478.7 967.8 L476.9 966.7 L475.2 965.5 L473.5 964.3 L471.7 963.0 L469.7 961.6 L467.7 960.1 L465.6 958.5 L463.6 957.0 L461.6 955.5 L459.8 954.1 L458.2 952.9 L456.8 951.8 L455.7 951.0Z" fill="#f4b6a0" opacity="0.75" filter="url(#b1_2)"/><path d="M311.3 1001.6 L313.4 1002.5 L316.1 1003.6 L319.2 1004.9 L322.8 1006.4 L326.6 1007.9 L330.6 1009.6 L334.7 1011.3 L338.8 1012.9 L342.8 1014.4 L346.5 1015.8 L350.1 1017.2 L353.7 1018.5 L357.3 1019.9 L360.9 1021.2 L364.6 1022.6 L368.2 1023.8 L371.9 1025.1 L375.5 1026.2 L379.1 1027.2 L382.7 1028.0 L386.2 1028.8 L389.3 1029.5 L392.3 1030.1 L395.3 1030.7 L398.4 1031.1 L401.6 1031.5 L405.1 1031.7 L408.9 1031.9 L413.2 1031.9 L418.0 1031.8 L423.8 1031.4 L430.6 1030.8 L438.2 1030.1 L446.1 1029.2 L454.2 1028.2 L462.2 1027.2 L469.6 1026.2 L476.3 1025.4 L481.8 1024.7 L486.0 1024.1 L486.0 1023.9 L481.8 1024.3 L476.2 1024.9 L469.5 1025.6 L462.1 1026.5 L454.1 1027.3 L446.0 1028.2 L438.1 1028.9 L430.5 1029.5 L423.7 1030.0 L418.0 1030.2 L413.2 1030.3 L408.9 1030.2 L405.2 1030.0 L401.8 1029.7 L398.6 1029.3 L395.7 1028.8 L392.7 1028.2 L389.8 1027.5 L386.6 1026.8 L383.3 1026.0 L379.7 1025.0 L376.2 1024.0 L372.6 1022.8 L369.0 1021.6 L365.4 1020.2 L361.8 1018.9 L358.2 1017.4 L354.6 1016.0 L351.1 1014.6 L347.5 1013.2 L343.8 1011.7 L339.9 1010.1 L335.9 1008.4 L331.9 1006.7 L327.9 1005.0 L324.1 1003.3 L320.6 1001.8 L317.4 1000.4 L314.8 999.3 L312.7 998.4Z" fill="#f4b6a0" opacity="0.75" filter="url(#b1_2)"/><path d="M362.1 1015.0 L364.0 1014.9 L366.3 1014.6 L369.1 1014.4 L372.1 1014.0 L375.5 1013.7 L379.1 1013.4 L382.9 1013.1 L386.9 1012.9 L390.9 1012.7 L395.0 1012.7 L399.5 1012.7 L404.5 1012.9 L410.0 1013.1 L415.8 1013.4 L421.5 1013.8 L427.1 1014.1 L432.4 1014.4 L437.1 1014.7 L441.0 1015.0 L444.0 1015.1 L444.0 1014.9 L441.0 1014.6 L437.1 1014.3 L432.4 1013.9 L427.2 1013.4 L421.6 1013.0 L415.8 1012.5 L410.1 1012.1 L404.6 1011.7 L399.5 1011.5 L395.0 1011.3 L390.9 1011.3 L386.8 1011.3 L382.8 1011.5 L379.0 1011.7 L375.4 1011.9 L372.0 1012.2 L368.9 1012.4 L366.1 1012.6 L363.8 1012.8 L361.9 1013.0Z" fill="#f4b6a0" opacity="0.75" filter="url(#b1_2)"/><path d="M279.5 1067.2 L280.3 1068.1 L281.2 1069.3 L282.3 1070.7 L283.5 1072.3 L284.9 1074.0 L286.5 1075.8 L288.1 1077.7 L289.9 1079.6 L291.8 1081.5 L293.9 1083.3 L296.0 1085.1 L298.2 1086.8 L300.5 1088.5 L302.9 1090.2 L305.4 1091.9 L308.1 1093.7 L310.9 1095.6 L313.8 1097.7 L316.9 1099.8 L320.1 1102.2 L323.6 1104.7 L327.3 1107.5 L331.3 1110.5 L335.4 1113.6 L339.6 1116.9 L343.9 1120.1 L348.2 1123.3 L352.5 1126.5 L356.8 1129.5 L360.9 1132.4 L365.0 1135.2 L369.0 1138.0 L373.0 1140.7 L377.0 1143.3 L381.0 1146.0 L385.0 1148.5 L389.1 1151.0 L393.2 1153.4 L397.4 1155.8 L401.7 1158.0 L406.4 1160.2 L411.4 1162.4 L416.7 1164.6 L422.1 1166.7 L427.4 1168.7 L432.5 1170.6 L437.3 1172.3 L441.6 1173.8 L445.2 1175.1 L447.9 1176.1 L448.1 1175.9 L445.3 1174.8 L441.7 1173.4 L437.5 1171.8 L432.8 1170.0 L427.7 1168.0 L422.4 1166.0 L417.0 1163.8 L411.8 1161.5 L406.8 1159.2 L402.3 1157.0 L398.0 1154.7 L393.9 1152.3 L389.8 1149.8 L385.8 1147.3 L381.8 1144.6 L377.9 1142.0 L374.0 1139.2 L370.0 1136.4 L366.1 1133.6 L362.1 1130.8 L358.0 1127.8 L353.8 1124.7 L349.6 1121.5 L345.3 1118.2 L341.1 1114.9 L336.9 1111.6 L332.9 1108.4 L329.0 1105.4 L325.3 1102.5 L321.9 1099.8 L318.6 1097.4 L315.6 1095.2 L312.6 1093.1 L309.9 1091.1 L307.3 1089.3 L304.8 1087.5 L302.4 1085.8 L300.2 1084.1 L298.1 1082.4 L296.1 1080.7 L294.3 1078.9 L292.5 1077.1 L290.8 1075.3 L289.3 1073.4 L287.8 1071.6 L286.5 1069.9 L285.3 1068.4 L284.2 1067.0 L283.3 1065.7 L282.5 1064.8Z" fill="#f4b6a0" opacity="0.75" filter="url(#b1_2)"/><path d="M321.0 1102.3 L321.3 1103.3 L321.7 1104.7 L322.2 1106.2 L322.8 1108.0 L323.3 1109.9 L324.0 1111.9 L324.6 1113.9 L325.2 1116.0 L325.8 1118.1 L326.4 1120.2 L326.9 1122.3 L327.6 1124.6 L328.2 1127.1 L328.8 1129.7 L329.5 1132.2 L330.1 1134.7 L330.6 1136.9 L331.1 1139.0 L331.5 1140.7 L331.9 1142.0 L332.1 1142.0 L331.9 1140.6 L331.5 1138.9 L331.1 1136.8 L330.7 1134.5 L330.2 1132.0 L329.7 1129.5 L329.1 1126.9 L328.6 1124.4 L328.1 1122.0 L327.6 1119.8 L327.1 1117.8 L326.6 1115.7 L326.1 1113.5 L325.6 1111.4 L325.0 1109.4 L324.5 1107.5 L324.1 1105.7 L323.6 1104.1 L323.3 1102.8 L323.0 1101.7Z" fill="#f4b6a0" opacity="0.75" filter="url(#b1_2)"/><path d="M337.8 1112.7 L338.5 1111.9 L339.4 1110.9 L340.4 1109.7 L341.6 1108.3 L342.9 1106.8 L344.2 1105.4 L345.7 1104.0 L347.2 1102.7 L348.7 1101.6 L350.4 1100.8 L352.0 1100.0 L353.8 1099.4 L355.6 1098.8 L357.6 1098.4 L359.6 1098.0 L361.7 1097.7 L363.9 1097.5 L366.3 1097.4 L368.9 1097.4 L371.5 1097.6 L374.6 1097.9 L378.1 1098.5 L382.0 1099.3 L386.0 1100.2 L390.1 1101.1 L394.0 1102.1 L397.7 1103.1 L401.1 1103.9 L403.9 1104.6 L406.0 1105.1 L406.0 1104.9 L403.9 1104.3 L401.2 1103.5 L397.9 1102.6 L394.2 1101.6 L390.2 1100.5 L386.2 1099.4 L382.2 1098.4 L378.3 1097.5 L374.8 1096.9 L371.7 1096.4 L368.9 1096.2 L366.3 1096.1 L363.9 1096.1 L361.6 1096.3 L359.4 1096.5 L357.3 1096.9 L355.2 1097.4 L353.3 1097.9 L351.5 1098.5 L349.6 1099.2 L347.9 1100.2 L346.1 1101.3 L344.5 1102.6 L342.9 1104.1 L341.4 1105.5 L340.1 1107.0 L338.9 1108.3 L337.9 1109.6 L337.0 1110.5 L336.2 1111.3Z" fill="#f4b6a0" opacity="0.75" filter="url(#b1_2)"/><path d="M571.8 815.6 L572.4 817.5 L573.0 819.8 L573.8 822.5 L574.7 825.5 L575.7 828.8 L576.7 832.4 L577.8 836.1 L579.0 839.8 L580.2 843.6 L581.4 847.4 L582.7 851.2 L584.2 855.3 L585.7 859.6 L587.3 863.9 L589.0 868.4 L590.6 872.8 L592.2 877.1 L593.7 881.4 L595.0 885.4 L596.2 889.1 L597.1 892.6 L598.0 895.9 L598.7 898.9 L599.4 901.9 L599.9 904.8 L600.5 907.6 L601.0 910.6 L601.5 913.6 L602.1 916.9 L602.6 920.3 L603.3 923.9 L603.9 927.7 L604.5 931.6 L605.1 935.6 L605.7 939.7 L606.3 943.8 L606.9 947.9 L607.4 952.1 L607.9 956.1 L608.4 960.2 L608.8 964.1 L609.2 968.1 L609.5 972.0 L609.8 975.9 L610.0 979.9 L610.3 983.8 L610.6 987.8 L610.9 991.9 L611.2 996.0 L611.6 1000.1 L612.1 1004.5 L612.8 1009.0 L613.6 1013.7 L614.4 1018.3 L615.2 1023.0 L615.9 1027.6 L616.5 1032.0 L616.9 1036.2 L617.0 1040.1 L616.8 1043.7 L616.3 1046.8 L615.4 1049.5 L614.3 1051.9 L613.0 1054.2 L611.5 1056.4 L609.9 1058.5 L608.3 1060.8 L606.8 1063.3 L605.3 1066.1 L604.0 1069.2 L602.8 1072.6 L601.7 1076.2 L600.6 1080.0 L599.6 1083.9 L598.6 1088.0 L597.6 1092.0 L596.6 1096.1 L595.6 1100.2 L594.7 1104.3 L593.8 1108.2 L593.0 1112.0 L592.1 1115.6 L591.4 1119.1 L590.6 1122.7 L589.9 1126.2 L589.2 1129.9 L588.5 1133.7 L587.8 1137.8 L587.0 1142.2 L586.3 1146.9 L585.5 1152.3 L584.7 1158.5 L583.8 1165.2 L582.9 1172.3 L582.0 1179.3 L581.2 1186.2 L580.5 1192.7 L579.8 1198.4 L579.2 1203.3 L578.8 1206.9 L579.6 1207.1 L580.1 1203.4 L580.7 1198.6 L581.5 1192.8 L582.3 1186.4 L583.2 1179.5 L584.1 1172.4 L585.1 1165.4 L586.0 1158.7 L586.9 1152.5 L587.7 1147.1 L588.5 1142.4 L589.3 1138.0 L590.0 1134.0 L590.7 1130.2 L591.5 1126.5 L592.3 1123.0 L593.0 1119.5 L593.8 1116.0 L594.7 1112.4 L595.6 1108.6 L596.5 1104.7 L597.5 1100.7 L598.4 1096.6 L599.5 1092.5 L600.5 1088.4 L601.5 1084.5 L602.6 1080.6 L603.7 1076.8 L604.9 1073.3 L606.0 1070.0 L607.3 1067.0 L608.7 1064.5 L610.2 1062.1 L611.8 1059.9 L613.4 1057.7 L614.9 1055.4 L616.4 1053.0 L617.6 1050.3 L618.6 1047.3 L619.2 1043.9 L619.5 1040.2 L619.4 1036.1 L619.0 1031.7 L618.5 1027.2 L617.8 1022.6 L617.0 1017.9 L616.3 1013.2 L615.5 1008.6 L614.9 1004.1 L614.4 999.9 L614.1 995.7 L613.8 991.7 L613.5 987.6 L613.3 983.6 L613.0 979.7 L612.8 975.7 L612.6 971.8 L612.3 967.8 L612.0 963.8 L611.6 959.8 L611.2 955.8 L610.7 951.7 L610.2 947.5 L609.6 943.4 L609.1 939.2 L608.5 935.1 L607.9 931.1 L607.3 927.2 L606.7 923.4 L606.2 919.7 L605.6 916.3 L605.1 913.0 L604.6 910.0 L604.1 907.0 L603.6 904.1 L603.0 901.1 L602.4 898.1 L601.7 895.0 L600.8 891.6 L599.8 888.1 L598.7 884.2 L597.4 880.1 L595.9 875.8 L594.4 871.4 L592.8 867.0 L591.2 862.5 L589.6 858.1 L588.1 853.9 L586.7 849.8 L585.4 846.0 L584.3 842.3 L583.1 838.6 L582.0 834.8 L580.9 831.1 L579.9 827.6 L579.0 824.3 L578.1 821.2 L577.4 818.5 L576.7 816.2 L576.2 814.4Z" fill="#f4b6a0" opacity="0.75" filter="url(#b1_2)"/><path d="M576.9 823.4 L578.8 824.7 L581.1 826.5 L584.0 828.7 L587.1 831.1 L590.5 833.6 L594.1 836.3 L597.6 838.9 L601.1 841.4 L604.4 843.6 L607.4 845.6 L610.2 847.3 L613.2 849.0 L616.2 850.6 L619.1 852.1 L622.0 853.5 L624.6 854.8 L627.1 856.0 L629.3 857.0 L631.2 857.9 L632.7 858.7 L633.3 857.3 L631.9 856.6 L630.0 855.6 L627.9 854.5 L625.4 853.3 L622.8 851.9 L620.0 850.4 L617.1 848.8 L614.3 847.1 L611.4 845.4 L608.6 843.6 L605.8 841.6 L602.6 839.3 L599.2 836.7 L595.8 834.0 L592.3 831.3 L589.0 828.6 L585.9 826.1 L583.2 823.9 L580.9 822.0 L579.1 820.6Z" fill="#f4b6a0" opacity="0.75" filter="url(#b1_2)"/><path d="M601.9 924.1 L600.8 925.4 L599.4 927.1 L597.7 929.1 L595.7 931.4 L593.7 933.9 L591.5 936.5 L589.4 939.2 L587.2 941.9 L585.2 944.7 L583.4 947.3 L581.7 949.9 L580.0 952.5 L578.3 955.1 L576.5 957.8 L574.9 960.6 L573.3 963.5 L571.8 966.4 L570.4 969.6 L569.1 972.9 L568.0 976.3 L567.0 979.8 L566.3 983.3 L565.7 986.9 L565.2 990.5 L564.8 994.3 L564.5 998.3 L564.2 1002.6 L563.8 1007.3 L563.5 1012.4 L563.0 1017.9 L562.5 1024.4 L562.0 1032.0 L561.5 1040.4 L560.9 1049.1 L560.4 1058.1 L559.9 1066.8 L559.4 1074.9 L559.0 1082.2 L558.6 1088.4 L558.4 1093.0 L558.6 1093.0 L559.0 1088.4 L559.4 1082.3 L560.0 1075.0 L560.5 1066.8 L561.2 1058.1 L561.8 1049.2 L562.5 1040.4 L563.2 1032.1 L563.8 1024.5 L564.4 1018.1 L564.9 1012.5 L565.3 1007.4 L565.7 1002.8 L566.1 998.5 L566.5 994.5 L566.9 990.7 L567.5 987.2 L568.1 983.7 L568.9 980.3 L569.8 976.9 L571.0 973.5 L572.2 970.4 L573.6 967.4 L575.1 964.5 L576.7 961.7 L578.4 959.0 L580.1 956.4 L581.9 953.8 L583.7 951.2 L585.4 948.7 L587.2 946.1 L589.2 943.4 L591.3 940.8 L593.5 938.1 L595.7 935.6 L597.8 933.1 L599.7 930.9 L601.5 928.9 L602.9 927.2 L604.1 925.9Z" fill="#f4b6a0" opacity="0.75" filter="url(#b1_2)"/><path d="M606.5 925.3 L608.3 925.9 L610.6 926.6 L613.3 927.4 L616.3 928.4 L619.5 929.4 L622.8 930.5 L626.2 931.7 L629.5 933.1 L632.6 934.6 L635.5 936.2 L638.2 937.9 L640.9 939.8 L643.6 941.8 L646.3 943.9 L648.9 946.1 L651.5 948.5 L654.1 950.9 L656.6 953.5 L659.0 956.1 L661.4 958.9 L663.8 961.9 L666.3 965.4 L668.7 969.1 L671.2 973.0 L673.6 976.9 L675.8 980.7 L677.9 984.2 L679.7 987.4 L681.2 990.0 L682.5 992.1 L682.7 991.9 L681.5 989.9 L680.1 987.2 L678.3 984.0 L676.3 980.4 L674.2 976.5 L671.9 972.6 L669.5 968.6 L667.1 964.8 L664.7 961.2 L662.4 958.1 L660.0 955.3 L657.6 952.5 L655.1 949.9 L652.6 947.3 L650.0 944.9 L647.4 942.6 L644.7 940.3 L642.0 938.2 L639.3 936.3 L636.5 934.4 L633.6 932.7 L630.4 931.1 L627.0 929.6 L623.6 928.3 L620.3 927.0 L617.1 925.9 L614.1 924.9 L611.4 924.1 L609.2 923.3 L607.5 922.7Z" fill="#f4b6a0" opacity="0.75" filter="url(#b1_2)"/><path d="M617.3 1044.8 L618.8 1045.9 L620.8 1047.3 L623.2 1049.1 L625.8 1051.0 L628.7 1053.1 L631.7 1055.3 L634.7 1057.4 L637.7 1059.4 L640.6 1061.2 L643.4 1062.7 L646.0 1064.1 L648.6 1065.3 L651.2 1066.5 L653.7 1067.6 L656.3 1068.6 L658.9 1069.5 L661.5 1070.3 L664.1 1071.1 L666.8 1071.8 L669.5 1072.5 L672.4 1073.1 L675.5 1073.5 L678.8 1073.9 L682.1 1074.2 L685.4 1074.4 L688.5 1074.6 L691.5 1074.8 L694.1 1074.9 L696.3 1075.0 L698.0 1075.1 L698.0 1074.9 L696.3 1074.7 L694.1 1074.5 L691.5 1074.3 L688.6 1074.1 L685.4 1073.8 L682.2 1073.5 L678.9 1073.1 L675.6 1072.7 L672.5 1072.1 L669.7 1071.5 L667.1 1070.8 L664.4 1070.0 L661.9 1069.2 L659.3 1068.3 L656.8 1067.3 L654.3 1066.3 L651.8 1065.2 L649.3 1063.9 L646.7 1062.6 L644.2 1061.3 L641.6 1059.7 L638.7 1057.8 L635.8 1055.8 L632.8 1053.6 L629.9 1051.4 L627.1 1049.3 L624.5 1047.3 L622.2 1045.5 L620.3 1044.0 L618.7 1042.8Z" fill="#f4b6a0" opacity="0.75" filter="url(#b1_2)"/><path d="M593.8 1108.9 L594.7 1110.4 L595.8 1112.4 L597.1 1114.7 L598.6 1117.2 L600.2 1120.0 L602.0 1122.9 L603.8 1125.9 L605.7 1128.9 L607.5 1131.7 L609.4 1134.4 L611.4 1137.0 L613.5 1139.7 L615.8 1142.5 L618.1 1145.2 L620.4 1147.9 L622.7 1150.6 L625.0 1153.2 L627.1 1155.7 L629.0 1158.0 L630.7 1160.2 L632.2 1162.3 L633.6 1164.3 L634.9 1166.2 L636.1 1168.0 L637.1 1169.7 L638.1 1171.3 L638.9 1172.8 L639.7 1174.1 L640.3 1175.2 L640.9 1176.1 L641.1 1175.9 L640.6 1175.0 L640.0 1173.9 L639.2 1172.6 L638.4 1171.1 L637.5 1169.5 L636.5 1167.8 L635.4 1165.9 L634.1 1163.9 L632.8 1161.9 L631.3 1159.8 L629.6 1157.6 L627.7 1155.2 L625.7 1152.6 L623.5 1150.0 L621.2 1147.3 L619.0 1144.5 L616.7 1141.7 L614.5 1138.9 L612.5 1136.2 L610.6 1133.6 L608.8 1130.9 L607.0 1128.0 L605.2 1125.1 L603.5 1122.1 L601.8 1119.1 L600.3 1116.3 L598.8 1113.7 L597.6 1111.4 L596.5 1109.4 L595.6 1107.9Z" fill="#f4b6a0" opacity="0.75" filter="url(#b1_2)"/><clipPath id="c43"><path d="M216 485 L243 476 L298 520.7 L305.6 471 L330 474 L348 486 L351 525.7 L358 576 L371 626 L365 660 L355 700 L350 740 L350 786 L261 786 L264 760 L268 727 L273 676.5 L275 626 L273 581 L263 551 L243 525.7 L216 508Z"/></clipPath><path d="M216 485 L243 476 L298 520.7 L305.6 471 L330 474 L348 486 L351 525.7 L358 576 L371 626 L365 660 L355 700 L350 740 L350 786 L261 786 L264 760 L268 727 L273 676.5 L275 626 L273 581 L263 551 L243 525.7 L216 508Z" fill="#8491d2"/><g clip-path="url(#c43)"><path d="M216 485 L243 476 L298 520.7 L305.6 471 L330 474 L348 486 L351 525.7 L358 576 L371 626 L365 660 L355 700 L350 740 L350 786 L261 786 L264 760 L268 727 L273 676.5 L275 626 L273 581 L263 551 L243 525.7 L216 508Z" fill="none" stroke="#5666b8" stroke-width="16" filter="url(#b6)" opacity="0.7"/><path d="M300 560C301.7 570 308 596.7 310 620C312 643.3 312 673.3 312 700C312 726.7 310.3 766.7 310 780" fill="none" stroke="#d4d8f2" stroke-width="22" stroke-linecap="round" filter="url(#b9)" opacity="0.95"/><path d="M225 495C230.8 498.3 249.2 506.7 260 515C270.8 523.3 285 540 290 545" fill="none" stroke="#c8cdee" stroke-width="10" stroke-linecap="round" filter="url(#b5)" opacity="0.8"/><path d="M216 485 L243 476 L298 520.7 L305.6 471 L330 474 L348 486 L351 525.7 L358 576 L371 626 L365 660 L355 700 L350 740 L350 786 L261 786 L264 760 L268 727 L273 676.5 L275 626 L273 581 L263 551 L243 525.7 L216 508Z" fill="url(#st2)" mask="url(#m44)"/></g><path d="M216 485 L243 476 L298 520.7 L305.6 471 L330 474 L348 486 L351 525.7 L358 576 L371 626 L365 660 L355 700 L350 740 L350 786 L261 786 L264 760 L268 727 L273 676.5 L275 626 L273 581 L263 551 L243 525.7 L216 508Z" fill="none" stroke="#151515" stroke-width="2.4" stroke-linejoin="round" stroke-linecap="round" /><clipPath id="c45"><path d="M400 890 L398.4 881 L407.6 866 L410.7 843 L406 820 L393.8 804.5 L370.7 789 L350 782 L349 760 L347 727 L351 689 L358 656 L371 631 L381 616 L391 591 L393.6 561 L386 533 L371 510.6 L351 490 L333 478 L308 472 L275 472 L245 475 L220 479 L220 439 L260 436 L299 433 L299 416 L357 415 L371 443 L391 460 L416 483 L434 508 L445 536 L450 560 L455 540 L460 513 L466 493 L473 483 L483 480 L500 486 L508 492 L511 499 L521 496 L531 500 L541 507 L537 518 L537 545 L546 561 L571 586 L586 608 L596 631 L601 654 L605 690 L607 730 L605 772 L575 772 L500 740 L466 720 L444.5 747.6 L439.8 766 L438.3 789 L433.7 820 L439.8 835 L441.4 850.6 L438.3 866 L426 882.8 L414 896Z"/></clipPath><path d="M400 890 L398.4 881 L407.6 866 L410.7 843 L406 820 L393.8 804.5 L370.7 789 L350 782 L349 760 L347 727 L351 689 L358 656 L371 631 L381 616 L391 591 L393.6 561 L386 533 L371 510.6 L351 490 L333 478 L308 472 L275 472 L245 475 L220 479 L220 439 L260 436 L299 433 L299 416 L357 415 L371 443 L391 460 L416 483 L434 508 L445 536 L450 560 L455 540 L460 513 L466 493 L473 483 L483 480 L500 486 L508 492 L511 499 L521 496 L531 500 L541 507 L537 518 L537 545 L546 561 L571 586 L586 608 L596 631 L601 654 L605 690 L607 730 L605 772 L575 772 L500 740 L466 720 L444.5 747.6 L439.8 766 L438.3 789 L433.7 820 L439.8 835 L441.4 850.6 L438.3 866 L426 882.8 L414 896Z" fill="#e4836a"/><g clip-path="url(#c45)"><path d="M400 890 L398.4 881 L407.6 866 L410.7 843 L406 820 L393.8 804.5 L370.7 789 L350 782 L349 760 L347 727 L351 689 L358 656 L371 631 L381 616 L391 591 L393.6 561 L386 533 L371 510.6 L351 490 L333 478 L308 472 L275 472 L245 475 L220 479 L220 439 L260 436 L299 433 L299 416 L357 415 L371 443 L391 460 L416 483 L434 508 L445 536 L450 560 L455 540 L460 513 L466 493 L473 483 L483 480 L500 486 L508 492 L511 499 L521 496 L531 500 L541 507 L537 518 L537 545 L546 561 L571 586 L586 608 L596 631 L601 654 L605 690 L607 730 L605 772 L575 772 L500 740 L466 720 L444.5 747.6 L439.8 766 L438.3 789 L433.7 820 L439.8 835 L441.4 850.6 L438.3 866 L426 882.8 L414 896Z" fill="none" stroke="#c2442c" stroke-width="20" filter="url(#b6)" opacity="0.85"/><path d="M232 452C238.3 451 257 447 270 446C283 445 297.5 445.3 310 446C322.5 446.7 339.2 449.3 345 450" fill="none" stroke="#f4c6b6" stroke-width="10" stroke-linecap="round" filter="url(#b4)" opacity="0.85"/><path d="M330 428C333.7 430.3 344 436.7 352 442C360 447.3 369.3 453.3 378 460C386.7 466.7 396.3 474 404 482C411.7 490 418.3 498.3 424 508C429.7 517.7 434.5 530.5 438 540C441.5 549.5 443.8 560.8 445 565" fill="none" stroke="#f8dacd" stroke-width="16" stroke-linecap="round" filter="url(#b6)" opacity="0.9"/><path d="M400 505C401.3 514.2 406.3 537.5 408 560C409.7 582.5 410 613.3 410 640C410 666.7 409 695 408 720C407 745 404.7 778.3 404 790" fill="none" stroke="#f2bca8" stroke-width="12" stroke-linecap="round" filter="url(#b6)" opacity="0.75"/><path d="M432 650C437 642.5 449.8 615.3 462 605C474.2 594.7 490.7 590.2 505 588C519.3 585.8 535.2 587.5 548 592C560.8 596.5 573.3 605.3 582 615C590.7 624.7 597 644.2 600 650" fill="none" stroke="#fbe6dc" stroke-width="30" stroke-linecap="round" filter="url(#b11)" opacity="0.95"/><path d="M488 492C488.7 496.7 491 510.7 492 520C493 529.3 493.7 543.3 494 548" fill="none" stroke="#f6d4c8" stroke-width="14" stroke-linecap="round" filter="url(#b5)" opacity="0.85"/><path d="M522 505C522.7 509.2 525.3 525.8 526 530" fill="none" stroke="#f4cdbf" stroke-width="8" stroke-linecap="round" filter="url(#b4)" opacity="0.75"/><path d="M438 680C439 690 443 720 444 740C445 760 445 781.7 444 800C443 818.3 439 841.7 438 850" fill="none" stroke="#f1b9a6" stroke-width="10" stroke-linecap="round" filter="url(#b5)" opacity="0.7"/><g filter="url(#b8)" opacity="0.7" fill="#cc5236"><ellipse cx="530" cy="648" rx="70" ry="12"/><ellipse cx="370" cy="700" rx="14" ry="60"/></g><path d="M400 890 L398.4 881 L407.6 866 L410.7 843 L406 820 L393.8 804.5 L370.7 789 L350 782 L349 760 L347 727 L351 689 L358 656 L371 631 L381 616 L391 591 L393.6 561 L386 533 L371 510.6 L351 490 L333 478 L308 472 L275 472 L245 475 L220 479 L220 439 L260 436 L299 433 L299 416 L357 415 L371 443 L391 460 L416 483 L434 508 L445 536 L450 560 L455 540 L460 513 L466 493 L473 483 L483 480 L500 486 L508 492 L511 499 L521 496 L531 500 L541 507 L537 518 L537 545 L546 561 L571 586 L586 608 L596 631 L601 654 L605 690 L607 730 L605 772 L575 772 L500 740 L466 720 L444.5 747.6 L439.8 766 L438.3 789 L433.7 820 L439.8 835 L441.4 850.6 L438.3 866 L426 882.8 L414 896Z" fill="url(#st1)" mask="url(#m46)"/></g><path d="M400 890 L398.4 881 L407.6 866 L410.7 843 L406 820 L393.8 804.5 L370.7 789 L350 782 L349 760 L347 727 L351 689 L358 656 L371 631 L381 616 L391 591 L393.6 561 L386 533 L371 510.6 L351 490 L333 478 L308 472 L275 472 L245 475 L220 479 L220 439 L260 436 L299 433 L299 416 L357 415 L371 443 L391 460 L416 483 L434 508 L445 536 L450 560 L455 540 L460 513 L466 493 L473 483 L483 480 L500 486 L508 492 L511 499 L521 496 L531 500 L541 507 L537 518 L537 545 L546 561 L571 586 L586 608 L596 631 L601 654 L605 690 L607 730 L605 772 L575 772 L500 740 L466 720 L444.5 747.6 L439.8 766 L438.3 789 L433.7 820 L439.8 835 L441.4 850.6 L438.3 866 L426 882.8 L414 896" fill="none" stroke="#151515" stroke-width="2.4" stroke-linejoin="round" stroke-linecap="round" /><path d="M508 494C507.5 497.5 505.8 508.2 505 515C504.2 521.8 503.8 529 503 535C502.2 541 500.5 548.3 500 551" fill="none" stroke="#151515" stroke-width="2.4" stroke-linejoin="round" stroke-linecap="round" /><clipPath id="c47"><path d="M237.7 807C240.2 804.2 250.5 789.3 256.6 786C262.7 782.7 276 782.8 283.8 782C291.6 781.2 306.6 779.7 315 780C323.4 780.3 339.3 782.8 346.7 784C354.1 785.2 364.4 786.3 370.7 789C377 791.7 389.1 800.4 393.8 804.5C398.5 808.6 403.7 814.9 406 820C408.3 825.1 410.5 836.9 410.7 843C410.9 849.1 408 862.9 407.6 866L408.8 877.0L408.1 879.8L407.3 882.0L406.7 883.9L406.0 885.6L405.3 887.0L404.7 888.3L404.0 889.4L403.3 890.5L402.6 891.6L401.7 892.7L400.8 893.9L399.7 895.2L398.7 896.3L397.6 897.4L396.3 898.6L395.0 899.7L393.5 900.9L391.9 902.2L390.2 903.4L388.4 904.7L386.6 906.1L384.8 907.5L383.1 908.7L381.5 909.9L379.7 911.1L378.0 912.4L376.1 913.6L374.2 915.0L372.3 916.3L370.2 917.7L368.2 919.2L366.0 920.8L363.9 922.5L361.7 924.2L359.5 925.9L357.3 927.7L355.0 929.6L352.8 931.4L350.5 933.2L348.3 935.0L346.2 936.8L344.1 938.5L342.1 940.1L340.1 941.7L338.1 943.2L336.1 944.8L334.1 946.4L332.0 948.1L330.0 949.8L327.9 951.6L325.8 953.5L323.8 955.4L321.8 957.5L319.7 959.6L317.7 961.7L315.8 963.9L313.8 966.2L311.9 968.4L310.1 970.6L308.4 972.7L306.8 974.8L305.3 976.8L303.8 978.7L302.6 980.6L301.4 982.4L300.3 984.1L299.3 985.8L298.4 987.5L297.6 989.1L296.7 990.7L295.8 992.3L294.9 993.9L294.0 995.6L293.0 997.3L292.0 999.1L290.9 1001.0L289.8 1002.9L288.8 1004.9L287.7 1007.0L286.7 1009.2L285.7 1011.5L284.8 1013.8L283.9 1016.3L283.2 1018.8L282.5 1021.3L281.9 1023.9L281.4 1026.4L280.9 1028.9L280.4 1031.3L279.9 1033.7L279.4 1036.1L278.9 1038.3L278.4 1040.6L277.9 1042.9L277.4 1045.2L276.9 1047.6L276.4 1049.9L275.9 1052.2L275.5 1054.4L275.0 1056.6L274.6 1058.7L274.3 1060.8L274.0 1062.8L273.7 1064.9L273.5 1066.9L273.3 1068.8L273.1 1070.7L272.9 1072.4L272.8 1073.9L272.7 1075.3L272.6 1076.4L272.5 1077.3L264 1075C258.6 1072.1 243.6 1054.5 238 1047C232.4 1039.5 222.8 1030.2 220 1020C217.2 1009.8 217.2 982.7 216.8 970.5C216.4 958.3 216.2 939.8 216.8 928.6C217.4 917.4 219.6 897.9 221 886.7C222.4 875.5 224.8 855.4 227 844.8C229.2 834.2 236.3 812 237.7 807Z"/></clipPath><path d="M237.7 807C240.2 804.2 250.5 789.3 256.6 786C262.7 782.7 276 782.8 283.8 782C291.6 781.2 306.6 779.7 315 780C323.4 780.3 339.3 782.8 346.7 784C354.1 785.2 364.4 786.3 370.7 789C377 791.7 389.1 800.4 393.8 804.5C398.5 808.6 403.7 814.9 406 820C408.3 825.1 410.5 836.9 410.7 843C410.9 849.1 408 862.9 407.6 866L408.8 877.0L408.1 879.8L407.3 882.0L406.7 883.9L406.0 885.6L405.3 887.0L404.7 888.3L404.0 889.4L403.3 890.5L402.6 891.6L401.7 892.7L400.8 893.9L399.7 895.2L398.7 896.3L397.6 897.4L396.3 898.6L395.0 899.7L393.5 900.9L391.9 902.2L390.2 903.4L388.4 904.7L386.6 906.1L384.8 907.5L383.1 908.7L381.5 909.9L379.7 911.1L378.0 912.4L376.1 913.6L374.2 915.0L372.3 916.3L370.2 917.7L368.2 919.2L366.0 920.8L363.9 922.5L361.7 924.2L359.5 925.9L357.3 927.7L355.0 929.6L352.8 931.4L350.5 933.2L348.3 935.0L346.2 936.8L344.1 938.5L342.1 940.1L340.1 941.7L338.1 943.2L336.1 944.8L334.1 946.4L332.0 948.1L330.0 949.8L327.9 951.6L325.8 953.5L323.8 955.4L321.8 957.5L319.7 959.6L317.7 961.7L315.8 963.9L313.8 966.2L311.9 968.4L310.1 970.6L308.4 972.7L306.8 974.8L305.3 976.8L303.8 978.7L302.6 980.6L301.4 982.4L300.3 984.1L299.3 985.8L298.4 987.5L297.6 989.1L296.7 990.7L295.8 992.3L294.9 993.9L294.0 995.6L293.0 997.3L292.0 999.1L290.9 1001.0L289.8 1002.9L288.8 1004.9L287.7 1007.0L286.7 1009.2L285.7 1011.5L284.8 1013.8L283.9 1016.3L283.2 1018.8L282.5 1021.3L281.9 1023.9L281.4 1026.4L280.9 1028.9L280.4 1031.3L279.9 1033.7L279.4 1036.1L278.9 1038.3L278.4 1040.6L277.9 1042.9L277.4 1045.2L276.9 1047.6L276.4 1049.9L275.9 1052.2L275.5 1054.4L275.0 1056.6L274.6 1058.7L274.3 1060.8L274.0 1062.8L273.7 1064.9L273.5 1066.9L273.3 1068.8L273.1 1070.7L272.9 1072.4L272.8 1073.9L272.7 1075.3L272.6 1076.4L272.5 1077.3L264 1075C258.6 1072.1 243.6 1054.5 238 1047C232.4 1039.5 222.8 1030.2 220 1020C217.2 1009.8 217.2 982.7 216.8 970.5C216.4 958.3 216.2 939.8 216.8 928.6C217.4 917.4 219.6 897.9 221 886.7C222.4 875.5 224.8 855.4 227 844.8C229.2 834.2 236.3 812 237.7 807Z" fill="#a5878f"/><g clip-path="url(#c47)"><path d="M237.7 807C240.2 804.2 250.5 789.3 256.6 786C262.7 782.7 276 782.8 283.8 782C291.6 781.2 306.6 779.7 315 780C323.4 780.3 339.3 782.8 346.7 784C354.1 785.2 364.4 786.3 370.7 789C377 791.7 389.1 800.4 393.8 804.5C398.5 808.6 403.7 814.9 406 820C408.3 825.1 410.5 836.9 410.7 843C410.9 849.1 408 862.9 407.6 866L408.8 877.0L408.1 879.8L407.3 882.0L406.7 883.9L406.0 885.6L405.3 887.0L404.7 888.3L404.0 889.4L403.3 890.5L402.6 891.6L401.7 892.7L400.8 893.9L399.7 895.2L398.7 896.3L397.6 897.4L396.3 898.6L395.0 899.7L393.5 900.9L391.9 902.2L390.2 903.4L388.4 904.7L386.6 906.1L384.8 907.5L383.1 908.7L381.5 909.9L379.7 911.1L378.0 912.4L376.1 913.6L374.2 915.0L372.3 916.3L370.2 917.7L368.2 919.2L366.0 920.8L363.9 922.5L361.7 924.2L359.5 925.9L357.3 927.7L355.0 929.6L352.8 931.4L350.5 933.2L348.3 935.0L346.2 936.8L344.1 938.5L342.1 940.1L340.1 941.7L338.1 943.2L336.1 944.8L334.1 946.4L332.0 948.1L330.0 949.8L327.9 951.6L325.8 953.5L323.8 955.4L321.8 957.5L319.7 959.6L317.7 961.7L315.8 963.9L313.8 966.2L311.9 968.4L310.1 970.6L308.4 972.7L306.8 974.8L305.3 976.8L303.8 978.7L302.6 980.6L301.4 982.4L300.3 984.1L299.3 985.8L298.4 987.5L297.6 989.1L296.7 990.7L295.8 992.3L294.9 993.9L294.0 995.6L293.0 997.3L292.0 999.1L290.9 1001.0L289.8 1002.9L288.8 1004.9L287.7 1007.0L286.7 1009.2L285.7 1011.5L284.8 1013.8L283.9 1016.3L283.2 1018.8L282.5 1021.3L281.9 1023.9L281.4 1026.4L280.9 1028.9L280.4 1031.3L279.9 1033.7L279.4 1036.1L278.9 1038.3L278.4 1040.6L277.9 1042.9L277.4 1045.2L276.9 1047.6L276.4 1049.9L275.9 1052.2L275.5 1054.4L275.0 1056.6L274.6 1058.7L274.3 1060.8L274.0 1062.8L273.7 1064.9L273.5 1066.9L273.3 1068.8L273.1 1070.7L272.9 1072.4L272.8 1073.9L272.7 1075.3L272.6 1076.4L272.5 1077.3L264 1075C258.6 1072.1 243.6 1054.5 238 1047C232.4 1039.5 222.8 1030.2 220 1020C217.2 1009.8 217.2 982.7 216.8 970.5C216.4 958.3 216.2 939.8 216.8 928.6C217.4 917.4 219.6 897.9 221 886.7C222.4 875.5 224.8 855.4 227 844.8C229.2 834.2 236.3 812 237.7 807Z" fill="none" stroke="#7c5c66" stroke-width="26" filter="url(#b9)" opacity="0.6"/><path d="M290 805C298.3 805.2 325.8 802.2 340 806C354.2 809.8 367 819 375 828C383 837 388 848.8 388 860C388 871.2 377.2 889.2 375 895" fill="none" stroke="#dcd0d4" stroke-width="24" stroke-linecap="round" filter="url(#b10)" opacity="0.9"/><path d="M238 955C240 961.7 246 982.5 250 995C254 1007.5 260 1024.2 262 1030" fill="none" stroke="#cdbfc4" stroke-width="16" stroke-linecap="round" filter="url(#b8)" opacity="0.75"/><g filter="url(#b12)" opacity="0.55" fill="#866670"><ellipse cx="275" cy="905" rx="35" ry="55"/></g><path d="M237.7 807C240.2 804.2 250.5 789.3 256.6 786C262.7 782.7 276 782.8 283.8 782C291.6 781.2 306.6 779.7 315 780C323.4 780.3 339.3 782.8 346.7 784C354.1 785.2 364.4 786.3 370.7 789C377 791.7 389.1 800.4 393.8 804.5C398.5 808.6 403.7 814.9 406 820C408.3 825.1 410.5 836.9 410.7 843C410.9 849.1 408 862.9 407.6 866L408.8 877.0L408.1 879.8L407.3 882.0L406.7 883.9L406.0 885.6L405.3 887.0L404.7 888.3L404.0 889.4L403.3 890.5L402.6 891.6L401.7 892.7L400.8 893.9L399.7 895.2L398.7 896.3L397.6 897.4L396.3 898.6L395.0 899.7L393.5 900.9L391.9 902.2L390.2 903.4L388.4 904.7L386.6 906.1L384.8 907.5L383.1 908.7L381.5 909.9L379.7 911.1L378.0 912.4L376.1 913.6L374.2 915.0L372.3 916.3L370.2 917.7L368.2 919.2L366.0 920.8L363.9 922.5L361.7 924.2L359.5 925.9L357.3 927.7L355.0 929.6L352.8 931.4L350.5 933.2L348.3 935.0L346.2 936.8L344.1 938.5L342.1 940.1L340.1 941.7L338.1 943.2L336.1 944.8L334.1 946.4L332.0 948.1L330.0 949.8L327.9 951.6L325.8 953.5L323.8 955.4L321.8 957.5L319.7 959.6L317.7 961.7L315.8 963.9L313.8 966.2L311.9 968.4L310.1 970.6L308.4 972.7L306.8 974.8L305.3 976.8L303.8 978.7L302.6 980.6L301.4 982.4L300.3 984.1L299.3 985.8L298.4 987.5L297.6 989.1L296.7 990.7L295.8 992.3L294.9 993.9L294.0 995.6L293.0 997.3L292.0 999.1L290.9 1001.0L289.8 1002.9L288.8 1004.9L287.7 1007.0L286.7 1009.2L285.7 1011.5L284.8 1013.8L283.9 1016.3L283.2 1018.8L282.5 1021.3L281.9 1023.9L281.4 1026.4L280.9 1028.9L280.4 1031.3L279.9 1033.7L279.4 1036.1L278.9 1038.3L278.4 1040.6L277.9 1042.9L277.4 1045.2L276.9 1047.6L276.4 1049.9L275.9 1052.2L275.5 1054.4L275.0 1056.6L274.6 1058.7L274.3 1060.8L274.0 1062.8L273.7 1064.9L273.5 1066.9L273.3 1068.8L273.1 1070.7L272.9 1072.4L272.8 1073.9L272.7 1075.3L272.6 1076.4L272.5 1077.3L264 1075C258.6 1072.1 243.6 1054.5 238 1047C232.4 1039.5 222.8 1030.2 220 1020C217.2 1009.8 217.2 982.7 216.8 970.5C216.4 958.3 216.2 939.8 216.8 928.6C217.4 917.4 219.6 897.9 221 886.7C222.4 875.5 224.8 855.4 227 844.8C229.2 834.2 236.3 812 237.7 807Z" fill="url(#st2)" mask="url(#m48)"/></g><path d="M237.7 807C240.2 804.2 250.5 789.3 256.6 786C262.7 782.7 276 782.8 283.8 782C291.6 781.2 306.6 779.7 315 780C323.4 780.3 339.3 782.8 346.7 784C354.1 785.2 364.4 786.3 370.7 789C377 791.7 389.1 800.4 393.8 804.5C398.5 808.6 403.7 814.9 406 820C408.3 825.1 410.5 836.9 410.7 843C410.9 849.1 408 862.9 407.6 866L408.8 877.0L408.1 879.8L407.3 882.0L406.7 883.9L406.0 885.6L405.3 887.0L404.7 888.3L404.0 889.4L403.3 890.5L402.6 891.6L401.7 892.7L400.8 893.9L399.7 895.2L398.7 896.3L397.6 897.4L396.3 898.6L395.0 899.7L393.5 900.9L391.9 902.2L390.2 903.4L388.4 904.7L386.6 906.1L384.8 907.5L383.1 908.7L381.5 909.9L379.7 911.1L378.0 912.4L376.1 913.6L374.2 915.0L372.3 916.3L370.2 917.7L368.2 919.2L366.0 920.8L363.9 922.5L361.7 924.2L359.5 925.9L357.3 927.7L355.0 929.6L352.8 931.4L350.5 933.2L348.3 935.0L346.2 936.8L344.1 938.5L342.1 940.1L340.1 941.7L338.1 943.2L336.1 944.8L334.1 946.4L332.0 948.1L330.0 949.8L327.9 951.6L325.8 953.5L323.8 955.4L321.8 957.5L319.7 959.6L317.7 961.7L315.8 963.9L313.8 966.2L311.9 968.4L310.1 970.6L308.4 972.7L306.8 974.8L305.3 976.8L303.8 978.7L302.6 980.6L301.4 982.4L300.3 984.1L299.3 985.8L298.4 987.5L297.6 989.1L296.7 990.7L295.8 992.3L294.9 993.9L294.0 995.6L293.0 997.3L292.0 999.1L290.9 1001.0L289.8 1002.9L288.8 1004.9L287.7 1007.0L286.7 1009.2L285.7 1011.5L284.8 1013.8L283.9 1016.3L283.2 1018.8L282.5 1021.3L281.9 1023.9L281.4 1026.4L280.9 1028.9L280.4 1031.3L279.9 1033.7L279.4 1036.1L278.9 1038.3L278.4 1040.6L277.9 1042.9L277.4 1045.2L276.9 1047.6L276.4 1049.9L275.9 1052.2L275.5 1054.4L275.0 1056.6L274.6 1058.7L274.3 1060.8L274.0 1062.8L273.7 1064.9L273.5 1066.9L273.3 1068.8L273.1 1070.7L272.9 1072.4L272.8 1073.9L272.7 1075.3L272.6 1076.4L272.5 1077.3L264 1075C258.6 1072.1 243.6 1054.5 238 1047C232.4 1039.5 222.8 1030.2 220 1020C217.2 1009.8 217.2 982.7 216.8 970.5C216.4 958.3 216.2 939.8 216.8 928.6C217.4 917.4 219.6 897.9 221 886.7C222.4 875.5 224.8 855.4 227 844.8C229.2 834.2 236.3 812 237.7 807Z" fill="none" stroke="#151515" stroke-width="2.4" stroke-linejoin="round" stroke-linecap="round" /><g mask="url(#mPTf)"><clipPath id="c49"><path d="M483 656 L551 658.6 L601 656 L643.8 650 L651 658.6 L656 676 L654 701 L647.6 724 L639 726.5 L576 726.5 L563 734 L561 751.7 L560 763 L564.6 804.8 L571 828 L575 875 L440 875 L438 834 L437.7 810 L440 764 L450 739 L465 721.5 L469 701 L473 671Z"/></clipPath><path d="M483 656 L551 658.6 L601 656 L643.8 650 L651 658.6 L656 676 L654 701 L647.6 724 L639 726.5 L576 726.5 L563 734 L561 751.7 L560 763 L564.6 804.8 L571 828 L575 875 L440 875 L438 834 L437.7 810 L440 764 L450 739 L465 721.5 L469 701 L473 671Z" fill="#9d86b8"/><g clip-path="url(#c49)"><path d="M576 726.5C581.7 726.6 598.1 727.4 610 727C621.9 726.6 641.3 724.5 647.6 724" fill="none" stroke="#7e64a2" stroke-width="12" filter="url(#b5)" opacity="0.55"/><path d="M563 734C562.7 737 561.5 746.9 561 751.7C560.5 756.5 559.4 754.1 560 763C560.6 771.9 562.8 794 564.6 804.8C566.4 815.6 569.9 824.1 571 828" fill="none" stroke="#7e64a2" stroke-width="12" filter="url(#b5)" opacity="0.55"/><path d="M482 860C483.7 850 488.2 820 492 800C495.8 780 499 756.7 505 740C511 723.3 517.2 709.3 528 700C538.8 690.7 554.7 687.7 570 684C585.3 680.3 606.7 678.3 620 678C633.3 677.7 645 681.3 650 682" fill="none" stroke="#d4cade" stroke-width="30" stroke-linecap="round" filter="url(#b11)" opacity="0.95"/><path d="M445 880C457.5 878.7 499.2 873.3 520 872C540.8 870.7 561.7 872 570 872" fill="none" stroke="#f0e0e2" stroke-width="40" stroke-linecap="round" filter="url(#b12)" opacity="0.9"/><path d="M483 656 L551 658.6 L601 656 L643.8 650 L651 658.6 L656 676 L654 701 L647.6 724 L639 726.5 L576 726.5 L563 734 L561 751.7 L560 763 L564.6 804.8 L571 828 L575 875 L440 875 L438 834 L437.7 810 L440 764 L450 739 L465 721.5 L469 701 L473 671Z" fill="url(#st2)" mask="url(#m50)"/></g></g><path d="M440 805 L440 764 L450 739 L465 721.5 L469 701 L473 671 L483 656 L551 658.6 L601 656 L643.8 650 L651 658.6 L656 676 L654 701 L647.6 724 L639 726.5 L576 726.5 L563 734" fill="none" stroke="#151515" stroke-width="2.4" stroke-linejoin="round" stroke-linecap="round" /><clipPath id="c51"><path d="M562.5 733.5C564.5 729.2 570 726.5 575 731C580 735.5 594.4 760 600 767C605.6 774 613.5 779.3 617 783.8C620.5 788.3 624.3 796.2 626 800.6C627.7 805 628.2 813.1 629.5 817C630.8 820.9 635.2 826.3 635.8 830C636.4 833.7 634.5 842.4 633.7 844.6C632.9 846.8 632.8 847.8 629.5 846.7C626.2 845.6 616.4 838.5 608.6 836C600.8 833.5 576.9 832.2 571 828C565.1 823.8 566.1 813.5 564.6 804.8C563.1 796.1 560.3 772.5 560 763C559.7 753.5 560.5 737.8 562.5 733.5Z"/></clipPath><path d="M562.5 733.5C564.5 729.2 570 726.5 575 731C580 735.5 594.4 760 600 767C605.6 774 613.5 779.3 617 783.8C620.5 788.3 624.3 796.2 626 800.6C627.7 805 628.2 813.1 629.5 817C630.8 820.9 635.2 826.3 635.8 830C636.4 833.7 634.5 842.4 633.7 844.6C632.9 846.8 632.8 847.8 629.5 846.7C626.2 845.6 616.4 838.5 608.6 836C600.8 833.5 576.9 832.2 571 828C565.1 823.8 566.1 813.5 564.6 804.8C563.1 796.1 560.3 772.5 560 763C559.7 753.5 560.5 737.8 562.5 733.5Z" fill="#b4a6aa"/><g clip-path="url(#c51)"><path d="M562.5 733.5C564.5 729.2 570 726.5 575 731C580 735.5 594.4 760 600 767C605.6 774 613.5 779.3 617 783.8C620.5 788.3 624.3 796.2 626 800.6C627.7 805 628.2 813.1 629.5 817C630.8 820.9 635.2 826.3 635.8 830C636.4 833.7 634.5 842.4 633.7 844.6C632.9 846.8 632.8 847.8 629.5 846.7C626.2 845.6 616.4 838.5 608.6 836C600.8 833.5 576.9 832.2 571 828C565.1 823.8 566.1 813.5 564.6 804.8C563.1 796.1 560.3 772.5 560 763C559.7 753.5 560.5 737.8 562.5 733.5Z" fill="none" stroke="#857478" stroke-width="10" filter="url(#b4)" opacity="0.55"/><path d="M584 765C586.3 769.5 594 783.7 598 792C602 800.3 605.2 808.7 608 815C610.8 821.3 613.8 827.5 615 830" fill="none" stroke="#ebe5e5" stroke-width="16" stroke-linecap="round" filter="url(#b6)" opacity="0.95"/><path d="M562.5 733.5C564.5 729.2 570 726.5 575 731C580 735.5 594.4 760 600 767C605.6 774 613.5 779.3 617 783.8C620.5 788.3 624.3 796.2 626 800.6C627.7 805 628.2 813.1 629.5 817C630.8 820.9 635.2 826.3 635.8 830C636.4 833.7 634.5 842.4 633.7 844.6C632.9 846.8 632.8 847.8 629.5 846.7C626.2 845.6 616.4 838.5 608.6 836C600.8 833.5 576.9 832.2 571 828C565.1 823.8 566.1 813.5 564.6 804.8C563.1 796.1 560.3 772.5 560 763C559.7 753.5 560.5 737.8 562.5 733.5Z" fill="url(#st2)" mask="url(#m52)"/></g><path d="M562.5 733.5C564.5 729.2 570 726.5 575 731C580 735.5 594.4 760 600 767C605.6 774 613.5 779.3 617 783.8C620.5 788.3 624.3 796.2 626 800.6C627.7 805 628.2 813.1 629.5 817C630.8 820.9 635.2 826.3 635.8 830C636.4 833.7 634.5 842.4 633.7 844.6C632.9 846.8 632.8 847.8 629.5 846.7C626.2 845.6 616.4 838.5 608.6 836C600.8 833.5 576.9 832.2 571 828C565.1 823.8 566.1 813.5 564.6 804.8C563.1 796.1 560.3 772.5 560 763C559.7 753.5 560.5 737.8 562.5 733.5Z" fill="none" stroke="#151515" stroke-width="2.2" stroke-linejoin="round" stroke-linecap="round" /><path d="M222 460C230.8 458.5 257.7 452.5 275 451C292.3 449.5 311.3 449 326 451C340.7 453 352.2 457.7 363 463C373.8 468.3 383 474.7 391 483C399 491.3 405.5 501.7 411 513C416.5 524.3 421.2 536.3 424 551C426.8 565.7 427.3 584.3 427.5 601C427.7 617.7 426.1 634.2 425 651C423.9 667.8 422.3 683.8 421 702C419.7 720.2 417.7 745.5 417 760C416.3 774.5 416 780.3 417 789C418 797.7 421.2 804.3 423 812C424.8 819.7 427.1 827.3 427.6 835C428.1 842.7 427.8 850.8 426 858C424.2 865.2 421.4 871.5 416.8 878C412.2 884.5 406.1 889.8 398.4 896.7C390.7 903.7 378.8 913 370.7 919.7C362.6 926.4 357.6 930 350 937C342.4 944 332.5 952.7 325 962C317.5 971.3 308.3 987.8 305 993" fill="none" stroke="#151515" stroke-width="3.2"/><clipPath id="c53"><path d="M295.3 996.3 L310.8 1002.7 L299 1038 L280.8 1035.3Z"/></clipPath><path d="M295.3 996.3 L310.8 1002.7 L299 1038 L280.8 1035.3Z" fill="#f4dcb0"/><g clip-path="url(#c53)"></g><path d="M295.3 996.3 L310.8 1002.7 L299 1038 L280.8 1035.3Z" fill="none" stroke="#151515" stroke-width="2.4" stroke-linejoin="round"/></svg>
<div id="title">Myocardial infarction - interventions</div>
<div class="ln" style="left:170px;top:376px;width:15px"></div>
<div class="ln" style="left:2440px;top:376px;width:133px"></div>
<div class="cap" style="left:264px;top:1262px"><span>The balloon-tipped</span><span>catheter is positioned</span><span>in the artery.</span></div>
<div class="cap" style="left:214px;top:1262px"><span><b>1.</b></span></div>
<div class="cap" style="left:842px;top:1262px"><span>The uninflated balloon</span><span>is centered in the</span><span>obstruction.</span></div>
<div class="cap" style="left:790px;top:1262px"><span><b>2.</b></span></div>
<div class="cap" style="left:1376px;top:1262px"><span>The balloon is inflated,</span><span>which flattens plaque</span><span>against the artery wall.</span></div>
<div class="cap" style="left:1324px;top:1262px"><span><b>3.</b></span></div>
<div class="cap" style="left:1945px;top:1262px"><span>The balloon is removed,</span><span>and the artery is left</span><span>unoccluded.</span></div>
<div class="cap" style="left:1894px;top:1262px"><span><b>4.</b></span></div>
</body></html>
